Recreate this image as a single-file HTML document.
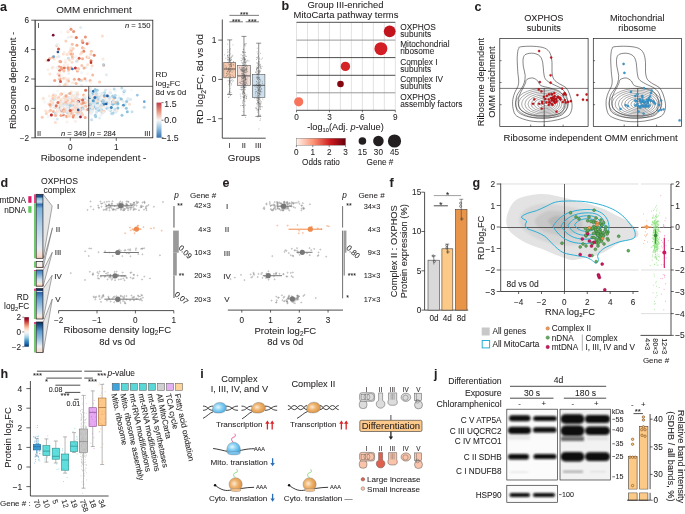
<!DOCTYPE html>
<html><head><meta charset="utf-8"><style>
html,body{margin:0;padding:0;background:#fff;width:685px;height:514px;overflow:hidden}
svg{display:block}
text{font-family:"Liberation Sans", sans-serif;fill:#231f20;stroke:#231f20;stroke-width:0.07px}
svg{will-change:transform}
</style></head><body>
<svg width="685" height="514" viewBox="0 0 685 514">
<defs>
<linearGradient id="gA" x1="0" y1="0" x2="0" y2="1"><stop offset="0" stop-color="#bb3a47"/><stop offset="0.25" stop-color="#e8957e"/><stop offset="0.5" stop-color="#f7f7f7"/><stop offset="0.75" stop-color="#8fbcdc"/><stop offset="1" stop-color="#3670b0"/></linearGradient>
<linearGradient id="gD" x1="0" y1="0" x2="0" y2="1"><stop offset="0.0" stop-color="#67001f"/><stop offset="0.1" stop-color="#b2182b"/><stop offset="0.2" stop-color="#d6604d"/><stop offset="0.3" stop-color="#f4a582"/><stop offset="0.4" stop-color="#fddbc7"/><stop offset="0.5" stop-color="#f7f7f7"/><stop offset="0.6" stop-color="#d1e5f0"/><stop offset="0.7" stop-color="#92c5de"/><stop offset="0.8" stop-color="#4393c3"/><stop offset="0.9" stop-color="#2166ac"/><stop offset="1.0" stop-color="#053061"/></linearGradient>
<linearGradient id="gB" x1="0" y1="0" x2="1" y2="0"><stop offset="0" stop-color="#fff5f0"/><stop offset="0.35" stop-color="#fc9272"/><stop offset="0.7" stop-color="#cb181d"/><stop offset="1" stop-color="#67000d"/></linearGradient>
<radialGradient id="gBlue" cx="0.4" cy="0.45" r="0.62"><stop offset="0" stop-color="#e6f6fe"/><stop offset="0.45" stop-color="#8ed2f4"/><stop offset="1" stop-color="#45ace4"/></radialGradient>
<radialGradient id="gOr" cx="0.4" cy="0.45" r="0.62"><stop offset="0" stop-color="#fdebd3"/><stop offset="0.45" stop-color="#eeb470"/><stop offset="1" stop-color="#d98f3e"/></radialGradient>
<filter id="blur1" x="-20%" y="-50%" width="140%" height="200%"><feGaussianBlur stdDeviation="1.2"/></filter>
<filter id="blur05" x="-20%" y="-60%" width="140%" height="220%"><feGaussianBlur stdDeviation="0.7"/></filter>
<filter id="blur08" x="-20%" y="-80%" width="140%" height="260%"><feGaussianBlur stdDeviation="0.9"/></filter>
<filter id="blur2" x="-20%" y="-20%" width="140%" height="140%"><feGaussianBlur stdDeviation="2.5"/></filter>
</defs>
<text x="0.00" y="10.70" font-size="12.5" font-weight="bold" >a</text>
<text x="94.00" y="12.96" font-size="9.9" text-anchor="middle" >OMM enrichment</text>
<circle cx="94.8" cy="106" r="1.5" fill="#d0e5f0" fill-opacity="0.83"/>
<circle cx="60.1" cy="79.3" r="1.5" fill="#ee9677" fill-opacity="0.97"/>
<circle cx="117.4" cy="101.8" r="1.5" fill="#aad1e5" fill-opacity="0.90"/>
<circle cx="119.5" cy="97.9" r="1.5" fill="#bbdaea" fill-opacity="0.87"/>
<circle cx="64.2" cy="104.5" r="1.5" fill="#f3f5f6" fill-opacity="0.73"/>
<circle cx="92.3" cy="99.9" r="1.5" fill="#b6d7e8" fill-opacity="0.88"/>
<circle cx="75.9" cy="110.7" r="1.5" fill="#ef9a79" fill-opacity="0.96"/>
<circle cx="83.3" cy="98.8" r="1.5" fill="#f9c5ab" fill-opacity="0.88"/>
<circle cx="51.7" cy="114.7" r="1.5" fill="#f7b89b" fill-opacity="0.90"/>
<circle cx="119.4" cy="100.1" r="1.5" fill="#faeae1" fill-opacity="0.77"/>
<circle cx="101.3" cy="109.7" r="1.5" fill="#c1ddeb" fill-opacity="0.86"/>
<circle cx="54" cy="119.2" r="1.5" fill="#f4f6f6" fill-opacity="0.73"/>
<circle cx="95.2" cy="108" r="1.5" fill="#f6f6f7" fill-opacity="0.72"/>
<circle cx="72.2" cy="103.1" r="1.5" fill="#fac9b0" fill-opacity="0.87"/>
<circle cx="91.6" cy="98.1" r="1.5" fill="#d1e5f0" fill-opacity="0.83"/>
<circle cx="97.4" cy="94.1" r="1.5" fill="#d4e6f1" fill-opacity="0.82"/>
<circle cx="70.3" cy="110.4" r="1.5" fill="#f9ede6" fill-opacity="0.76"/>
<circle cx="60.5" cy="61.3" r="1.5" fill="#fcdecc" fill-opacity="0.82"/>
<circle cx="75.8" cy="112.1" r="1.5" fill="#cfe4ef" fill-opacity="0.84"/>
<circle cx="64" cy="70" r="1.5" fill="#fcd6c1" fill-opacity="0.84"/>
<circle cx="97.6" cy="104.8" r="1.5" fill="#9ecbe1" fill-opacity="0.92"/>
<circle cx="77.4" cy="71" r="1.5" fill="#f5a886" fill-opacity="0.94"/>
<circle cx="85.9" cy="67.6" r="1.5" fill="#d8e8f1" fill-opacity="0.81"/>
<circle cx="60.9" cy="99.4" r="1.5" fill="#fce0cf" fill-opacity="0.81"/>
<circle cx="89.4" cy="100.4" r="1.5" fill="#f3f5f6" fill-opacity="0.73"/>
<circle cx="61.9" cy="105" r="1.5" fill="#fce0cf" fill-opacity="0.81"/>
<circle cx="93.4" cy="91.3" r="1.5" fill="#256baf" fill-opacity="1.00"/>
<circle cx="66.5" cy="95.6" r="1.5" fill="#f8bb9d" fill-opacity="0.90"/>
<circle cx="91.1" cy="107.4" r="1.5" fill="#bfdceb" fill-opacity="0.86"/>
<circle cx="98.2" cy="110.6" r="1.5" fill="#eaf1f5" fill-opacity="0.76"/>
<circle cx="58.5" cy="66.8" r="1.5" fill="#fbd1ba" fill-opacity="0.85"/>
<circle cx="106" cy="97.1" r="1.5" fill="#f7b799" fill-opacity="0.91"/>
<circle cx="88.7" cy="57.6" r="1.5" fill="#f7b597" fill-opacity="0.91"/>
<circle cx="79.6" cy="107.5" r="1.5" fill="#faebe2" fill-opacity="0.77"/>
<circle cx="66.4" cy="109.2" r="1.5" fill="#f7f6f5" fill-opacity="0.72"/>
<circle cx="69.2" cy="110.4" r="1.5" fill="#f9ece3" fill-opacity="0.77"/>
<circle cx="68.8" cy="109.9" r="1.5" fill="#fbceb6" fill-opacity="0.86"/>
<circle cx="75.3" cy="98" r="1.5" fill="#fbd1ba" fill-opacity="0.85"/>
<circle cx="67.5" cy="54.3" r="1.5" fill="#fbe3d5" fill-opacity="0.80"/>
<circle cx="77.3" cy="94.3" r="1.5" fill="#b1d5e7" fill-opacity="0.89"/>
<circle cx="57.1" cy="57" r="1.5" fill="#fbe2d3" fill-opacity="0.80"/>
<circle cx="84.8" cy="97.2" r="1.5" fill="#f8f1ed" fill-opacity="0.74"/>
<circle cx="52.8" cy="96.2" r="1.5" fill="#fcdecc" fill-opacity="0.82"/>
<circle cx="89.7" cy="96.3" r="1.5" fill="#e9f1f4" fill-opacity="0.76"/>
<circle cx="93.3" cy="101.9" r="1.5" fill="#a5cfe3" fill-opacity="0.91"/>
<circle cx="64.2" cy="99.6" r="1.5" fill="#e0765e" fill-opacity="1.00"/>
<circle cx="83.7" cy="51.2" r="1.5" fill="#e58267" fill-opacity="1.00"/>
<circle cx="89.9" cy="104.8" r="1.5" fill="#bcdaea" fill-opacity="0.87"/>
<circle cx="91.7" cy="93.8" r="1.5" fill="#a5cfe3" fill-opacity="0.91"/>
<circle cx="105.9" cy="103.7" r="1.5" fill="#fae8dd" fill-opacity="0.78"/>
<circle cx="46.8" cy="60.5" r="1.5" fill="#fcd5bf" fill-opacity="0.85"/>
<circle cx="69.6" cy="114.2" r="1.5" fill="#f5a987" fill-opacity="0.94"/>
<circle cx="52.9" cy="98.4" r="1.5" fill="#f8bda0" fill-opacity="0.90"/>
<circle cx="130.3" cy="99.2" r="1.5" fill="#c3deec" fill-opacity="0.86"/>
<circle cx="90.3" cy="101.1" r="1.5" fill="#f9efe9" fill-opacity="0.75"/>
<circle cx="66.6" cy="110.4" r="1.5" fill="#f9ebe3" fill-opacity="0.77"/>
<circle cx="70.5" cy="113.9" r="1.5" fill="#edf2f5" fill-opacity="0.75"/>
<circle cx="74.2" cy="104.8" r="1.5" fill="#e37d63" fill-opacity="1.00"/>
<circle cx="95.1" cy="102.1" r="1.5" fill="#c2ddec" fill-opacity="0.86"/>
<circle cx="79.8" cy="103.8" r="1.5" fill="#faebe2" fill-opacity="0.77"/>
<circle cx="85.6" cy="103.2" r="1.5" fill="#dfecf3" fill-opacity="0.79"/>
<circle cx="59.6" cy="107.9" r="1.5" fill="#fddcc8" fill-opacity="0.83"/>
<circle cx="71.7" cy="113.3" r="1.5" fill="#b2d5e7" fill-opacity="0.89"/>
<circle cx="70.8" cy="104" r="1.5" fill="#f5ac8b" fill-opacity="0.93"/>
<circle cx="77.4" cy="92.4" r="1.5" fill="#fcdecc" fill-opacity="0.82"/>
<circle cx="123.7" cy="94.2" r="1.5" fill="#ebf1f5" fill-opacity="0.75"/>
<circle cx="109.8" cy="105.9" r="1.5" fill="#f4f6f7" fill-opacity="0.73"/>
<circle cx="102.9" cy="101.9" r="1.5" fill="#deebf2" fill-opacity="0.79"/>
<circle cx="74.6" cy="110.7" r="1.5" fill="#e6eff4" fill-opacity="0.77"/>
<circle cx="116" cy="112.1" r="1.5" fill="#d7e8f1" fill-opacity="0.82"/>
<circle cx="96.4" cy="112.7" r="1.5" fill="#dfecf3" fill-opacity="0.79"/>
<circle cx="68.8" cy="93.5" r="1.5" fill="#deebf2" fill-opacity="0.79"/>
<circle cx="106.8" cy="107.2" r="1.5" fill="#c9e1ee" fill-opacity="0.85"/>
<circle cx="81.9" cy="98.1" r="1.5" fill="#f8f1ed" fill-opacity="0.74"/>
<circle cx="81.9" cy="80.2" r="1.5" fill="#facbb3" fill-opacity="0.87"/>
<circle cx="102.8" cy="103" r="1.5" fill="#abd2e5" fill-opacity="0.90"/>
<circle cx="53.5" cy="94.9" r="1.5" fill="#fac9b0" fill-opacity="0.87"/>
<circle cx="109.4" cy="99.4" r="1.5" fill="#d1e5f0" fill-opacity="0.83"/>
<circle cx="125.5" cy="90.7" r="1.5" fill="#f0f4f6" fill-opacity="0.74"/>
<circle cx="78.9" cy="102.1" r="1.5" fill="#f4a785" fill-opacity="0.94"/>
<circle cx="101.4" cy="95.5" r="1.5" fill="#cae2ee" fill-opacity="0.84"/>
<circle cx="48.6" cy="103.8" r="1.5" fill="#fbe3d5" fill-opacity="0.80"/>
<circle cx="77.1" cy="97" r="1.5" fill="#fbe3d5" fill-opacity="0.80"/>
<circle cx="86.2" cy="80.7" r="1.5" fill="#deebf2" fill-opacity="0.80"/>
<circle cx="67.8" cy="96.7" r="1.5" fill="#eaf1f5" fill-opacity="0.76"/>
<circle cx="72.8" cy="101.6" r="1.5" fill="#fdddca" fill-opacity="0.83"/>
<circle cx="105.6" cy="94.8" r="1.5" fill="#faeae0" fill-opacity="0.77"/>
<circle cx="51.3" cy="104.3" r="1.5" fill="#fae8dd" fill-opacity="0.78"/>
<circle cx="106.8" cy="104.5" r="1.5" fill="#dfecf3" fill-opacity="0.79"/>
<circle cx="131.5" cy="90.1" r="1.5" fill="#f6f6f7" fill-opacity="0.72"/>
<circle cx="59.5" cy="85.1" r="1.5" fill="#fae9df" fill-opacity="0.78"/>
<circle cx="99.5" cy="98.1" r="1.5" fill="#fbe2d4" fill-opacity="0.80"/>
<circle cx="109.3" cy="103.2" r="1.5" fill="#ecf2f5" fill-opacity="0.75"/>
<circle cx="91.8" cy="109.8" r="1.5" fill="#83bbd9" fill-opacity="0.97"/>
<circle cx="91.4" cy="96.5" r="1.5" fill="#dae9f2" fill-opacity="0.81"/>
<circle cx="94.8" cy="99.6" r="1.5" fill="#d0e5f0" fill-opacity="0.83"/>
<circle cx="101.7" cy="92.9" r="1.5" fill="#d9e9f1" fill-opacity="0.81"/>
<circle cx="68" cy="103.8" r="1.5" fill="#f9c4aa" fill-opacity="0.88"/>
<circle cx="108.3" cy="107.4" r="1.5" fill="#bbdaea" fill-opacity="0.87"/>
<circle cx="92.4" cy="93.9" r="1.5" fill="#87beda" fill-opacity="0.96"/>
<circle cx="81.5" cy="108.4" r="1.5" fill="#eef3f5" fill-opacity="0.75"/>
<circle cx="78.4" cy="68.5" r="1.5" fill="#fcd5bf" fill-opacity="0.85"/>
<circle cx="92.5" cy="99.6" r="1.5" fill="#f5f6f7" fill-opacity="0.73"/>
<circle cx="93.7" cy="98.7" r="1.5" fill="#4896c5" fill-opacity="1.00"/>
<circle cx="108.2" cy="98" r="1.5" fill="#eff3f6" fill-opacity="0.74"/>
<circle cx="103.9" cy="100" r="1.5" fill="#ddeaf2" fill-opacity="0.80"/>
<circle cx="73" cy="48.4" r="1.5" fill="#fac8ae" fill-opacity="0.87"/>
<circle cx="66.6" cy="116.8" r="1.5" fill="#f8bb9f" fill-opacity="0.90"/>
<circle cx="98.9" cy="105.5" r="1.5" fill="#fae8de" fill-opacity="0.78"/>
<circle cx="59.2" cy="111" r="1.5" fill="#fae8de" fill-opacity="0.78"/>
<circle cx="94.1" cy="106.2" r="1.5" fill="#5ba2cb" fill-opacity="1.00"/>
<circle cx="99.5" cy="98.5" r="1.5" fill="#deebf2" fill-opacity="0.79"/>
<circle cx="75.2" cy="103.7" r="1.5" fill="#e0ecf3" fill-opacity="0.79"/>
<circle cx="75.4" cy="67.9" r="1.5" fill="#c13539" fill-opacity="1.00"/>
<circle cx="71.4" cy="36.8" r="1.5" fill="#fcdecc" fill-opacity="0.82"/>
<circle cx="80.3" cy="110.6" r="1.5" fill="#e98b6e" fill-opacity="0.99"/>
<circle cx="100.9" cy="111.6" r="1.5" fill="#deebf2" fill-opacity="0.79"/>
<circle cx="94" cy="98.1" r="1.5" fill="#fce0d0" fill-opacity="0.81"/>
<circle cx="85.2" cy="117.5" r="1.5" fill="#f4a785" fill-opacity="0.94"/>
<circle cx="92.3" cy="109.1" r="1.5" fill="#98c8e0" fill-opacity="0.93"/>
<circle cx="89.1" cy="42.4" r="1.5" fill="#fae7dc" fill-opacity="0.78"/>
<circle cx="59.6" cy="70.2" r="1.5" fill="#df745c" fill-opacity="1.00"/>
<circle cx="94.5" cy="97.3" r="1.5" fill="#eef3f5" fill-opacity="0.75"/>
<circle cx="65.4" cy="62.3" r="1.5" fill="#fbe4d6" fill-opacity="0.80"/>
<circle cx="107.5" cy="89.4" r="1.5" fill="#f5f6f7" fill-opacity="0.73"/>
<circle cx="72.5" cy="95.6" r="1.5" fill="#dbeaf2" fill-opacity="0.80"/>
<circle cx="110.5" cy="110.4" r="1.5" fill="#aed3e6" fill-opacity="0.89"/>
<circle cx="87" cy="57.1" r="1.5" fill="#f8bca0" fill-opacity="0.90"/>
<circle cx="101.5" cy="98.2" r="1.5" fill="#e2edf3" fill-opacity="0.78"/>
<circle cx="72.2" cy="100.9" r="1.5" fill="#fcd7c2" fill-opacity="0.84"/>
<circle cx="61.7" cy="112.1" r="1.5" fill="#f8ba9d" fill-opacity="0.90"/>
<circle cx="71.4" cy="102.3" r="1.5" fill="#f8f0ec" fill-opacity="0.75"/>
<circle cx="72" cy="62.2" r="1.5" fill="#fcd7c2" fill-opacity="0.84"/>
<circle cx="90.1" cy="97.5" r="1.5" fill="#aad1e5" fill-opacity="0.90"/>
<circle cx="104.3" cy="108.2" r="1.5" fill="#e2edf3" fill-opacity="0.78"/>
<circle cx="77.2" cy="60.7" r="1.5" fill="#fbceb6" fill-opacity="0.86"/>
<circle cx="94.1" cy="98.5" r="1.5" fill="#97c8e0" fill-opacity="0.94"/>
<circle cx="73.8" cy="109.2" r="1.5" fill="#f7b89a" fill-opacity="0.91"/>
<circle cx="66.3" cy="110" r="1.5" fill="#fae8dd" fill-opacity="0.78"/>
<circle cx="114.9" cy="105.8" r="1.5" fill="#f4f5f6" fill-opacity="0.73"/>
<circle cx="56.8" cy="45.8" r="1.5" fill="#fac7ae" fill-opacity="0.87"/>
<circle cx="80" cy="117.8" r="1.5" fill="#f8f2ee" fill-opacity="0.74"/>
<circle cx="72.5" cy="58.5" r="1.5" fill="#fcd4bf" fill-opacity="0.85"/>
<circle cx="50.5" cy="106.6" r="1.5" fill="#fcd4be" fill-opacity="0.85"/>
<circle cx="55.5" cy="95.5" r="1.5" fill="#fbd0b9" fill-opacity="0.85"/>
<circle cx="71.3" cy="104.1" r="1.5" fill="#f9f0eb" fill-opacity="0.75"/>
<circle cx="71.2" cy="110.4" r="1.5" fill="#faeae1" fill-opacity="0.77"/>
<circle cx="109.2" cy="108.8" r="1.5" fill="#dbeaf2" fill-opacity="0.80"/>
<circle cx="103.4" cy="102.2" r="1.5" fill="#fae7dc" fill-opacity="0.78"/>
<circle cx="103.4" cy="102.6" r="1.5" fill="#f8f2ee" fill-opacity="0.74"/>
<circle cx="80.2" cy="113.3" r="1.5" fill="#c1ddeb" fill-opacity="0.86"/>
<circle cx="58.4" cy="108.3" r="1.5" fill="#f8f0eb" fill-opacity="0.75"/>
<circle cx="55.4" cy="122.6" r="1.5" fill="#fdd8c4" fill-opacity="0.84"/>
<circle cx="53.4" cy="111.4" r="1.5" fill="#f6b090" fill-opacity="0.92"/>
<circle cx="82.2" cy="107" r="1.5" fill="#e0ecf3" fill-opacity="0.79"/>
<circle cx="106.5" cy="108.5" r="1.5" fill="#f9ece3" fill-opacity="0.77"/>
<circle cx="82.9" cy="106.9" r="1.5" fill="#facbb3" fill-opacity="0.87"/>
<circle cx="70.5" cy="105.7" r="1.5" fill="#bbdaea" fill-opacity="0.87"/>
<circle cx="70.8" cy="109.1" r="1.5" fill="#f9eee7" fill-opacity="0.76"/>
<circle cx="102.7" cy="108.9" r="1.5" fill="#dae9f2" fill-opacity="0.81"/>
<circle cx="91" cy="60.8" r="1.5" fill="#df755d" fill-opacity="1.00"/>
<circle cx="76.5" cy="113.9" r="1.5" fill="#e4eef3" fill-opacity="0.78"/>
<circle cx="74.7" cy="97.8" r="1.5" fill="#fce0d0" fill-opacity="0.81"/>
<circle cx="127.3" cy="102.2" r="1.5" fill="#f8f1ed" fill-opacity="0.74"/>
<circle cx="100.9" cy="115.1" r="1.5" fill="#e7f0f4" fill-opacity="0.77"/>
<circle cx="129.8" cy="99.4" r="1.5" fill="#e2edf3" fill-opacity="0.78"/>
<circle cx="70.3" cy="27.1" r="1.5" fill="#f8f3f1" fill-opacity="0.73"/>
<circle cx="66.6" cy="97.7" r="1.5" fill="#fcd4be" fill-opacity="0.85"/>
<circle cx="65.2" cy="99.6" r="1.5" fill="#facbb2" fill-opacity="0.87"/>
<circle cx="97.1" cy="103.5" r="1.5" fill="#eff3f5" fill-opacity="0.74"/>
<circle cx="87.9" cy="100.6" r="1.5" fill="#e0ecf3" fill-opacity="0.79"/>
<circle cx="82.5" cy="58.8" r="1.5" fill="#f5ab89" fill-opacity="0.93"/>
<circle cx="76.9" cy="45.2" r="1.5" fill="#f3a380" fill-opacity="0.95"/>
<circle cx="109.1" cy="92.6" r="1.5" fill="#f7f6f5" fill-opacity="0.73"/>
<circle cx="78.1" cy="117.1" r="1.5" fill="#e3eef3" fill-opacity="0.78"/>
<circle cx="60.9" cy="32.2" r="1.5" fill="#f7f7f7" fill-opacity="0.72"/>
<circle cx="77.6" cy="113" r="1.5" fill="#ef9a79" fill-opacity="0.96"/>
<circle cx="54.7" cy="80.4" r="1.5" fill="#f09c7b" fill-opacity="0.96"/>
<circle cx="91.5" cy="112.3" r="1.5" fill="#f2f5f6" fill-opacity="0.73"/>
<circle cx="127.8" cy="99.2" r="1.5" fill="#deebf2" fill-opacity="0.80"/>
<circle cx="111.5" cy="97.1" r="1.5" fill="#e7eff4" fill-opacity="0.77"/>
<circle cx="71.2" cy="91.9" r="1.5" fill="#fddcc9" fill-opacity="0.83"/>
<circle cx="76.5" cy="99.9" r="1.5" fill="#fdddcb" fill-opacity="0.82"/>
<circle cx="68.3" cy="110.6" r="1.5" fill="#f2f5f6" fill-opacity="0.74"/>
<circle cx="79.9" cy="94.8" r="1.5" fill="#f6f7f7" fill-opacity="0.72"/>
<circle cx="104.6" cy="92.5" r="1.5" fill="#b0d4e7" fill-opacity="0.89"/>
<circle cx="70.3" cy="50" r="1.5" fill="#fbe3d4" fill-opacity="0.80"/>
<circle cx="113.6" cy="101.7" r="1.5" fill="#c2ddec" fill-opacity="0.86"/>
<circle cx="102.1" cy="107.5" r="1.5" fill="#e7f0f4" fill-opacity="0.77"/>
<circle cx="92.9" cy="105.2" r="1.5" fill="#e5eef4" fill-opacity="0.77"/>
<circle cx="60.9" cy="104.2" r="1.5" fill="#fae8dd" fill-opacity="0.78"/>
<circle cx="57.3" cy="119" r="1.5" fill="#cee4ef" fill-opacity="0.84"/>
<circle cx="109.9" cy="103.8" r="1.5" fill="#dbeaf2" fill-opacity="0.80"/>
<circle cx="61.2" cy="67.2" r="1.5" fill="#f5ab89" fill-opacity="0.93"/>
<circle cx="91.7" cy="104.2" r="1.5" fill="#ddebf2" fill-opacity="0.80"/>
<circle cx="61.4" cy="110.3" r="1.5" fill="#bc2b34" fill-opacity="1.00"/>
<circle cx="107.1" cy="95.3" r="1.5" fill="#c2ddec" fill-opacity="0.86"/>
<circle cx="90.8" cy="54.2" r="1.5" fill="#fcd2bc" fill-opacity="0.85"/>
<circle cx="85.2" cy="102.6" r="1.5" fill="#eff3f6" fill-opacity="0.74"/>
<circle cx="65.6" cy="109.4" r="1.5" fill="#fac8af" fill-opacity="0.87"/>
<circle cx="89.6" cy="100.8" r="1.5" fill="#d6e8f1" fill-opacity="0.82"/>
<circle cx="90.9" cy="103.4" r="1.5" fill="#e1edf3" fill-opacity="0.78"/>
<circle cx="97.2" cy="97.8" r="1.5" fill="#99c8e0" fill-opacity="0.93"/>
<circle cx="114.2" cy="103.5" r="1.5" fill="#9dcbe1" fill-opacity="0.92"/>
<circle cx="100.8" cy="108.9" r="1.5" fill="#cfe4ef" fill-opacity="0.84"/>
<circle cx="90.1" cy="108.7" r="1.5" fill="#cae2ee" fill-opacity="0.84"/>
<circle cx="129.5" cy="104.2" r="1.5" fill="#fddac5" fill-opacity="0.84"/>
<circle cx="64.3" cy="67.7" r="1.5" fill="#de735c" fill-opacity="1.00"/>
<circle cx="144.3" cy="107.2" r="1.5" fill="#add3e6" fill-opacity="0.90"/>
<circle cx="86.8" cy="110" r="1.5" fill="#f9efea" fill-opacity="0.75"/>
<circle cx="76.4" cy="99.4" r="1.5" fill="#fce0d0" fill-opacity="0.81"/>
<circle cx="125.2" cy="104.4" r="1.5" fill="#cee4ef" fill-opacity="0.84"/>
<circle cx="60.4" cy="113.2" r="1.5" fill="#f8f1ed" fill-opacity="0.74"/>
<circle cx="65.4" cy="60" r="1.5" fill="#f9efe9" fill-opacity="0.75"/>
<circle cx="85.7" cy="106.9" r="1.5" fill="#f9eee8" fill-opacity="0.75"/>
<circle cx="58.3" cy="107.4" r="1.5" fill="#fce2d3" fill-opacity="0.80"/>
<circle cx="64.3" cy="97.2" r="1.5" fill="#cfe4ef" fill-opacity="0.84"/>
<circle cx="103.7" cy="108.5" r="1.5" fill="#f1f4f6" fill-opacity="0.74"/>
<circle cx="68.4" cy="70.4" r="1.5" fill="#fbd1ba" fill-opacity="0.85"/>
<circle cx="72.6" cy="54.1" r="1.5" fill="#f7b799" fill-opacity="0.91"/>
<circle cx="80.2" cy="102.5" r="1.5" fill="#deebf2" fill-opacity="0.79"/>
<circle cx="57.4" cy="111.4" r="1.5" fill="#fcd6c0" fill-opacity="0.84"/>
<circle cx="97.7" cy="98.2" r="1.5" fill="#dbeaf2" fill-opacity="0.80"/>
<circle cx="112.7" cy="100.8" r="1.5" fill="#f7f6f5" fill-opacity="0.72"/>
<circle cx="72.2" cy="112.1" r="1.5" fill="#f9c6ac" fill-opacity="0.88"/>
<circle cx="62.8" cy="98.6" r="1.5" fill="#fae8dd" fill-opacity="0.78"/>
<circle cx="65.7" cy="112.1" r="1.5" fill="#f8f1ed" fill-opacity="0.74"/>
<circle cx="54.3" cy="59.1" r="1.5" fill="#fce1d2" fill-opacity="0.81"/>
<circle cx="96.6" cy="107.2" r="1.5" fill="#edf2f5" fill-opacity="0.75"/>
<circle cx="70.5" cy="105.5" r="1.5" fill="#f8bda1" fill-opacity="0.89"/>
<circle cx="59.7" cy="49.2" r="1.5" fill="#f0f4f6" fill-opacity="0.74"/>
<circle cx="97.9" cy="98.5" r="1.5" fill="#2b73b3" fill-opacity="1.00"/>
<circle cx="103.6" cy="106" r="1.5" fill="#b2d5e7" fill-opacity="0.89"/>
<circle cx="75.2" cy="105.7" r="1.5" fill="#f5f6f7" fill-opacity="0.73"/>
<circle cx="108.3" cy="102.3" r="1.5" fill="#cae2ee" fill-opacity="0.84"/>
<circle cx="68.6" cy="73.5" r="1.5" fill="#e6eff4" fill-opacity="0.77"/>
<circle cx="78.1" cy="69.1" r="1.5" fill="#f6af8f" fill-opacity="0.92"/>
<circle cx="90.5" cy="90.9" r="1.5" fill="#c6e0ed" fill-opacity="0.85"/>
<circle cx="69.9" cy="110.9" r="1.5" fill="#c6413e" fill-opacity="1.00"/>
<circle cx="88.3" cy="56.7" r="1.5" fill="#f8f5f3" fill-opacity="0.73"/>
<circle cx="91.6" cy="119.7" r="1.5" fill="#c0dceb" fill-opacity="0.86"/>
<circle cx="59.6" cy="108.5" r="1.5" fill="#f5ac8b" fill-opacity="0.93"/>
<circle cx="99.6" cy="82.1" r="1.5" fill="#f9c5ab" fill-opacity="0.88"/>
<circle cx="67.9" cy="31.7" r="1.5" fill="#f8ba9d" fill-opacity="0.90"/>
<circle cx="81.6" cy="112.9" r="1.5" fill="#fbd0b9" fill-opacity="0.86"/>
<circle cx="114" cy="110.2" r="1.5" fill="#ddeaf2" fill-opacity="0.80"/>
<circle cx="83" cy="108.7" r="1.5" fill="#f8f1ed" fill-opacity="0.74"/>
<circle cx="93" cy="100.3" r="1.5" fill="#cde3ef" fill-opacity="0.84"/>
<circle cx="90.9" cy="111" r="1.5" fill="#89bfdb" fill-opacity="0.96"/>
<circle cx="86.8" cy="108.9" r="1.5" fill="#fcdfcf" fill-opacity="0.81"/>
<circle cx="100.5" cy="106.2" r="1.5" fill="#c9e1ee" fill-opacity="0.85"/>
<circle cx="57.9" cy="99.3" r="1.5" fill="#f7f7f7" fill-opacity="0.72"/>
<circle cx="78.3" cy="106.2" r="1.5" fill="#f8bc9f" fill-opacity="0.90"/>
<circle cx="57.6" cy="104.8" r="1.5" fill="#fcd8c3" fill-opacity="0.84"/>
<circle cx="62.5" cy="79.4" r="1.5" fill="#f6f6f7" fill-opacity="0.72"/>
<circle cx="112.6" cy="114.8" r="1.5" fill="#f1f4f6" fill-opacity="0.74"/>
<circle cx="103" cy="59" r="1.5" fill="#fce2d3" fill-opacity="0.80"/>
<circle cx="63.3" cy="114.9" r="1.5" fill="#df755d" fill-opacity="1.00"/>
<circle cx="71" cy="109.8" r="1.5" fill="#ddebf2" fill-opacity="0.80"/>
<circle cx="115" cy="109" r="1.5" fill="#b9d9e9" fill-opacity="0.88"/>
<circle cx="59.1" cy="97" r="1.5" fill="#fce0d0" fill-opacity="0.81"/>
<circle cx="71.3" cy="50.5" r="1.5" fill="#f8bb9e" fill-opacity="0.90"/>
<circle cx="67.8" cy="109.5" r="1.5" fill="#fac9b0" fill-opacity="0.87"/>
<circle cx="65.6" cy="95.2" r="1.5" fill="#edf2f5" fill-opacity="0.75"/>
<circle cx="66.7" cy="104.1" r="1.5" fill="#e3eef3" fill-opacity="0.78"/>
<circle cx="91.3" cy="68.8" r="1.5" fill="#eef3f5" fill-opacity="0.75"/>
<circle cx="75.7" cy="105.9" r="1.5" fill="#ecf2f5" fill-opacity="0.75"/>
<circle cx="75.2" cy="37.7" r="1.5" fill="#fae8dd" fill-opacity="0.78"/>
<circle cx="77.6" cy="105.6" r="1.5" fill="#f8f1ed" fill-opacity="0.74"/>
<circle cx="67.9" cy="104.3" r="1.5" fill="#f8f4f2" fill-opacity="0.73"/>
<circle cx="75.3" cy="111.6" r="1.5" fill="#f9c5ac" fill-opacity="0.88"/>
<circle cx="105.9" cy="98.3" r="1.5" fill="#dfebf3" fill-opacity="0.79"/>
<circle cx="80.6" cy="27.4" r="1.5" fill="#d8e9f1" fill-opacity="0.81"/>
<circle cx="64.7" cy="103.2" r="1.5" fill="#f8f3f0" fill-opacity="0.74"/>
<circle cx="90.1" cy="80.6" r="1.5" fill="#f6b394" fill-opacity="0.92"/>
<circle cx="65.5" cy="102.6" r="1.5" fill="#cbe2ee" fill-opacity="0.84"/>
<circle cx="53.7" cy="108.1" r="1.5" fill="#fbe6da" fill-opacity="0.79"/>
<circle cx="57.3" cy="103.2" r="1.5" fill="#fcd7c2" fill-opacity="0.84"/>
<circle cx="81" cy="108" r="1.5" fill="#f6b08f" fill-opacity="0.92"/>
<circle cx="72.3" cy="44.3" r="1.5" fill="#f7b99c" fill-opacity="0.90"/>
<circle cx="73.1" cy="105.4" r="1.5" fill="#f8c0a4" fill-opacity="0.89"/>
<circle cx="67" cy="122.1" r="1.5" fill="#f9eee7" fill-opacity="0.76"/>
<circle cx="80" cy="106.6" r="1.5" fill="#f7f7f7" fill-opacity="0.72"/>
<circle cx="62.9" cy="102.3" r="1.5" fill="#e4eef3" fill-opacity="0.78"/>
<circle cx="101.5" cy="107.3" r="1.5" fill="#a9d1e5" fill-opacity="0.90"/>
<circle cx="107.2" cy="108.3" r="1.5" fill="#92c5de" fill-opacity="0.94"/>
<circle cx="92.2" cy="100.2" r="1.5" fill="#cbe2ee" fill-opacity="0.84"/>
<circle cx="127.3" cy="111.7" r="1.5" fill="#85bdda" fill-opacity="0.96"/>
<circle cx="73.3" cy="116.9" r="1.5" fill="#e98b6e" fill-opacity="0.99"/>
<circle cx="58.9" cy="56.5" r="1.5" fill="#d9e9f1" fill-opacity="0.81"/>
<circle cx="78.5" cy="107.9" r="1.5" fill="#fcdfcf" fill-opacity="0.81"/>
<circle cx="106.2" cy="101.1" r="1.5" fill="#dae9f2" fill-opacity="0.81"/>
<circle cx="60.6" cy="110.6" r="1.5" fill="#e1ecf3" fill-opacity="0.79"/>
<circle cx="49.3" cy="96.1" r="1.5" fill="#faeae0" fill-opacity="0.77"/>
<circle cx="50.3" cy="104.7" r="1.5" fill="#facbb3" fill-opacity="0.87"/>
<circle cx="118.4" cy="96" r="1.5" fill="#f2f4f6" fill-opacity="0.74"/>
<circle cx="79.3" cy="100" r="1.5" fill="#f9c2a7" fill-opacity="0.88"/>
<circle cx="92.8" cy="97.4" r="1.5" fill="#e5eff4" fill-opacity="0.77"/>
<circle cx="66.6" cy="106.4" r="1.5" fill="#f8f1ed" fill-opacity="0.74"/>
<circle cx="72.4" cy="111" r="1.5" fill="#fbe6da" fill-opacity="0.79"/>
<circle cx="64" cy="92.8" r="1.5" fill="#f8f4f1" fill-opacity="0.73"/>
<circle cx="90.8" cy="109.6" r="1.5" fill="#69abd0" fill-opacity="1.00"/>
<circle cx="48" cy="69.8" r="1.5" fill="#f9ede6" fill-opacity="0.76"/>
<circle cx="99.5" cy="99.9" r="1.5" fill="#e3edf3" fill-opacity="0.78"/>
<circle cx="103.1" cy="104.2" r="1.5" fill="#5ba2cb" fill-opacity="1.00"/>
<circle cx="101.6" cy="100.5" r="1.5" fill="#a8d0e4" fill-opacity="0.90"/>
<circle cx="92.1" cy="101.6" r="1.5" fill="#e1edf3" fill-opacity="0.79"/>
<circle cx="109.3" cy="107.2" r="1.5" fill="#e0ecf3" fill-opacity="0.79"/>
<circle cx="102.4" cy="36" r="1.5" fill="#fcd7c1" fill-opacity="0.84"/>
<circle cx="58" cy="74.1" r="1.5" fill="#fcd6c0" fill-opacity="0.84"/>
<circle cx="75.5" cy="121.2" r="1.5" fill="#fae7dc" fill-opacity="0.78"/>
<circle cx="64.3" cy="100.5" r="1.5" fill="#f4a683" fill-opacity="0.94"/>
<circle cx="95.3" cy="115.3" r="1.5" fill="#9ac9e0" fill-opacity="0.93"/>
<circle cx="101.9" cy="110" r="1.5" fill="#b7d8e9" fill-opacity="0.88"/>
<circle cx="60.8" cy="106.4" r="1.5" fill="#fae9e0" fill-opacity="0.77"/>
<circle cx="106.6" cy="101.9" r="1.5" fill="#3581ba" fill-opacity="1.00"/>
<circle cx="55.6" cy="107.3" r="1.5" fill="#ef9978" fill-opacity="0.97"/>
<circle cx="70.2" cy="110.2" r="1.5" fill="#fcd5bf" fill-opacity="0.84"/>
<circle cx="102.6" cy="101.8" r="1.5" fill="#529cc8" fill-opacity="1.00"/>
<circle cx="110.5" cy="92.7" r="1.5" fill="#cde3ef" fill-opacity="0.84"/>
<circle cx="123.4" cy="105.2" r="1.5" fill="#4896c5" fill-opacity="1.00"/>
<circle cx="82.7" cy="114.9" r="1.5" fill="#fbd1ba" fill-opacity="0.85"/>
<circle cx="95.8" cy="93.6" r="1.5" fill="#ddeaf2" fill-opacity="0.80"/>
<circle cx="63.1" cy="107.4" r="1.5" fill="#fbcfb8" fill-opacity="0.86"/>
<circle cx="72.8" cy="104.5" r="1.5" fill="#f2a07e" fill-opacity="0.95"/>
<circle cx="100.2" cy="103.5" r="1.5" fill="#f8f4f2" fill-opacity="0.73"/>
<circle cx="83.6" cy="95" r="1.5" fill="#f6b292" fill-opacity="0.92"/>
<circle cx="74.2" cy="100.2" r="1.5" fill="#e5eef4" fill-opacity="0.77"/>
<circle cx="92.5" cy="106.1" r="1.5" fill="#95c6df" fill-opacity="0.94"/>
<circle cx="92.1" cy="65.7" r="1.5" fill="#fcd3bc" fill-opacity="0.85"/>
<circle cx="92.3" cy="107.2" r="1.5" fill="#dbeaf2" fill-opacity="0.80"/>
<circle cx="106.6" cy="106.2" r="1.5" fill="#f7f6f5" fill-opacity="0.72"/>
<circle cx="67.7" cy="110.6" r="1.5" fill="#fbe4d7" fill-opacity="0.80"/>
<circle cx="57.2" cy="96.9" r="1.5" fill="#f8f2ef" fill-opacity="0.74"/>
<circle cx="83.4" cy="108.4" r="1.5" fill="#d96853" fill-opacity="1.00"/>
<circle cx="99" cy="96.4" r="1.5" fill="#f8f4f2" fill-opacity="0.73"/>
<circle cx="70.7" cy="97.9" r="1.5" fill="#f8f5f3" fill-opacity="0.73"/>
<circle cx="76.4" cy="37.4" r="1.5" fill="#df755d" fill-opacity="1.00"/>
<circle cx="90" cy="96.8" r="1.5" fill="#fbe6da" fill-opacity="0.79"/>
<circle cx="102.8" cy="112.4" r="1.5" fill="#91c4de" fill-opacity="0.95"/>
<circle cx="63.3" cy="54.1" r="1.5" fill="#fdd8c3" fill-opacity="0.84"/>
<circle cx="81.5" cy="108" r="1.5" fill="#f5a987" fill-opacity="0.94"/>
<circle cx="68.6" cy="97.6" r="1.5" fill="#fddbc8" fill-opacity="0.83"/>
<circle cx="100" cy="110.3" r="1.5" fill="#e1ecf3" fill-opacity="0.79"/>
<circle cx="55.6" cy="105.9" r="1.5" fill="#faebe2" fill-opacity="0.77"/>
<circle cx="56.2" cy="98.7" r="1.5" fill="#fbe3d4" fill-opacity="0.80"/>
<circle cx="104.2" cy="111.4" r="1.5" fill="#f7b99c" fill-opacity="0.90"/>
<circle cx="115.6" cy="90.9" r="1.5" fill="#f0f4f6" fill-opacity="0.74"/>
<circle cx="106.4" cy="74.7" r="1.5" fill="#d7e8f1" fill-opacity="0.81"/>
<circle cx="75" cy="102.3" r="1.5" fill="#f7f5f4" fill-opacity="0.73"/>
<circle cx="92.9" cy="106.1" r="1.5" fill="#f8f4f2" fill-opacity="0.73"/>
<circle cx="99.4" cy="98.2" r="1.5" fill="#dae9f2" fill-opacity="0.81"/>
<circle cx="72.7" cy="109.6" r="1.5" fill="#f7b99c" fill-opacity="0.90"/>
<circle cx="59.7" cy="75.5" r="1.5" fill="#e9f1f4" fill-opacity="0.76"/>
<circle cx="74" cy="101.8" r="1.5" fill="#fce0cf" fill-opacity="0.81"/>
<circle cx="115.3" cy="102.6" r="1.5" fill="#9dcbe1" fill-opacity="0.93"/>
<circle cx="64.1" cy="52.2" r="1.5" fill="#faeae1" fill-opacity="0.77"/>
<circle cx="74.4" cy="79.2" r="1.5" fill="#f5ad8c" fill-opacity="0.93"/>
<circle cx="90.3" cy="104" r="1.5" fill="#b3d6e7" fill-opacity="0.89"/>
<circle cx="49.7" cy="58.4" r="1.5" fill="#f7b596" fill-opacity="0.91"/>
<circle cx="65.7" cy="84.3" r="1.5" fill="#f9c4aa" fill-opacity="0.88"/>
<circle cx="76.5" cy="100.9" r="1.5" fill="#f9efea" fill-opacity="0.75"/>
<circle cx="72" cy="96.2" r="1.5" fill="#fcdecb" fill-opacity="0.82"/>
<circle cx="79.1" cy="58.2" r="1.5" fill="#d7624f" fill-opacity="1.00"/>
<circle cx="67.4" cy="84.5" r="1.5" fill="#f9efe8" fill-opacity="0.75"/>
<circle cx="68.9" cy="114.1" r="1.5" fill="#eaf1f5" fill-opacity="0.76"/>
<circle cx="74.6" cy="95.3" r="1.5" fill="#fbe6da" fill-opacity="0.79"/>
<circle cx="76" cy="100.6" r="1.5" fill="#f8f4f2" fill-opacity="0.73"/>
<circle cx="108.1" cy="95.1" r="1.5" fill="#e8f0f4" fill-opacity="0.76"/>
<circle cx="73.2" cy="98.2" r="1.5" fill="#fcd5c0" fill-opacity="0.84"/>
<circle cx="93.1" cy="103.5" r="1.5" fill="#cfe4f0" fill-opacity="0.84"/>
<circle cx="75" cy="107.5" r="1.5" fill="#de725a" fill-opacity="1.00"/>
<circle cx="63.7" cy="78.3" r="1.5" fill="#f9c6ac" fill-opacity="0.88"/>
<circle cx="102" cy="103.4" r="1.5" fill="#fae8dd" fill-opacity="0.78"/>
<circle cx="82.4" cy="108.3" r="1.5" fill="#a1cde2" fill-opacity="0.92"/>
<circle cx="71" cy="110.2" r="1.5" fill="#fbcdb6" fill-opacity="0.86"/>
<circle cx="53" cy="66.9" r="1.5" fill="#fbe6da" fill-opacity="0.79"/>
<circle cx="103.6" cy="106.3" r="1.5" fill="#f9eee8" fill-opacity="0.76"/>
<circle cx="75.5" cy="117.5" r="1.5" fill="#faebe2" fill-opacity="0.77"/>
<circle cx="111.2" cy="102.7" r="1.5" fill="#f2f4f6" fill-opacity="0.74"/>
<circle cx="75.3" cy="92.4" r="1.5" fill="#f2f4f6" fill-opacity="0.74"/>
<circle cx="89.9" cy="101.8" r="1.5" fill="#f8f3f0" fill-opacity="0.74"/>
<circle cx="62" cy="75.6" r="1.5" fill="#f7f5f3" fill-opacity="0.73"/>
<circle cx="68.4" cy="58.2" r="1.5" fill="#bedbeb" fill-opacity="0.87"/>
<circle cx="65.1" cy="77.9" r="1.5" fill="#fcdfce" fill-opacity="0.82"/>
<circle cx="52.9" cy="105.1" r="1.5" fill="#d7e8f1" fill-opacity="0.81"/>
<circle cx="92.7" cy="102.1" r="1.5" fill="#91c5de" fill-opacity="0.95"/>
<circle cx="70.4" cy="116.2" r="1.5" fill="#fce1d2" fill-opacity="0.81"/>
<circle cx="90.2" cy="89.2" r="1.5" fill="#e3eef3" fill-opacity="0.78"/>
<circle cx="98.4" cy="110" r="1.5" fill="#dbeaf2" fill-opacity="0.80"/>
<circle cx="80.3" cy="80.2" r="1.5" fill="#bddbea" fill-opacity="0.87"/>
<circle cx="63.4" cy="111.6" r="1.5" fill="#f5a987" fill-opacity="0.94"/>
<circle cx="114.2" cy="88.9" r="1.5" fill="#b1d5e7" fill-opacity="0.89"/>
<circle cx="98.8" cy="97.2" r="1.5" fill="#d7e8f1" fill-opacity="0.82"/>
<circle cx="100.4" cy="107.1" r="1.5" fill="#fbe5d9" fill-opacity="0.79"/>
<circle cx="69" cy="109.3" r="1.5" fill="#fbd1bb" fill-opacity="0.85"/>
<circle cx="90.6" cy="94.6" r="1.5" fill="#d7e8f1" fill-opacity="0.81"/>
<circle cx="85.6" cy="105.9" r="1.5" fill="#fcd2bc" fill-opacity="0.85"/>
<circle cx="96.1" cy="108.6" r="1.5" fill="#9ecbe2" fill-opacity="0.92"/>
<circle cx="87.6" cy="73.7" r="1.5" fill="#f8f1ed" fill-opacity="0.74"/>
<circle cx="104.4" cy="96.7" r="1.5" fill="#e0ecf3" fill-opacity="0.79"/>
<circle cx="63.3" cy="98.8" r="1.5" fill="#fbe6da" fill-opacity="0.79"/>
<circle cx="90.3" cy="99.4" r="1.5" fill="#afd4e6" fill-opacity="0.89"/>
<circle cx="65.3" cy="97" r="1.5" fill="#fdddca" fill-opacity="0.83"/>
<circle cx="85.7" cy="106.5" r="1.5" fill="#cbe2ee" fill-opacity="0.84"/>
<circle cx="67.5" cy="105" r="1.5" fill="#f5ad8d" fill-opacity="0.93"/>
<circle cx="58.3" cy="109.3" r="1.5" fill="#f9efea" fill-opacity="0.75"/>
<circle cx="67.7" cy="80" r="1.5" fill="#f8bb9e" fill-opacity="0.90"/>
<circle cx="79.4" cy="102.9" r="1.5" fill="#f8f3f0" fill-opacity="0.74"/>
<circle cx="81.8" cy="65.5" r="1.5" fill="#f8bfa4" fill-opacity="0.89"/>
<circle cx="96.4" cy="104.3" r="1.5" fill="#cfe4ef" fill-opacity="0.84"/>
<circle cx="81.8" cy="52.4" r="1.5" fill="#fac8af" fill-opacity="0.87"/>
<circle cx="92.4" cy="99.7" r="1.5" fill="#fcd5bf" fill-opacity="0.85"/>
<circle cx="65.1" cy="111.3" r="1.5" fill="#fbe5d9" fill-opacity="0.79"/>
<circle cx="95.5" cy="96.5" r="1.5" fill="#f8f0eb" fill-opacity="0.75"/>
<circle cx="50.7" cy="99.9" r="1.5" fill="#e9f0f4" fill-opacity="0.76"/>
<circle cx="105.4" cy="90" r="1.5" fill="#d6e7f1" fill-opacity="0.82"/>
<circle cx="91.7" cy="110.7" r="1.5" fill="#c5dfed" fill-opacity="0.85"/>
<circle cx="95" cy="99.1" r="1.5" fill="#57a0ca" fill-opacity="1.00"/>
<circle cx="77.6" cy="111.6" r="1.5" fill="#fce0d0" fill-opacity="0.81"/>
<circle cx="62.4" cy="109.2" r="1.5" fill="#f8f3f0" fill-opacity="0.74"/>
<circle cx="77.8" cy="69.8" r="1.5" fill="#fce0d0" fill-opacity="0.81"/>
<circle cx="60.9" cy="115.4" r="1.5" fill="#f4a481" fill-opacity="0.95"/>
<circle cx="90.9" cy="94.8" r="1.5" fill="#ecf2f5" fill-opacity="0.75"/>
<circle cx="71.5" cy="96.9" r="1.5" fill="#f9ede5" fill-opacity="0.76"/>
<circle cx="96.7" cy="99.1" r="1.5" fill="#fbe4d7" fill-opacity="0.80"/>
<circle cx="96" cy="94.1" r="1.5" fill="#d9e9f1" fill-opacity="0.81"/>
<circle cx="65" cy="109.8" r="1.5" fill="#fbcdb5" fill-opacity="0.86"/>
<circle cx="111" cy="99.7" r="1.5" fill="#f2f4f6" fill-opacity="0.74"/>
<circle cx="72.3" cy="56.8" r="1.5" fill="#f7b799" fill-opacity="0.91"/>
<circle cx="126.6" cy="101.5" r="1.5" fill="#96c7df" fill-opacity="0.94"/>
<circle cx="65.7" cy="107.6" r="1.5" fill="#eaf1f5" fill-opacity="0.76"/>
<circle cx="60.5" cy="81.5" r="1.5" fill="#d35b4a" fill-opacity="1.00"/>
<circle cx="76.3" cy="109" r="1.5" fill="#facbb3" fill-opacity="0.87"/>
<circle cx="90.9" cy="82.2" r="1.5" fill="#f9eee8" fill-opacity="0.75"/>
<circle cx="98.9" cy="99.7" r="1.5" fill="#a3cee3" fill-opacity="0.91"/>
<circle cx="91.4" cy="113.4" r="1.5" fill="#e7eff4" fill-opacity="0.77"/>
<circle cx="60.4" cy="107.9" r="1.5" fill="#fcd2bc" fill-opacity="0.85"/>
<circle cx="67.7" cy="104.1" r="1.5" fill="#e1edf3" fill-opacity="0.78"/>
<circle cx="52.8" cy="57.2" r="1.5" fill="#f5ab89" fill-opacity="0.93"/>
<circle cx="90.1" cy="100.3" r="1.5" fill="#fbe4d6" fill-opacity="0.80"/>
<circle cx="71" cy="68.1" r="1.5" fill="#d96652" fill-opacity="1.00"/>
<circle cx="68.3" cy="114.4" r="1.5" fill="#f9efea" fill-opacity="0.75"/>
<circle cx="100.7" cy="99.9" r="1.5" fill="#b2d5e7" fill-opacity="0.89"/>
<circle cx="79.5" cy="113" r="1.5" fill="#f7f5f3" fill-opacity="0.73"/>
<circle cx="61.4" cy="94" r="1.5" fill="#f2a17f" fill-opacity="0.95"/>
<circle cx="79.4" cy="99.8" r="1.5" fill="#f5a987" fill-opacity="0.94"/>
<circle cx="85" cy="98.6" r="1.5" fill="#cbe2ee" fill-opacity="0.84"/>
<circle cx="89.3" cy="104.8" r="1.5" fill="#e37f65" fill-opacity="1.00"/>
<circle cx="73.9" cy="109.4" r="1.5" fill="#fac7ae" fill-opacity="0.87"/>
<circle cx="54.8" cy="97.6" r="1.5" fill="#fcdecc" fill-opacity="0.82"/>
<circle cx="85.7" cy="108.7" r="1.5" fill="#f8f4f2" fill-opacity="0.73"/>
<circle cx="65.5" cy="109.8" r="1.5" fill="#f2a07e" fill-opacity="0.95"/>
<circle cx="59.7" cy="78.4" r="1.5" fill="#f6af8e" fill-opacity="0.92"/>
<circle cx="58.2" cy="112.1" r="1.5" fill="#ebf1f5" fill-opacity="0.76"/>
<circle cx="77.4" cy="98.4" r="1.5" fill="#f8f0ec" fill-opacity="0.75"/>
<circle cx="76.9" cy="104.3" r="1.5" fill="#fcd3bd" fill-opacity="0.85"/>
<circle cx="87.8" cy="95.9" r="1.5" fill="#f7f6f5" fill-opacity="0.73"/>
<circle cx="71.3" cy="102.7" r="1.5" fill="#f9c3a8" fill-opacity="0.88"/>
<circle cx="108.3" cy="109.6" r="1.5" fill="#eaf1f5" fill-opacity="0.76"/>
<circle cx="92.9" cy="105.5" r="1.5" fill="#e7eff4" fill-opacity="0.77"/>
<circle cx="66" cy="96.1" r="1.5" fill="#f5a886" fill-opacity="0.94"/>
<circle cx="95.6" cy="95.5" r="1.5" fill="#fbd0b9" fill-opacity="0.86"/>
<circle cx="58.5" cy="49.1" r="1.5" fill="#d25849" fill-opacity="1.00"/>
<circle cx="73.1" cy="107.2" r="1.5" fill="#f8f3f0" fill-opacity="0.74"/>
<circle cx="99" cy="93.4" r="1.5" fill="#eff3f6" fill-opacity="0.74"/>
<circle cx="115.2" cy="102.2" r="1.5" fill="#f8bda0" fill-opacity="0.90"/>
<circle cx="92.7" cy="97.1" r="1.5" fill="#f9eee8" fill-opacity="0.76"/>
<circle cx="112.7" cy="104.3" r="1.5" fill="#88bfdb" fill-opacity="0.96"/>
<circle cx="126.3" cy="108.2" r="1.5" fill="#93c5de" fill-opacity="0.94"/>
<circle cx="71.3" cy="53.3" r="1.5" fill="#fbe4d7" fill-opacity="0.80"/>
<circle cx="55.3" cy="113.4" r="1.5" fill="#b4d6e8" fill-opacity="0.88"/>
<circle cx="99.5" cy="118" r="1.5" fill="#dae9f2" fill-opacity="0.81"/>
<circle cx="66.7" cy="100.6" r="1.5" fill="#f8bea2" fill-opacity="0.89"/>
<circle cx="101.7" cy="106.9" r="1.5" fill="#faebe3" fill-opacity="0.77"/>
<circle cx="63.9" cy="71" r="1.5" fill="#f8bb9e" fill-opacity="0.90"/>
<circle cx="107.6" cy="100.3" r="1.5" fill="#d0e5f0" fill-opacity="0.83"/>
<circle cx="101.6" cy="95.8" r="1.5" fill="#fbe4d7" fill-opacity="0.79"/>
<circle cx="95.1" cy="98.8" r="1.5" fill="#e1ecf3" fill-opacity="0.79"/>
<circle cx="115" cy="97.7" r="1.5" fill="#8bc0db" fill-opacity="0.96"/>
<circle cx="72.8" cy="102.6" r="1.5" fill="#f8f4f2" fill-opacity="0.73"/>
<circle cx="92.8" cy="102" r="1.5" fill="#dae9f2" fill-opacity="0.81"/>
<circle cx="58.5" cy="98.4" r="1.5" fill="#f8f4f1" fill-opacity="0.73"/>
<circle cx="67.2" cy="109.8" r="1.5" fill="#fbe4d7" fill-opacity="0.80"/>
<circle cx="102.9" cy="112.9" r="1.5" fill="#e7eff4" fill-opacity="0.77"/>
<circle cx="60.5" cy="94.3" r="1.5" fill="#fdd8c4" fill-opacity="0.84"/>
<circle cx="81.1" cy="113.8" r="1.5" fill="#facbb2" fill-opacity="0.87"/>
<circle cx="90.1" cy="112.2" r="1.5" fill="#fae8dd" fill-opacity="0.78"/>
<circle cx="43.3" cy="99.5" r="1.5" fill="#f8f1ed" fill-opacity="0.74"/>
<circle cx="57.2" cy="44.3" r="1.5" fill="#e9f0f4" fill-opacity="0.76"/>
<circle cx="60.8" cy="101.5" r="1.5" fill="#f7b495" fill-opacity="0.91"/>
<circle cx="73.6" cy="115.3" r="1.5" fill="#f2a07e" fill-opacity="0.95"/>
<circle cx="95" cy="99.5" r="1.5" fill="#c2ddec" fill-opacity="0.86"/>
<circle cx="78.7" cy="106.6" r="1.5" fill="#deebf2" fill-opacity="0.79"/>
<circle cx="113.2" cy="113.1" r="1.5" fill="#a4cee3" fill-opacity="0.91"/>
<circle cx="102.8" cy="95.7" r="1.5" fill="#f1f4f6" fill-opacity="0.74"/>
<circle cx="63.2" cy="107.4" r="1.5" fill="#fddcc9" fill-opacity="0.83"/>
<circle cx="91" cy="101.6" r="1.5" fill="#c2ddec" fill-opacity="0.86"/>
<circle cx="118.1" cy="99.4" r="1.5" fill="#e9f0f4" fill-opacity="0.76"/>
<circle cx="98.5" cy="110.2" r="1.5" fill="#9ac9e0" fill-opacity="0.93"/>
<circle cx="67.1" cy="104.9" r="1.5" fill="#bad9e9" fill-opacity="0.87"/>
<circle cx="123.1" cy="101.6" r="1.5" fill="#dfecf3" fill-opacity="0.79"/>
<circle cx="75.1" cy="108.9" r="1.5" fill="#fbe6d9" fill-opacity="0.79"/>
<circle cx="101.7" cy="110.9" r="1.5" fill="#a7cfe4" fill-opacity="0.91"/>
<circle cx="65.5" cy="108.8" r="1.5" fill="#fbe3d5" fill-opacity="0.80"/>
<circle cx="79.7" cy="113.8" r="1.5" fill="#dfecf3" fill-opacity="0.79"/>
<circle cx="112.4" cy="102" r="1.5" fill="#8bc1dc" fill-opacity="0.95"/>
<circle cx="67.5" cy="64.8" r="1.5" fill="#faeae1" fill-opacity="0.77"/>
<circle cx="81.9" cy="105" r="1.5" fill="#f2f4f6" fill-opacity="0.74"/>
<circle cx="84.9" cy="78.8" r="1.5" fill="#f4a482" fill-opacity="0.95"/>
<circle cx="75.3" cy="103.2" r="1.5" fill="#fce1d1" fill-opacity="0.81"/>
<circle cx="68.4" cy="80.9" r="1.5" fill="#f6af8f" fill-opacity="0.92"/>
<circle cx="113.2" cy="101.7" r="1.5" fill="#afd3e6" fill-opacity="0.89"/>
<circle cx="59.5" cy="75.8" r="1.5" fill="#e68569" fill-opacity="1.00"/>
<circle cx="46.4" cy="113.5" r="1.5" fill="#fbcdb5" fill-opacity="0.86"/>
<circle cx="52.1" cy="68" r="1.5" fill="#fce1d1" fill-opacity="0.81"/>
<circle cx="66.7" cy="99.8" r="1.5" fill="#fbe6da" fill-opacity="0.79"/>
<circle cx="81.6" cy="103.7" r="1.5" fill="#f7b89a" fill-opacity="0.91"/>
<circle cx="52.8" cy="102.8" r="1.5" fill="#fbccb4" fill-opacity="0.86"/>
<circle cx="72.7" cy="99.5" r="1.5" fill="#fcdecc" fill-opacity="0.82"/>
<circle cx="85.8" cy="109.9" r="1.5" fill="#fae7dc" fill-opacity="0.78"/>
<circle cx="65.8" cy="111.1" r="1.5" fill="#f19e7c" fill-opacity="0.96"/>
<circle cx="79.8" cy="106.2" r="1.5" fill="#f8f2ee" fill-opacity="0.74"/>
<circle cx="58" cy="99.5" r="1.5" fill="#f8f1ed" fill-opacity="0.74"/>
<circle cx="68.1" cy="53.8" r="1.5" fill="#f8f2ee" fill-opacity="0.74"/>
<circle cx="45.1" cy="102.2" r="1.5" fill="#f7f5f4" fill-opacity="0.73"/>
<circle cx="68.8" cy="69.3" r="1.5" fill="#f5aa89" fill-opacity="0.93"/>
<circle cx="107.2" cy="99.8" r="1.5" fill="#f7f6f5" fill-opacity="0.72"/>
<circle cx="92.8" cy="110.9" r="1.5" fill="#e4eef3" fill-opacity="0.78"/>
<circle cx="56.9" cy="67.6" r="1.5" fill="#e7eff4" fill-opacity="0.77"/>
<circle cx="68.5" cy="108" r="1.5" fill="#ec9475" fill-opacity="0.97"/>
<circle cx="84.4" cy="106.5" r="1.5" fill="#fbe2d3" fill-opacity="0.80"/>
<circle cx="71" cy="29.3" r="1.5" fill="#ec9274" fill-opacity="0.98"/>
<circle cx="51.3" cy="115" r="1.5" fill="#be3037" fill-opacity="1.00"/>
<circle cx="93.8" cy="99.2" r="1.5" fill="#a4cee3" fill-opacity="0.91"/>
<circle cx="97.7" cy="108.7" r="1.5" fill="#d5e7f1" fill-opacity="0.82"/>
<circle cx="98.1" cy="102.1" r="1.5" fill="#deebf2" fill-opacity="0.79"/>
<circle cx="92.9" cy="107.1" r="1.5" fill="#d3e6f0" fill-opacity="0.83"/>
<circle cx="63.8" cy="109.9" r="1.5" fill="#df755d" fill-opacity="1.00"/>
<circle cx="105.6" cy="102.1" r="1.5" fill="#c6e0ed" fill-opacity="0.85"/>
<circle cx="56.7" cy="114" r="1.5" fill="#fbe6d9" fill-opacity="0.79"/>
<circle cx="48.8" cy="111.4" r="1.5" fill="#fdddca" fill-opacity="0.83"/>
<circle cx="79" cy="79.2" r="1.5" fill="#ea8d70" fill-opacity="0.98"/>
<circle cx="103.7" cy="64.9" r="1.5" fill="#e27c63" fill-opacity="1.00"/>
<circle cx="90.5" cy="100.3" r="1.5" fill="#e8f0f4" fill-opacity="0.77"/>
<circle cx="102.4" cy="104.8" r="1.5" fill="#cce2ee" fill-opacity="0.84"/>
<circle cx="124" cy="91.6" r="1.5" fill="#97c8e0" fill-opacity="0.94"/>
<circle cx="68.4" cy="106" r="1.5" fill="#e4eef4" fill-opacity="0.78"/>
<circle cx="103.6" cy="100.4" r="1.5" fill="#f1f4f6" fill-opacity="0.74"/>
<circle cx="106.3" cy="98.6" r="1.5" fill="#f4f6f6" fill-opacity="0.73"/>
<circle cx="111.6" cy="113.4" r="1.5" fill="#b1d5e7" fill-opacity="0.89"/>
<circle cx="91.3" cy="110.4" r="1.5" fill="#f1f4f6" fill-opacity="0.74"/>
<circle cx="60.4" cy="107.1" r="1.5" fill="#fbe5d8" fill-opacity="0.79"/>
<circle cx="103.5" cy="107.8" r="1.5" fill="#f7f6f6" fill-opacity="0.72"/>
<circle cx="110" cy="92.5" r="1.5" fill="#eaf1f5" fill-opacity="0.76"/>
<circle cx="70.9" cy="54.1" r="1.5" fill="#f5a987" fill-opacity="0.94"/>
<circle cx="121.3" cy="99.1" r="1.5" fill="#8bc1dc" fill-opacity="0.96"/>
<circle cx="64.2" cy="65.4" r="1.5" fill="#fbe6da" fill-opacity="0.79"/>
<circle cx="77.2" cy="102.1" r="1.5" fill="#fbe5d9" fill-opacity="0.79"/>
<circle cx="66" cy="109.2" r="1.5" fill="#fcd3bc" fill-opacity="0.85"/>
<circle cx="66.2" cy="116.3" r="1.5" fill="#f4a784" fill-opacity="0.94"/>
<circle cx="74.5" cy="121.3" r="1.5" fill="#f7f6f6" fill-opacity="0.72"/>
<circle cx="51.2" cy="101.3" r="1.5" fill="#fcd5bf" fill-opacity="0.85"/>
<circle cx="118.2" cy="104.8" r="1.5" fill="#e2edf3" fill-opacity="0.78"/>
<circle cx="44" cy="101.8" r="1.5" fill="#f7f7f7" fill-opacity="0.72"/>
<circle cx="94.2" cy="55.3" r="1.5" fill="#e48166" fill-opacity="1.00"/>
<circle cx="121.8" cy="87.9" r="1.5" fill="#b2d5e7" fill-opacity="0.89"/>
<circle cx="76.6" cy="61.3" r="1.5" fill="#cde3ef" fill-opacity="0.84"/>
<circle cx="109.7" cy="105.4" r="1.5" fill="#f5f6f7" fill-opacity="0.73"/>
<circle cx="96.6" cy="111.5" r="1.5" fill="#d2e6f0" fill-opacity="0.83"/>
<circle cx="68" cy="111.7" r="1.5" fill="#f8f0eb" fill-opacity="0.75"/>
<circle cx="59.9" cy="61.6" r="1.5" fill="#f5a987" fill-opacity="0.94"/>
<circle cx="92.6" cy="97.5" r="1.5" fill="#fae9df" fill-opacity="0.78"/>
<circle cx="58.7" cy="104.3" r="1.5" fill="#ecf2f5" fill-opacity="0.75"/>
<circle cx="91.4" cy="51.2" r="1.5" fill="#f9c1a5" fill-opacity="0.89"/>
<circle cx="67.8" cy="108.1" r="1.5" fill="#e7f0f4" fill-opacity="0.77"/>
<circle cx="63.8" cy="110.8" r="1.5" fill="#fcd3bc" fill-opacity="0.85"/>
<circle cx="60.9" cy="105.1" r="1.5" fill="#fbe4d7" fill-opacity="0.80"/>
<circle cx="113.6" cy="99" r="1.5" fill="#fcd4be" fill-opacity="0.85"/>
<circle cx="97.1" cy="97.1" r="1.5" fill="#a5cee3" fill-opacity="0.91"/>
<circle cx="64.6" cy="85.2" r="1.5" fill="#fcd8c3" fill-opacity="0.84"/>
<circle cx="55.4" cy="94" r="1.5" fill="#f2f5f6" fill-opacity="0.74"/>
<circle cx="72.8" cy="113" r="1.5" fill="#fcd7c2" fill-opacity="0.84"/>
<circle cx="97.6" cy="101.9" r="1.5" fill="#faebe3" fill-opacity="0.77"/>
<circle cx="62" cy="106.2" r="1.5" fill="#e9f0f4" fill-opacity="0.76"/>
<circle cx="58.2" cy="110.7" r="1.5" fill="#fae8de" fill-opacity="0.78"/>
<circle cx="54.7" cy="105" r="1.5" fill="#f7f6f5" fill-opacity="0.72"/>
<circle cx="92.7" cy="75" r="1.5" fill="#f6b495" fill-opacity="0.91"/>
<circle cx="117.2" cy="110.5" r="1.5" fill="#fbe6da" fill-opacity="0.79"/>
<circle cx="87.1" cy="43.8" r="1.5" fill="#de725b" fill-opacity="1.00"/>
<circle cx="80.5" cy="54" r="1.5" fill="#fddcc8" fill-opacity="0.83"/>
<circle cx="114.3" cy="97.2" r="1.5" fill="#7db7d7" fill-opacity="0.98"/>
<circle cx="66.6" cy="81.7" r="1.5" fill="#faeae1" fill-opacity="0.77"/>
<circle cx="82.8" cy="42.5" r="1.5" fill="#e27b62" fill-opacity="1.00"/>
<circle cx="71" cy="103.3" r="1.5" fill="#f9c2a7" fill-opacity="0.88"/>
<circle cx="104.8" cy="100.5" r="1.5" fill="#fcddcb" fill-opacity="0.82"/>
<circle cx="69.9" cy="93.6" r="1.5" fill="#f5ad8d" fill-opacity="0.93"/>
<circle cx="116.9" cy="104.3" r="1.5" fill="#bedbea" fill-opacity="0.87"/>
<circle cx="67.5" cy="112.6" r="1.5" fill="#afd4e6" fill-opacity="0.89"/>
<circle cx="82.5" cy="47.7" r="1.5" fill="#f5aa89" fill-opacity="0.93"/>
<circle cx="107.1" cy="100.3" r="1.5" fill="#f4f5f6" fill-opacity="0.73"/>
<circle cx="65.8" cy="102.9" r="1.5" fill="#f7b99c" fill-opacity="0.90"/>
<circle cx="58.5" cy="97.6" r="1.5" fill="#fbd2bb" fill-opacity="0.85"/>
<circle cx="109.3" cy="98.7" r="1.5" fill="#f9ede7" fill-opacity="0.76"/>
<circle cx="108.9" cy="102.2" r="1.5" fill="#ecf2f5" fill-opacity="0.75"/>
<circle cx="79.6" cy="108.9" r="1.5" fill="#fae9df" fill-opacity="0.78"/>
<circle cx="57.6" cy="91.1" r="1.5" fill="#f2f5f6" fill-opacity="0.73"/>
<circle cx="63.9" cy="103.6" r="1.5" fill="#fac9af" fill-opacity="0.87"/>
<circle cx="75.2" cy="56.8" r="1.5" fill="#eef3f5" fill-opacity="0.75"/>
<circle cx="65.9" cy="40.9" r="1.5" fill="#facab1" fill-opacity="0.87"/>
<circle cx="48.4" cy="116.4" r="1.5" fill="#ecf2f5" fill-opacity="0.75"/>
<circle cx="113.2" cy="102.3" r="1.5" fill="#fae9df" fill-opacity="0.78"/>
<circle cx="54.1" cy="99.7" r="1.5" fill="#cbe2ee" fill-opacity="0.84"/>
<circle cx="96.1" cy="106.1" r="1.5" fill="#edf2f5" fill-opacity="0.75"/>
<circle cx="87.6" cy="64.7" r="1.5" fill="#fddac5" fill-opacity="0.84"/>
<circle cx="95.4" cy="90.7" r="1.5" fill="#a4cee3" fill-opacity="0.91"/>
<circle cx="97.4" cy="103" r="1.5" fill="#85bdda" fill-opacity="0.96"/>
<circle cx="84.1" cy="48.5" r="1.5" fill="#fcd7c2" fill-opacity="0.84"/>
<circle cx="57.5" cy="108.1" r="1.5" fill="#fddcc8" fill-opacity="0.83"/>
<circle cx="108.8" cy="96.7" r="1.5" fill="#b1d5e7" fill-opacity="0.89"/>
<circle cx="43.3" cy="98.2" r="1.5" fill="#fcdecd" fill-opacity="0.82"/>
<circle cx="68.4" cy="116" r="1.5" fill="#fbd1bb" fill-opacity="0.85"/>
<circle cx="73.6" cy="82.8" r="1.5" fill="#faeae1" fill-opacity="0.77"/>
<circle cx="98.1" cy="107.1" r="1.5" fill="#c4deec" fill-opacity="0.86"/>
<circle cx="60.7" cy="102" r="1.5" fill="#f9ece4" fill-opacity="0.76"/>
<circle cx="124.3" cy="90.6" r="1.5" fill="#d1e5f0" fill-opacity="0.83"/>
<circle cx="66.8" cy="111.2" r="1.5" fill="#ecf2f5" fill-opacity="0.75"/>
<circle cx="70.2" cy="67.9" r="1.5" fill="#fce0d0" fill-opacity="0.81"/>
<circle cx="55.6" cy="115.5" r="1.5" fill="#f6b191" fill-opacity="0.92"/>
<circle cx="52.3" cy="102.4" r="1.5" fill="#fbe6d9" fill-opacity="0.79"/>
<circle cx="68.2" cy="108.7" r="1.5" fill="#e1edf3" fill-opacity="0.78"/>
<circle cx="55.9" cy="104.3" r="1.5" fill="#f7f5f4" fill-opacity="0.73"/>
<circle cx="122" cy="115.2" r="1.5" fill="#93c6de" fill-opacity="0.94"/>
<circle cx="103.6" cy="104" r="1.5" fill="#3079b6" fill-opacity="1.00"/>
<circle cx="85.6" cy="106.5" r="1.5" fill="#f5ac8b" fill-opacity="0.93"/>
<circle cx="85.3" cy="107.8" r="1.5" fill="#f4f6f6" fill-opacity="0.73"/>
<circle cx="58.4" cy="106.5" r="1.5" fill="#f1f4f6" fill-opacity="0.74"/>
<circle cx="73.6" cy="31.4" r="1.5" fill="#e98d6f" fill-opacity="0.98"/>
<circle cx="71.6" cy="99.3" r="1.5" fill="#fac7ae" fill-opacity="0.87"/>
<circle cx="83.7" cy="102.7" r="1.5" fill="#a1cde2" fill-opacity="0.92"/>
<circle cx="79.1" cy="99.4" r="1.5" fill="#fddbc7" fill-opacity="0.83"/>
<circle cx="64.3" cy="117" r="1.5" fill="#f2f5f6" fill-opacity="0.73"/>
<circle cx="60.3" cy="107.7" r="1.5" fill="#eb8f71" fill-opacity="0.98"/>
<circle cx="62.6" cy="99.6" r="1.5" fill="#fae8dd" fill-opacity="0.78"/>
<circle cx="95.7" cy="116.7" r="1.5" fill="#a0cce2" fill-opacity="0.92"/>
<circle cx="101.9" cy="105.1" r="1.5" fill="#bad9e9" fill-opacity="0.87"/>
<circle cx="104.4" cy="96.4" r="1.5" fill="#f7b89a" fill-opacity="0.91"/>
<circle cx="95.2" cy="89.6" r="1.5" fill="#92c5de" fill-opacity="0.95"/>
<circle cx="117.9" cy="107.9" r="1.5" fill="#83bbd9" fill-opacity="0.97"/>
<circle cx="68" cy="67.7" r="1.5" fill="#ec9374" fill-opacity="0.97"/>
<circle cx="58.6" cy="45.1" r="1.5" fill="#f0f4f6" fill-opacity="0.74"/>
<circle cx="70.7" cy="113" r="1.5" fill="#f5ae8d" fill-opacity="0.93"/>
<circle cx="117.9" cy="103.4" r="1.5" fill="#81bad8" fill-opacity="0.97"/>
<circle cx="103.5" cy="102.1" r="1.5" fill="#9fcce2" fill-opacity="0.92"/>
<circle cx="85.3" cy="102.5" r="1.5" fill="#f6ae8e" fill-opacity="0.93"/>
<circle cx="65" cy="104.3" r="1.5" fill="#f9c2a7" fill-opacity="0.88"/>
<circle cx="72.1" cy="82.8" r="1.5" fill="#faebe3" fill-opacity="0.77"/>
<circle cx="56.2" cy="105.7" r="1.5" fill="#df745c" fill-opacity="1.00"/>
<circle cx="65.2" cy="105.7" r="1.5" fill="#f7f7f6" fill-opacity="0.72"/>
<circle cx="78.3" cy="101.5" r="1.5" fill="#b2192b" fill-opacity="1.00"/>
<circle cx="67.3" cy="108.8" r="1.5" fill="#e7eff4" fill-opacity="0.77"/>
<circle cx="110.6" cy="106.5" r="1.5" fill="#e9f1f5" fill-opacity="0.76"/>
<circle cx="132" cy="111.8" r="1.5" fill="#bddbea" fill-opacity="0.87"/>
<circle cx="45.7" cy="111" r="1.5" fill="#fddcca" fill-opacity="0.83"/>
<circle cx="69.6" cy="100.5" r="1.5" fill="#f9ede6" fill-opacity="0.76"/>
<circle cx="83.2" cy="99.8" r="1.5" fill="#cee3ef" fill-opacity="0.84"/>
<circle cx="67.3" cy="100.3" r="1.5" fill="#f7b799" fill-opacity="0.91"/>
<circle cx="59.8" cy="72.9" r="1.5" fill="#fae9df" fill-opacity="0.78"/>
<circle cx="127.9" cy="98.2" r="1.5" fill="#e2edf3" fill-opacity="0.78"/>
<circle cx="85.4" cy="36.9" r="1.5" fill="#ec9274" fill-opacity="0.98"/>
<circle cx="67.7" cy="31.5" r="1.5" fill="#f7f7f7" fill-opacity="0.72"/>
<circle cx="71.6" cy="107.2" r="1.5" fill="#faeae1" fill-opacity="0.77"/>
<circle cx="80" cy="110.8" r="1.5" fill="#fae8dd" fill-opacity="0.78"/>
<circle cx="112.7" cy="95.9" r="1.5" fill="#9fcbe2" fill-opacity="0.92"/>
<circle cx="62.4" cy="113.6" r="1.5" fill="#e9f0f4" fill-opacity="0.76"/>
<circle cx="75.5" cy="105.5" r="1.5" fill="#dceaf2" fill-opacity="0.80"/>
<circle cx="86.4" cy="102.1" r="1.5" fill="#fbe5d8" fill-opacity="0.79"/>
<circle cx="96.8" cy="101.2" r="1.5" fill="#fbceb6" fill-opacity="0.86"/>
<circle cx="93.2" cy="102.8" r="1.5" fill="#cee3ef" fill-opacity="0.84"/>
<circle cx="60.9" cy="105.2" r="1.5" fill="#f8bea2" fill-opacity="0.89"/>
<circle cx="94.9" cy="97.4" r="1.5" fill="#2a71b2" fill-opacity="1.00"/>
<circle cx="90.5" cy="87.9" r="1.5" fill="#faeae0" fill-opacity="0.77"/>
<circle cx="74.7" cy="103.6" r="1.5" fill="#fbe6da" fill-opacity="0.79"/>
<circle cx="87.8" cy="104" r="1.5" fill="#f9ece4" fill-opacity="0.76"/>
<circle cx="81.3" cy="100.9" r="1.5" fill="#fbe3d5" fill-opacity="0.80"/>
<circle cx="100.3" cy="99.7" r="1.5" fill="#fae8de" fill-opacity="0.78"/>
<circle cx="115.2" cy="95.3" r="1.5" fill="#b4d6e8" fill-opacity="0.88"/>
<circle cx="97.2" cy="90.3" r="1.5" fill="#9ac9e0" fill-opacity="0.93"/>
<circle cx="103.4" cy="64.7" r="1.5" fill="#b5d7e8" fill-opacity="0.88"/>
<circle cx="87.8" cy="109.5" r="1.5" fill="#eb9072" fill-opacity="0.98"/>
<circle cx="110.1" cy="89.8" r="1.5" fill="#f9f0ea" fill-opacity="0.75"/>
<circle cx="69.5" cy="52" r="1.5" fill="#fddcc8" fill-opacity="0.83"/>
<circle cx="69" cy="111.9" r="1.5" fill="#e5eff4" fill-opacity="0.77"/>
<circle cx="58.2" cy="54.3" r="1.5" fill="#f5f6f7" fill-opacity="0.73"/>
<circle cx="68.8" cy="98.3" r="1.5" fill="#dfecf3" fill-opacity="0.79"/>
<circle cx="76.5" cy="96.4" r="1.5" fill="#fae9e0" fill-opacity="0.77"/>
<circle cx="89.6" cy="109.9" r="1.5" fill="#d6e7f1" fill-opacity="0.82"/>
<circle cx="70.2" cy="98.2" r="1.5" fill="#e1edf3" fill-opacity="0.78"/>
<circle cx="49.9" cy="104.8" r="1.5" fill="#f4a785" fill-opacity="0.94"/>
<circle cx="82.8" cy="109.6" r="1.5" fill="#e2edf3" fill-opacity="0.78"/>
<circle cx="90.4" cy="102.5" r="1.5" fill="#fbe5d7" fill-opacity="0.79"/>
<circle cx="104.1" cy="112.3" r="1.5" fill="#f7f6f6" fill-opacity="0.72"/>
<circle cx="50.5" cy="110.3" r="1.5" fill="#f8bb9e" fill-opacity="0.90"/>
<circle cx="72.7" cy="101.2" r="1.5" fill="#fac9b0" fill-opacity="0.87"/>
<circle cx="60.9" cy="108.3" r="1.5" fill="#f7f5f4" fill-opacity="0.73"/>
<circle cx="85.6" cy="90.2" r="1.5" fill="#dd715a" fill-opacity="1.00"/>
<circle cx="89.6" cy="97.5" r="1.5" fill="#2971b1" fill-opacity="1.00"/>
<circle cx="90.3" cy="96.7" r="1.5" fill="#f8f4f1" fill-opacity="0.73"/>
<circle cx="77.3" cy="110.1" r="1.5" fill="#f9ece4" fill-opacity="0.76"/>
<circle cx="101.1" cy="105.3" r="1.5" fill="#fddcc9" fill-opacity="0.83"/>
<circle cx="70.9" cy="48.8" r="1.5" fill="#fbe6db" fill-opacity="0.79"/>
<circle cx="66.3" cy="99.6" r="1.5" fill="#fbe2d4" fill-opacity="0.80"/>
<circle cx="62.6" cy="101.4" r="1.5" fill="#e4eef4" fill-opacity="0.78"/>
<circle cx="69.3" cy="113.9" r="1.5" fill="#fce1d1" fill-opacity="0.81"/>
<circle cx="93.5" cy="100.8" r="1.5" fill="#f7f7f6" fill-opacity="0.72"/>
<circle cx="96.2" cy="100.7" r="1.5" fill="#fcdfce" fill-opacity="0.82"/>
<circle cx="60.7" cy="61.7" r="1.5" fill="#f5a987" fill-opacity="0.94"/>
<circle cx="92" cy="107.8" r="1.5" fill="#fce1d1" fill-opacity="0.81"/>
<circle cx="81.6" cy="85.1" r="1.5" fill="#e8f0f4" fill-opacity="0.77"/>
<circle cx="76.6" cy="57" r="1.5" fill="#f8f3ef" fill-opacity="0.74"/>
<circle cx="69.4" cy="111.3" r="1.5" fill="#fcd5bf" fill-opacity="0.85"/>
<circle cx="59.4" cy="66.9" r="1.5" fill="#f19f7d" fill-opacity="0.95"/>
<circle cx="63.8" cy="100.6" r="1.5" fill="#f7f6f5" fill-opacity="0.73"/>
<circle cx="61.6" cy="69" r="1.5" fill="#f09c7b" fill-opacity="0.96"/>
<circle cx="70" cy="103.5" r="1.5" fill="#fddcc9" fill-opacity="0.83"/>
<circle cx="83.1" cy="40.1" r="1.5" fill="#eff3f5" fill-opacity="0.74"/>
<circle cx="101.7" cy="111.2" r="1.5" fill="#fce0cf" fill-opacity="0.81"/>
<circle cx="78.6" cy="112.1" r="1.5" fill="#f8ba9d" fill-opacity="0.90"/>
<circle cx="54.1" cy="107.8" r="1.5" fill="#ebf1f5" fill-opacity="0.76"/>
<circle cx="83.2" cy="103" r="1.5" fill="#ee9878" fill-opacity="0.97"/>
<circle cx="104.4" cy="95.4" r="1.5" fill="#74b2d4" fill-opacity="0.99"/>
<circle cx="75.4" cy="106.7" r="1.5" fill="#fce1d1" fill-opacity="0.81"/>
<circle cx="99" cy="96.9" r="1.5" fill="#c4dfec" fill-opacity="0.86"/>
<circle cx="111.3" cy="107.5" r="1.5" fill="#3885bc" fill-opacity="1.00"/>
<circle cx="58.8" cy="77.5" r="1.5" fill="#f8f1ed" fill-opacity="0.74"/>
<circle cx="81.6" cy="72.7" r="1.5" fill="#edf2f5" fill-opacity="0.75"/>
<circle cx="84" cy="67.9" r="1.5" fill="#f5ab8a" fill-opacity="0.93"/>
<circle cx="58" cy="102.6" r="1.5" fill="#fae9df" fill-opacity="0.78"/>
<circle cx="68.5" cy="78.9" r="1.5" fill="#fbe2d4" fill-opacity="0.80"/>
<circle cx="71" cy="47.5" r="1.5" fill="#f9ece4" fill-opacity="0.77"/>
<circle cx="74.6" cy="111.3" r="1.5" fill="#f8f3f0" fill-opacity="0.74"/>
<circle cx="72.9" cy="101" r="1.5" fill="#f8bb9e" fill-opacity="0.90"/>
<circle cx="76.1" cy="83.4" r="1.5" fill="#f7b597" fill-opacity="0.91"/>
<circle cx="61.2" cy="76" r="1.5" fill="#f8f3f0" fill-opacity="0.74"/>
<circle cx="73.8" cy="99.4" r="1.5" fill="#fcd7c2" fill-opacity="0.84"/>
<circle cx="76.4" cy="98.7" r="1.5" fill="#fbd0b9" fill-opacity="0.85"/>
<circle cx="76.9" cy="97.2" r="1.5" fill="#deebf2" fill-opacity="0.79"/>
<circle cx="57.6" cy="109" r="1.5" fill="#eaf1f5" fill-opacity="0.76"/>
<circle cx="61.3" cy="105.8" r="1.5" fill="#dbeaf2" fill-opacity="0.80"/>
<circle cx="93.3" cy="100.7" r="1.5" fill="#529dc8" fill-opacity="1.00"/>
<circle cx="65.4" cy="104.6" r="1.5" fill="#d8e8f1" fill-opacity="0.81"/>
<circle cx="82.6" cy="100" r="1.5" fill="#da6954" fill-opacity="1.00"/>
<circle cx="76.8" cy="109.9" r="1.5" fill="#fdddca" fill-opacity="0.82"/>
<circle cx="103" cy="100.2" r="1.5" fill="#a7cfe4" fill-opacity="0.91"/>
<circle cx="58.4" cy="68.2" r="1.5" fill="#f9eee7" fill-opacity="0.76"/>
<circle cx="85" cy="96" r="1.5" fill="#f9ece4" fill-opacity="0.76"/>
<circle cx="96.4" cy="93.6" r="1.5" fill="#bddbea" fill-opacity="0.87"/>
<circle cx="71.8" cy="105.6" r="1.5" fill="#c8e0ed" fill-opacity="0.85"/>
<circle cx="73.2" cy="97.7" r="1.5" fill="#f8f1ec" fill-opacity="0.75"/>
<circle cx="62" cy="105.5" r="1.5" fill="#d7e8f1" fill-opacity="0.82"/>
<circle cx="101.1" cy="98.6" r="1.5" fill="#f9f0eb" fill-opacity="0.75"/>
<circle cx="68.4" cy="37.3" r="1.5" fill="#e5eff4" fill-opacity="0.77"/>
<circle cx="101.1" cy="104.9" r="1.5" fill="#c6dfed" fill-opacity="0.85"/>
<circle cx="70.2" cy="105.6" r="1.5" fill="#a4cee3" fill-opacity="0.91"/>
<circle cx="90.3" cy="95.9" r="1.5" fill="#d2e6f0" fill-opacity="0.83"/>
<circle cx="82.2" cy="40.8" r="1.5" fill="#f6b192" fill-opacity="0.92"/>
<circle cx="49.9" cy="74" r="1.5" fill="#fcdfce" fill-opacity="0.82"/>
<circle cx="66.9" cy="54.6" r="1.5" fill="#fcdecc" fill-opacity="0.82"/>
<circle cx="77.8" cy="102.1" r="1.5" fill="#e0ecf3" fill-opacity="0.79"/>
<circle cx="77" cy="114.3" r="1.5" fill="#d9e9f1" fill-opacity="0.81"/>
<circle cx="90.5" cy="104.2" r="1.5" fill="#b1d5e7" fill-opacity="0.89"/>
<circle cx="61" cy="105" r="1.5" fill="#fbe4d7" fill-opacity="0.79"/>
<circle cx="77.7" cy="94.2" r="1.5" fill="#fcdfce" fill-opacity="0.82"/>
<circle cx="97.6" cy="105.4" r="1.5" fill="#f1f4f6" fill-opacity="0.74"/>
<circle cx="58" cy="102.4" r="1.5" fill="#df755d" fill-opacity="1.00"/>
<circle cx="42.2" cy="117.2" r="1.5" fill="#f9c5ab" fill-opacity="0.88"/>
<circle cx="73.1" cy="103.3" r="1.5" fill="#e9f1f5" fill-opacity="0.76"/>
<circle cx="109.5" cy="98" r="1.5" fill="#cbe2ee" fill-opacity="0.84"/>
<circle cx="109.6" cy="110" r="1.5" fill="#eff3f6" fill-opacity="0.74"/>
<circle cx="70.3" cy="110.5" r="1.5" fill="#d15648" fill-opacity="1.00"/>
<circle cx="69.5" cy="60.1" r="1.5" fill="#fcd8c3" fill-opacity="0.84"/>
<circle cx="61.9" cy="107.7" r="1.5" fill="#f1f4f6" fill-opacity="0.74"/>
<circle cx="122.3" cy="107.2" r="1.5" fill="#f9eee8" fill-opacity="0.75"/>
<circle cx="53.2" cy="35.2" r="1.35" fill="#7a1030"/>
<circle cx="57.9" cy="52" r="1.35" fill="#2a5a9a"/>
<circle cx="48.5" cy="60.2" r="1.35" fill="#7a1030"/>
<circle cx="72.4" cy="69" r="1.35" fill="#3a78b8"/>
<circle cx="53.7" cy="56.7" r="1.35" fill="#6aa6d6"/>
<circle cx="91" cy="62.7" r="1.35" fill="#c0392b"/>
<circle cx="107.4" cy="95.9" r="1.35" fill="#2a5a9a"/>
<circle cx="106.2" cy="104" r="1.35" fill="#2a5a9a"/>
<circle cx="78.2" cy="109.9" r="1.35" fill="#2a5a9a"/>
<circle cx="80.5" cy="116.9" r="1.35" fill="#a01a3a"/>
<circle cx="144.3" cy="101.7" r="1.35" fill="#6aa6d6"/>
<circle cx="137.3" cy="95.2" r="1.35" fill="#9cc6e4"/>
<rect x="35.20" y="20.20" width="117.60" height="117.60" fill="none" stroke="#231f20" stroke-width="0.8" />
<line x1="35.20" y1="20.20" x2="35.20" y2="137.80" stroke="#666" stroke-width="1.2" />
<line x1="35.20" y1="86.35" x2="152.80" y2="86.35" stroke="#231f20" stroke-width="0.7" />
<line x1="88.70" y1="86.35" x2="88.70" y2="137.80" stroke="#231f20" stroke-width="0.7" />
<line x1="31.20" y1="20.20" x2="35.20" y2="20.20" stroke="#231f20" stroke-width="0.7" />
<text x="29.00" y="23.15" font-size="8.2" text-anchor="end" >6</text>
<line x1="31.20" y1="49.60" x2="35.20" y2="49.60" stroke="#231f20" stroke-width="0.7" />
<text x="29.00" y="52.55" font-size="8.2" text-anchor="end" >4</text>
<line x1="31.20" y1="79.00" x2="35.20" y2="79.00" stroke="#231f20" stroke-width="0.7" />
<text x="29.00" y="81.95" font-size="8.2" text-anchor="end" >2</text>
<line x1="31.20" y1="108.40" x2="35.20" y2="108.40" stroke="#231f20" stroke-width="0.7" />
<text x="29.00" y="111.35" font-size="8.2" text-anchor="end" >0</text>
<line x1="31.20" y1="137.80" x2="35.20" y2="137.80" stroke="#231f20" stroke-width="0.7" />
<text x="29.00" y="140.75" font-size="8.2" text-anchor="end" >−2</text>
<line x1="70.30" y1="137.80" x2="70.30" y2="140.80" stroke="#231f20" stroke-width="0.7" />
<text x="70.30" y="150.35" font-size="8.2" text-anchor="middle" >0</text>
<line x1="116.30" y1="137.80" x2="116.30" y2="140.80" stroke="#231f20" stroke-width="0.7" />
<text x="116.30" y="150.35" font-size="8.2" text-anchor="middle" >1</text>
<text x="93.50" y="161.29" font-size="9.7" text-anchor="middle" >Ribosome independent -</text>
<text x="12.30" y="83.87" font-size="9.65" text-anchor="middle" transform="rotate(-90 12.30 80.40)" >Ribosome dependent -</text>
<text x="37.50" y="28.24" font-size="7.6" >I</text>
<text x="37.00" y="135.54" font-size="7.6" >II</text>
<text x="150.50" y="135.54" font-size="7.6" text-anchor="end" >III</text>
<text x="150.50" y="28.24" font-size="7.6" text-anchor="end" ><tspan font-style="italic">n</tspan> = 150</text>
<text x="86.50" y="135.54" font-size="7.6" text-anchor="end" ><tspan font-style="italic">n</tspan> = 349</text>
<text x="90.50" y="135.54" font-size="7.6" ><tspan font-style="italic">n</tspan> = 284</text>
<rect x="156.50" y="102.60" width="5.00" height="35.10" fill="url(#gA)" />
<line x1="161.50" y1="102.60" x2="163.50" y2="102.60" stroke="#231f20" stroke-width="0.6" />
<line x1="161.50" y1="120.20" x2="163.50" y2="120.20" stroke="#231f20" stroke-width="0.6" />
<line x1="161.50" y1="137.70" x2="163.50" y2="137.70" stroke="#231f20" stroke-width="0.6" />
<text x="164.30" y="107.17" font-size="8.8" >1.5</text>
<text x="164.30" y="123.47" font-size="8.8" >0.0</text>
<text x="161.30" y="140.87" font-size="8.8" >−1.5</text>
<text x="155.60" y="76.92" font-size="8.1" >RD</text>
<text x="155.60" y="85.92" font-size="8.1" >log<tspan font-size="5.8" dy="2">2</tspan><tspan dy="-2">FC</tspan></text>
<text x="155.60" y="94.92" font-size="8.1" >8d vs 0d</text>
<line x1="222.30" y1="19.50" x2="222.30" y2="138.20" stroke="#231f20" stroke-width="0.8" />
<line x1="222.30" y1="138.20" x2="265.70" y2="138.20" stroke="#231f20" stroke-width="0.8" />
<line x1="218.30" y1="40.10" x2="222.30" y2="40.10" stroke="#231f20" stroke-width="0.7" />
<text x="216.30" y="43.12" font-size="8.4" text-anchor="end" >1</text>
<line x1="218.30" y1="79.40" x2="222.30" y2="79.40" stroke="#231f20" stroke-width="0.7" />
<text x="216.30" y="82.42" font-size="8.4" text-anchor="end" >0</text>
<line x1="218.30" y1="118.70" x2="222.30" y2="118.70" stroke="#231f20" stroke-width="0.7" />
<text x="216.30" y="121.72" font-size="8.4" text-anchor="end" >−1</text>
<text x="229.60" y="147.74" font-size="7.6" text-anchor="middle" >I</text>
<text x="243.80" y="147.74" font-size="7.6" text-anchor="middle" >II</text>
<text x="258.20" y="147.74" font-size="7.6" text-anchor="middle" >III</text>
<text x="244.00" y="160.86" font-size="9.9" text-anchor="middle" >Groups</text>
<text x="199.40" y="82.56" font-size="9.9" text-anchor="middle" transform="rotate(-90 199.40 79.00)" >RD log<tspan font-size="6.8" dy="2.6">2</tspan><tspan dy="-2.6">FC, 8d vs 0d</tspan></text>
<rect x="223.80" y="62.60" width="11.80" height="15.20" fill="#f8c9ad" stroke="#555" stroke-width="0.6" />
<rect x="237.60" y="65.60" width="12.70" height="19.70" fill="#f4ddd4" stroke="#555" stroke-width="0.6" />
<rect x="252.50" y="74.60" width="12.40" height="22.80" fill="#cfe1ee" stroke="#555" stroke-width="0.6" />
<path d="M227.9 55.7h0M226 76.5h0M226.1 67.4h0M230 81.4h0M228.9 84.3h0M229.2 73.5h0M229.9 60.7h0M229.1 54.8h0M229.8 76.8h0M233.2 64.4h0M228.8 69.7h0M228.9 70.8h0M229.1 64.7h0M229.7 91.8h0M230.8 71h0M229.3 91.7h0M233.7 62h0M229.1 52.6h0M233.4 76.5h0M225.8 58.3h0M228.9 76.4h0M230.4 64.6h0M230.2 71.5h0M231.8 64.1h0M229.8 85.9h0M230.9 63.9h0M228 74.4h0M231.4 63.8h0M229.2 67.9h0M229.6 71.4h0M226.6 69h0M230 88.7h0M231.3 59.1h0M229.7 72.5h0M233.3 80.8h0M232.2 75.2h0M228.1 93.3h0M230.9 63.1h0M229.3 49.8h0M231.4 83.6h0M226.7 75.5h0M230.6 95.5h0M230.5 77.6h0M227.4 49.7h0M232.8 55.3h0M229.3 59.6h0M230.6 66.1h0M230.1 74.6h0M224.7 54.8h0M230.1 70.9h0M229.5 82.9h0M230.4 62.1h0M228 51.5h0M230.2 57.7h0M230.9 92.5h0M230.1 81.9h0M229 72.1h0M225.8 65.8h0M227.6 55.5h0M230.8 78.4h0M232.2 81.9h0M231.4 65.6h0M229.7 91h0M229.4 81.2h0M229.9 50.8h0M229.9 59.7h0M230.2 63.8h0M233 44.9h0M229.1 84.3h0M229.7 58.8h0M230.4 76.6h0M226.5 73.5h0M231.8 56.3h0M227.3 71.7h0M227.4 59.2h0M231.6 57.5h0M231.5 66.5h0M227.3 71.1h0M233.4 61.6h0M228 60.3h0M229.8 83.1h0M232.1 68.9h0M230.4 48.8h0M227.4 56.9h0M231.6 59.7h0M226.7 67.4h0M232.2 56.3h0M227.9 80.8h0M229.1 96.9h0M229.5 55.3h0M232.3 79.8h0M229 80.8h0M227.3 62.5h0M228.7 68.1h0M227.6 71.8h0M228.3 63h0M227.8 55.1h0M227.8 57.3h0M229.9 75.5h0M230.5 53.8h0M232.1 72.3h0M229.4 66.8h0M229.9 61.1h0M230 74.7h0M230.6 66.1h0M230.1 70.1h0M230 58.2h0M228.3 57.5h0M233.1 70.9h0M229.7 80.5h0M231.3 66.9h0M231.7 84.9h0M230 66.9h0M229.2 65.2h0M229.3 59.2h0M227.7 44.2h0M228.2 73.9h0M227.6 75.2h0M230.3 64.7h0M228.5 57.1h0M228.6 97.5h0M228.8 60.9h0M229.7 69.4h0M231 80.3h0M229.1 64.4h0M227.3 52.7h0M230.9 60.5h0M231 70.4h0M229.4 79.8h0M228.8 93.2h0M229 61.8h0M229.5 82.1h0M230.4 60.5h0M229.5 82h0M231.5 66.1h0M231.2 80.3h0M230.2 60.2h0M226.8 73.2h0M229.9 82.8h0M233.4 65.1h0M228.5 70.7h0M230.6 68.3h0M229.6 78.4h0M228.6 59.1h0M228 59.6h0M228.9 68.8h0M228.3 69.6h0M229.4 59h0M231.6 65h0M230 58.6h0" stroke="#555" stroke-width="0.8" stroke-linecap="round" stroke-opacity="0.6"/>
<line x1="223.80" y1="69.00" x2="235.60" y2="69.00" stroke="#333" stroke-width="0.8" />
<line x1="229.70" y1="39.90" x2="229.70" y2="62.60" stroke="#444" stroke-width="0.6" />
<line x1="229.70" y1="77.80" x2="229.70" y2="94.50" stroke="#444" stroke-width="0.6" />
<line x1="227.20" y1="39.90" x2="232.20" y2="39.90" stroke="#444" stroke-width="0.6" />
<line x1="227.20" y1="94.50" x2="232.20" y2="94.50" stroke="#444" stroke-width="0.6" />
<path d="M241.8 75.3h0M244.2 86.7h0M244.9 44.6h0M242.6 89.9h0M244.2 101.1h0M244.9 58.7h0M241.8 70.5h0M244.4 44h0M245 65h0M243.1 81.7h0M246.8 68h0M245.2 101.3h0M242.3 70.6h0M246.7 70.1h0M243.5 82.8h0M244.2 57.7h0M244 62.8h0M245.7 86.9h0M243.4 78h0M246.9 79.3h0M241.7 81.5h0M244.4 99h0M246.9 68.9h0M244.4 84.4h0M246.4 96.5h0M244.8 69.1h0M244.7 85h0M242.7 71.8h0M245.1 66.2h0M244.7 93.2h0M243.5 77.8h0M245.9 79.8h0M243.8 82.7h0M245.1 46h0M243.1 87.5h0M240.2 94.1h0M243.6 78.2h0M243.7 79.4h0M242.7 68h0M245.7 63.2h0M243 66h0M242.8 68h0M244 72.3h0M244.7 58.3h0M242.1 83.8h0M245 93.2h0M243.6 96.7h0M243.6 70.8h0M245.5 70.3h0M244.2 89.7h0M242.5 105.7h0M244.1 77.5h0M243.9 72.5h0M246.3 71.1h0M243.5 105.1h0M247.2 66.5h0M242.4 102h0M245.4 52.6h0M243.2 91.6h0M242.8 84.4h0M243 93.3h0M245.9 87.6h0M242.2 96.7h0M241.1 54.8h0M241.8 87.5h0M241.6 73.8h0M243.4 65.3h0M245 79.9h0M247.2 77.9h0M241.3 83.4h0M245.8 78.8h0M245.7 75.9h0M242.3 62.9h0M244.7 83h0M244.8 80.9h0M241.5 87.8h0M244.7 95.7h0M243.8 85h0M243.7 84.4h0M243.5 86.3h0M245.3 76.3h0M246.2 69.5h0M243.1 67.4h0M244.7 61.3h0M243.3 73.4h0M242.8 65.3h0M244.5 54.9h0M245.1 84.3h0M245.4 77.5h0M245.5 82.9h0M243.3 73.6h0M243.4 91.1h0M243.8 99.1h0M244.1 67.4h0M246.1 97.7h0M240 68.2h0M244.5 92.7h0M244.3 76.1h0M245.9 61.2h0M245.9 81h0M243.5 74.7h0M247 81.1h0M240.2 89.4h0M245.1 77.8h0M245.5 79.5h0M245.1 80.5h0M242.8 80h0M244.4 82.7h0M244.9 77.2h0M242.3 74.3h0M243.3 75.1h0M243.7 74.7h0M240.5 82.3h0M241.4 67.3h0M244 59.2h0M242.2 78.6h0M242.5 71.7h0M242.1 69.7h0M245.1 59.3h0M241.1 69.4h0M244.1 84.5h0M243.7 83h0M244.4 81.7h0M243.6 49.2h0M245 83h0M245.4 81.3h0M242.9 83.7h0M246.3 70.8h0M245 84.4h0M243.6 78.8h0M245.3 89.7h0M242.9 84.7h0M240.8 98.3h0M242.4 65.2h0M242.4 55.6h0M244.9 68.8h0M246.4 56.4h0M243.6 69.3h0M244.5 64.9h0M244.4 62.6h0M244.6 79.8h0M243.4 85.9h0M246.5 65.2h0M243.6 85.5h0M244.8 74.7h0M242 78.3h0M246 98.5h0M244.2 69.6h0M243 91.2h0M246.1 85.8h0M245.1 77.4h0M245.6 55.1h0M245.1 86h0M240.4 96.1h0M244.2 87.3h0M242.5 68.9h0M242.3 105.5h0M241.4 79.7h0M245.8 84.9h0M246.1 68.9h0M246.3 72.2h0M243.5 92.1h0M244.4 78.2h0M242.3 75.4h0M245.1 68.1h0M244.2 66h0M244.6 87.4h0M242.3 93.8h0M244 94.9h0M244 89.5h0M245.6 117.4h0M242.8 51.9h0M245.8 65.9h0M243.5 97.5h0M244.3 76.2h0M243.3 81.7h0M244.8 45.2h0M242.9 100.7h0M245.4 95.7h0M244.4 60.5h0M245.9 62.4h0M243.1 77h0M242.9 71.1h0M245.3 84.1h0M242.6 78h0M243.5 87h0M246.9 61.8h0M246.1 72.9h0M243 65.6h0M244.4 60h0M241.9 62.7h0M242.7 63.7h0M244.6 74.2h0M242.6 78.8h0M244.1 91h0M242.7 52.8h0M243.6 107.4h0M246.4 98.8h0M242 86.6h0M245.9 43.8h0M245.3 62.5h0M243.1 55.6h0M240.6 69.5h0M244.2 72.6h0M242.4 115.4h0M245.5 71.9h0M245 76.2h0M246.8 95h0M242.8 57h0M245.8 66.5h0M241.6 90h0M241.6 68.3h0M244.3 97.6h0M243.7 88h0M244.7 96.1h0M242.1 70.6h0M244 57.5h0M241.2 81.1h0M245.8 64.8h0M242.5 59.6h0M240.5 83.6h0M243.5 70.2h0M240.7 87.1h0M244.1 52.5h0M245.5 79.3h0M243.1 88.4h0M244.7 70.3h0M242.5 94.1h0M243.9 58.1h0M240.9 70.8h0M245.3 78.6h0M245.3 72.5h0M245 58.9h0M242.9 71.2h0M243.2 49.5h0M244.3 76.9h0M244.7 83.9h0M243.4 80.5h0M244.1 71.3h0M245.1 52.1h0M243.1 51.8h0M246.1 43.7h0M244.7 70.4h0M244.4 74.4h0M244.4 79.1h0M241.6 89.5h0M243.9 81.6h0M242.3 69.8h0M243.4 86.3h0M242.7 81.1h0M243.2 67.8h0M247.7 60.3h0M246.4 67.7h0M243.7 86.7h0M245.3 63.9h0M242.4 87.1h0M245.3 94.8h0M243.5 68.9h0M243 92.5h0M242.8 51.6h0M242.3 70.3h0M243.4 100.1h0M242.9 75.3h0M243.6 81h0M243.9 71h0M239.4 82.4h0M242.4 81.8h0M244.6 72.2h0M242.1 73.3h0M246.7 96.9h0M243.8 76.7h0M243.9 77.9h0M242.5 92.1h0M245 87.7h0M245.7 79.3h0M243.3 73.4h0M243.2 77h0M243.2 111.6h0M245.5 59.9h0M244.3 80.7h0M241.1 60.6h0M242.6 58.4h0M244.3 59.5h0M244.2 76.6h0M246.1 60.9h0M245.3 56.5h0M246.6 68.7h0M244.7 75.8h0M244.3 70.7h0M249 60.9h0M244.3 67.7h0M243.7 90.8h0M243.4 92.2h0M244.6 97h0M243.3 82.1h0M241.4 77.4h0M244.7 97h0M246.9 69.5h0M246 79.1h0M244.7 71.1h0M247.3 84h0M245 59.4h0M242.8 77.7h0M244 80.9h0M244.1 61.8h0M239.6 67.6h0M243.7 71.3h0M245.7 69.8h0M242.9 89.4h0M241.9 85.8h0M245.1 78.6h0M242.8 73.6h0M241.5 71.1h0M245.2 69.2h0M243.9 88.3h0M244.2 74.1h0M241.8 60.8h0M244.1 75.4h0M243.5 71.1h0M242.8 75.9h0M245.3 84.8h0M241.7 77.5h0M245.3 82.5h0M241.5 69.5h0M247.6 71.6h0M245.3 62.2h0M245.8 75h0M245.5 105.2h0M243.8 83.3h0M241.2 58.1h0M243.3 97.2h0M244.4 93.5h0M242.8 68.9h0M243 89.6h0M243.4 71.9h0M245.2 77.4h0M246.5 82.9h0M243.8 105.9h0M244.5 87.6h0M243.7 52.4h0M242.8 103.3h0M243.1 65.6h0M243.7 68h0M240.8 105.6h0M244.3 87.6h0M246.4 83h0M243.7 83.6h0M246.8 75.1h0" stroke="#555" stroke-width="0.8" stroke-linecap="round" stroke-opacity="0.6"/>
<line x1="237.60" y1="75.90" x2="250.30" y2="75.90" stroke="#333" stroke-width="0.8" />
<line x1="243.95" y1="36.40" x2="243.95" y2="65.60" stroke="#444" stroke-width="0.6" />
<line x1="243.95" y1="85.30" x2="243.95" y2="115.40" stroke="#444" stroke-width="0.6" />
<line x1="241.45" y1="36.40" x2="246.45" y2="36.40" stroke="#444" stroke-width="0.6" />
<line x1="241.45" y1="115.40" x2="246.45" y2="115.40" stroke="#444" stroke-width="0.6" />
<path d="M255.5 93.8h0M260.8 86.5h0M260.6 90.9h0M257 103.5h0M259.4 70.3h0M259.7 108.9h0M259 90.5h0M259.3 61.6h0M257.1 106.3h0M259.7 107.3h0M258 90.1h0M257.5 85.7h0M258.8 85h0M256.8 86.3h0M257.7 100.7h0M259.6 91.9h0M262.6 81.9h0M259.4 87.3h0M259.2 81.2h0M259.7 64.3h0M257.9 79.2h0M260.1 97.9h0M257.1 78.2h0M257.1 51.9h0M259.7 93.5h0M258.8 64.4h0M257.5 102.7h0M257.3 76.1h0M255.7 92.2h0M259.4 83.1h0M260.2 84.4h0M257.9 95.5h0M257 68.7h0M258.5 93.4h0M257.3 87.2h0M260.1 104.4h0M256.9 97.8h0M257 99.2h0M258.6 64.8h0M258.4 102.6h0M261 92h0M256 95.9h0M260 103.5h0M260.3 90.8h0M257.5 101.3h0M259.7 99.2h0M259.1 85.9h0M258.2 72.5h0M259.9 101.1h0M260.9 68.7h0M260.2 102.7h0M262.8 99.1h0M257 110.3h0M258.4 80.5h0M260.4 106.5h0M259.2 82.3h0M260.1 104.9h0M256.3 77.2h0M257.4 57.1h0M257.8 112.7h0M262.3 83.6h0M257 98.5h0M260.5 89.2h0M257.4 74.4h0M258.7 85.3h0M256 72.3h0M258 90.5h0M259.4 79.7h0M258.6 110.2h0M259.6 77.5h0M259 85.2h0M256.6 91.7h0M259.3 93.1h0M258.5 77.4h0M257.6 77.7h0M258.4 79.1h0M258.5 89.7h0M258.8 76.8h0M256.8 70.1h0M255.5 72.2h0M259.8 87.7h0M257.1 78.6h0M259.8 115.2h0M254.9 98.4h0M260.3 108.9h0M258.8 103.1h0M262.5 58.1h0M257.5 85.6h0M257.8 115.9h0M260 70.3h0M257.3 63.7h0M256.2 108.4h0M256.6 84.4h0M259.7 65.5h0M261.5 101.9h0M259.1 85.5h0M260.6 53.4h0M257.9 90.9h0M260 86.4h0M258.9 129h0M257.8 117h0M258 71.8h0M258.7 75.7h0M257.5 87.7h0M258.6 66.7h0M257.4 65.3h0M258.6 91h0M256.5 69.1h0M256.4 69.1h0M259.9 94.1h0M259.2 90.2h0M259 77.3h0M258.8 86.3h0M257 77.3h0M259.3 90h0M258.3 67.1h0M259.5 84.8h0M256.5 57.6h0M256.8 62.9h0M260 67.7h0M262 66.4h0M259.8 89.8h0M260 84.6h0M259.9 91.5h0M259.7 94.8h0M260.4 91.6h0M257.9 85.7h0M258 111.2h0M261.9 91.8h0M258.3 75h0M257.3 74.3h0M258.4 95.9h0M256.1 87.4h0M257.6 93.2h0M257.6 53.9h0M261.2 59.2h0M259.1 57.9h0M257.4 68.4h0M260.6 64.4h0M257.7 67.4h0M258.1 89.1h0M257.6 96.6h0M259.4 59h0M259.5 104.8h0M260.5 71.7h0M258.1 98.2h0M258.7 92.5h0M259.7 87.2h0M258.8 99.6h0M254.9 86.4h0M259.4 72.2h0M259.3 72.3h0M258.8 82.2h0M260.7 86.9h0M258.8 93.5h0M259.3 66.1h0M260.6 67.8h0M257.7 74h0M257.2 82.9h0M259.2 93.4h0M257.9 74.4h0M260.5 115.2h0M259.1 94.3h0M258.1 109.8h0M258.5 81.1h0M257.3 68.2h0M258.9 115.4h0M258.3 71h0M258 77.5h0M256.4 84.5h0M258.4 56.2h0M256.9 81.6h0M257.8 83.7h0M258.4 88.7h0M260.9 103.5h0M258.8 96.2h0M259.8 99.3h0M259.9 93h0M259.9 79.4h0M259.3 94.1h0M258.1 82.8h0M258 95h0M261.3 68.2h0M257.6 104.8h0M255.6 108h0M259.8 95.3h0M258.4 89.6h0M259.5 98.2h0M257.6 67.4h0M259.9 101.8h0M256.5 67.2h0M257.5 92.7h0M257.9 73.9h0M255.7 89.3h0M258.2 98.3h0M257 100.4h0M259.5 71.7h0M258.7 101.7h0M260.8 80.4h0M259.2 103.2h0M260.7 81.8h0M258.2 96.9h0M260.4 109.4h0M259.5 89.3h0M258 98.2h0M260.6 66.4h0M256.4 59.5h0M259.5 63h0M257.8 102.5h0M261.2 106.7h0M256.8 107.9h0M262.3 106.8h0M256.3 71.2h0M259.5 106.5h0M258.7 85.1h0M257.5 58.1h0M259.5 88.9h0M260.2 100.7h0M258.6 78.2h0M256.7 108.8h0M257.4 94.2h0M261.6 89.2h0M258.1 92.2h0M256.6 74.7h0M255.3 85.4h0M258.9 84.5h0M257.5 71.1h0M260.7 105h0M260.5 118.9h0M258.4 90.9h0M259.8 105.7h0M261.5 88.7h0M259 83.3h0M259.5 103.6h0M260.3 87h0M259.3 85.4h0M260.1 120.5h0M258.7 60h0M258.6 95.6h0M259.9 91.5h0M258.5 109.3h0M257.7 85.4h0M260.2 116.2h0M258.3 63.3h0M257.2 48.3h0M257.5 79.5h0M259.9 79.2h0M257.9 88.3h0M259.8 87.5h0M256 91.5h0M255.7 116.5h0M258.6 87.9h0M258 62.7h0M257.8 100.5h0M260.4 107.2h0M258.4 61.7h0M260.8 94.5h0M258.7 86.6h0M258.3 87.1h0M259.4 96.8h0M257.6 109.3h0M258.6 78.4h0M259.4 73.9h0M256.6 81.3h0M258.5 70.9h0M260.3 65.9h0M258.5 68.1h0M259.4 78.9h0M258 102.7h0M258.6 83.2h0M256.8 69.7h0M259.4 88.5h0M256.7 73.1h0M257.9 76.9h0M258.4 73.2h0M256.8 104h0M259.9 70.9h0M257.7 99h0" stroke="#555" stroke-width="0.8" stroke-linecap="round" stroke-opacity="0.6"/>
<line x1="252.50" y1="85.30" x2="264.90" y2="85.30" stroke="#333" stroke-width="0.8" />
<line x1="258.70" y1="43.20" x2="258.70" y2="74.60" stroke="#444" stroke-width="0.6" />
<line x1="258.70" y1="97.40" x2="258.70" y2="116.40" stroke="#444" stroke-width="0.6" />
<line x1="256.20" y1="43.20" x2="261.20" y2="43.20" stroke="#444" stroke-width="0.6" />
<line x1="256.20" y1="116.40" x2="261.20" y2="116.40" stroke="#444" stroke-width="0.6" />
<line x1="229.40" y1="15.40" x2="259.00" y2="15.40" stroke="#888" stroke-width="1.1" />
<line x1="229.40" y1="21.80" x2="243.00" y2="21.80" stroke="#888" stroke-width="1.1" />
<line x1="245.60" y1="21.80" x2="259.00" y2="21.80" stroke="#888" stroke-width="1.1" />
<text x="244.20" y="17.19" font-size="7.2" text-anchor="middle" >***</text>
<text x="236.20" y="23.59" font-size="7.2" text-anchor="middle" >***</text>
<text x="252.30" y="23.59" font-size="7.2" text-anchor="middle" >***</text>
<text x="281.50" y="10.30" font-size="12.5" font-weight="bold" >b</text>
<text x="345.50" y="8.20" font-size="9.45" text-anchor="middle" >Group III-enriched</text>
<text x="346.00" y="18.20" font-size="9.45" text-anchor="middle" >MitoCarta pathway terms</text>
<line x1="296.50" y1="22.30" x2="296.50" y2="110.30" stroke="#cfcfcf" stroke-width="0.6" />
<line x1="307.48" y1="22.30" x2="307.48" y2="110.30" stroke="#cfcfcf" stroke-width="0.6" />
<line x1="318.46" y1="22.30" x2="318.46" y2="110.30" stroke="#cfcfcf" stroke-width="0.6" />
<line x1="329.44" y1="22.30" x2="329.44" y2="110.30" stroke="#cfcfcf" stroke-width="0.6" />
<line x1="340.42" y1="22.30" x2="340.42" y2="110.30" stroke="#cfcfcf" stroke-width="0.6" />
<line x1="351.40" y1="22.30" x2="351.40" y2="110.30" stroke="#cfcfcf" stroke-width="0.6" />
<line x1="362.38" y1="22.30" x2="362.38" y2="110.30" stroke="#cfcfcf" stroke-width="0.6" />
<line x1="373.36" y1="22.30" x2="373.36" y2="110.30" stroke="#cfcfcf" stroke-width="0.6" />
<line x1="384.34" y1="22.30" x2="384.34" y2="110.30" stroke="#cfcfcf" stroke-width="0.6" />
<line x1="395.32" y1="22.30" x2="395.32" y2="110.30" stroke="#cfcfcf" stroke-width="0.6" />
<line x1="296.50" y1="22.30" x2="395.32" y2="22.30" stroke="#231f20" stroke-width="0.8" />
<line x1="296.50" y1="40.10" x2="395.32" y2="40.10" stroke="#999" stroke-width="1.0" />
<line x1="296.50" y1="57.60" x2="395.32" y2="57.60" stroke="#231f20" stroke-width="0.8" />
<line x1="296.50" y1="75.30" x2="395.32" y2="75.30" stroke="#231f20" stroke-width="0.8" />
<line x1="296.50" y1="92.80" x2="395.32" y2="92.80" stroke="#999" stroke-width="1.0" />
<line x1="296.50" y1="110.30" x2="395.32" y2="110.30" stroke="#231f20" stroke-width="0.8" />
<line x1="296.50" y1="110.30" x2="296.50" y2="112.30" stroke="#231f20" stroke-width="0.6" />
<text x="296.50" y="119.75" font-size="8.2" text-anchor="middle" >0</text>
<line x1="329.44" y1="110.30" x2="329.44" y2="112.30" stroke="#231f20" stroke-width="0.6" />
<text x="329.44" y="119.75" font-size="8.2" text-anchor="middle" >3</text>
<line x1="362.38" y1="110.30" x2="362.38" y2="112.30" stroke="#231f20" stroke-width="0.6" />
<text x="362.38" y="119.75" font-size="8.2" text-anchor="middle" >6</text>
<line x1="395.32" y1="110.30" x2="395.32" y2="112.30" stroke="#231f20" stroke-width="0.6" />
<text x="395.32" y="119.75" font-size="8.2" text-anchor="middle" >9</text>
<text x="345.50" y="129.81" font-size="9.2" text-anchor="middle" >-log<tspan font-size="5.8" dy="2.3">10</tspan><tspan dy="-2.3">(Adj. </tspan><tspan font-style="italic">p</tspan>-value)</text>
<circle cx="389.7" cy="31.3" r="5.9" fill="#c1141c"/>
<circle cx="380.9" cy="48.7" r="6.5" fill="#d21e24"/>
<circle cx="345.4" cy="66.4" r="4.7" fill="#d42428"/>
<circle cx="340.5" cy="84" r="3.3" fill="#850510"/>
<circle cx="298.7" cy="101.8" r="4.6" fill="#f7735a"/>
<text x="400.20" y="29.60" font-size="8.3" >OXPHOS</text>
<text x="400.20" y="36.60" font-size="8.3" >subunits</text>
<text x="400.20" y="47.10" font-size="8.3" >Mitochondrial</text>
<text x="400.20" y="54.10" font-size="8.3" >ribosome</text>
<text x="400.20" y="64.60" font-size="8.3" >Complex I</text>
<text x="400.20" y="71.60" font-size="8.3" >subunits</text>
<text x="400.20" y="82.10" font-size="8.3" >Complex IV</text>
<text x="400.20" y="89.10" font-size="8.3" >subunits</text>
<text x="400.20" y="99.60" font-size="8.3" >OXPHOS</text>
<text x="400.20" y="106.60" font-size="8.3" >assembly factors</text>
<rect x="296.20" y="138.20" width="49.40" height="7.00" fill="url(#gB)" stroke="#666" stroke-width="0.4" />
<line x1="296.40" y1="145.20" x2="296.40" y2="147.20" stroke="#231f20" stroke-width="0.5" />
<text x="296.40" y="154.55" font-size="8.2" text-anchor="middle" >0</text>
<line x1="312.80" y1="145.20" x2="312.80" y2="147.20" stroke="#231f20" stroke-width="0.5" />
<text x="312.80" y="154.55" font-size="8.2" text-anchor="middle" >1</text>
<line x1="329.20" y1="145.20" x2="329.20" y2="147.20" stroke="#231f20" stroke-width="0.5" />
<text x="329.20" y="154.55" font-size="8.2" text-anchor="middle" >2</text>
<line x1="345.60" y1="145.20" x2="345.60" y2="147.20" stroke="#231f20" stroke-width="0.5" />
<text x="345.60" y="154.55" font-size="8.2" text-anchor="middle" >3</text>
<text x="321.00" y="164.55" font-size="8.2" text-anchor="middle" >Odds ratio</text>
<circle cx="362.4" cy="141" r="3.8" fill="#231f20"/>
<text x="362.40" y="154.55" font-size="8.2" text-anchor="middle" >15</text>
<circle cx="378.4" cy="141" r="5.3" fill="#231f20"/>
<text x="378.40" y="154.55" font-size="8.2" text-anchor="middle" >30</text>
<circle cx="394.5" cy="141" r="6.6" fill="#231f20"/>
<text x="394.50" y="154.55" font-size="8.2" text-anchor="middle" >45</text>
<text x="380.00" y="164.55" font-size="8.2" text-anchor="middle" >Gene #</text>
<text x="474.50" y="11.00" font-size="12.5" font-weight="bold" >c</text>
<text x="543.80" y="20.91" font-size="9.2" text-anchor="middle" >OXPHOS</text>
<text x="543.80" y="30.51" font-size="9.2" text-anchor="middle" >subunits</text>
<text x="637.20" y="20.91" font-size="9.2" text-anchor="middle" >Mitochondrial</text>
<text x="637.20" y="30.51" font-size="9.2" text-anchor="middle" >ribosome</text>
<text x="480.60" y="85.35" font-size="9.3" text-anchor="middle" transform="rotate(-90 480.60 82.00)" >Ribosome dependent</text>
<text x="491.40" y="85.35" font-size="9.3" text-anchor="middle" transform="rotate(-90 491.40 82.00)" >OMM enrichment</text>
<text x="590.60" y="141.04" font-size="9.55" text-anchor="middle" >Ribosome independent OMM enrichment</text>
<clipPath id="cp0"><rect x="499.8" y="38.5" width="88.30000000000001" height="87.9"/></clipPath>
<g clip-path="url(#cp0)">
<path d="M518.70,48.70 C519.15,47.93 518.03,47.20 520.50,46.80 C522.97,46.40 529.48,46.08 533.50,46.30 C537.52,46.52 541.83,46.93 544.60,48.10 C547.37,49.27 548.87,50.90 550.10,53.30 C551.33,55.70 551.68,59.42 552.00,62.50 C552.32,65.58 551.70,69.02 552.00,71.80 C552.30,74.58 552.58,77.20 553.80,79.20 C555.02,81.20 557.30,82.42 559.30,83.80 C561.30,85.18 564.10,85.80 565.80,87.50 C567.50,89.20 568.48,91.38 569.50,94.00 C570.52,96.62 571.58,100.43 571.90,103.20 C572.22,105.97 572.10,108.45 571.40,110.60 C570.70,112.75 570.02,114.57 567.70,116.10 C565.38,117.63 561.35,118.87 557.50,119.80 C553.65,120.73 549.22,121.53 544.60,121.70 C539.98,121.87 534.43,121.73 529.80,120.80 C525.17,119.87 519.58,118.12 516.80,116.10 C514.02,114.08 513.77,111.47 513.10,108.70 C512.43,105.93 512.48,102.27 512.80,99.50 C513.12,96.73 514.17,94.25 515.00,92.10 C515.83,89.95 517.18,88.45 517.80,86.60 C518.42,84.75 518.70,83.47 518.70,81.00 C518.70,78.53 518.05,75.50 517.80,71.80 C517.55,68.10 517.20,62.20 517.20,58.80 C517.20,55.40 517.55,53.08 517.80,51.40 C518.05,49.72 518.25,49.47 518.70,48.70Z" fill="none" stroke="#231f20" stroke-width="0.55" />
<path d="M526.10,54.20 C527.80,53.43 531.20,52.98 533.50,53.30 C535.80,53.62 538.37,54.57 539.90,56.10 C541.43,57.63 542.08,59.88 542.70,62.50 C543.32,65.12 543.13,69.02 543.60,71.80 C544.07,74.58 544.10,77.20 545.50,79.20 C546.90,81.20 549.38,82.27 552.00,83.80 C554.62,85.33 558.90,86.70 561.20,88.40 C563.50,90.10 564.72,91.53 565.80,94.00 C566.88,96.47 567.70,100.43 567.70,103.20 C567.70,105.97 567.20,108.45 565.80,110.60 C564.40,112.75 562.83,114.87 559.30,116.10 C555.77,117.33 549.52,117.83 544.60,118.00 C539.68,118.17 534.12,118.02 529.80,117.10 C525.48,116.18 521.02,114.52 518.70,112.50 C516.38,110.48 516.22,107.78 515.90,105.00 C515.58,102.22 515.87,98.57 516.80,95.80 C517.73,93.03 520.27,90.55 521.50,88.40 C522.73,86.25 523.58,85.05 524.20,82.90 C524.82,80.75 525.35,78.28 525.20,75.50 C525.05,72.72 523.62,69.13 523.30,66.20 C522.98,63.27 522.83,59.90 523.30,57.90 C523.77,55.90 524.40,54.97 526.10,54.20Z" fill="none" stroke="#231f20" stroke-width="0.55" />
<path d="M526.80,79.50 C528.05,78.58 530.97,77.75 532.80,78.00 C534.63,78.25 536.47,79.75 537.80,81.00 C539.13,82.25 538.80,84.33 540.80,85.50 C542.80,86.67 546.63,87.00 549.80,88.00 C552.97,89.00 557.38,89.75 559.80,91.50 C562.22,93.25 563.47,96.17 564.30,98.50 C565.13,100.83 565.30,103.17 564.80,105.50 C564.30,107.83 563.47,110.83 561.30,112.50 C559.13,114.17 555.05,114.92 551.80,115.50 C548.55,116.08 545.47,116.17 541.80,116.00 C538.13,115.83 533.30,115.50 529.80,114.50 C526.30,113.50 522.72,111.83 520.80,110.00 C518.88,108.17 518.55,105.92 518.30,103.50 C518.05,101.08 518.55,98.00 519.30,95.50 C520.05,93.00 521.80,90.50 522.80,88.50 C523.80,86.50 524.63,85.00 525.30,83.50 C525.97,82.00 525.55,80.42 526.80,79.50Z" fill="none" stroke="#231f20" stroke-width="0.55" />
<path d="M568.37,104.01 A25.49,14.31 0 0 1 542.88,118.32 A27.45,14.31 0 0 1 515.43,104.01 A27.45,15.49 0 0 1 542.88,88.52 A25.49,15.49 0 0 1 568.37,104.01Z" fill="none" stroke="#231f20" stroke-width="0.38" />
<path d="M566.21,104.06 A22.94,12.88 0 0 1 543.27,116.94 A24.71,12.88 0 0 1 518.56,104.06 A24.71,13.94 0 0 1 543.27,90.12 A22.94,13.94 0 0 1 566.21,104.06Z" fill="none" stroke="#231f20" stroke-width="0.38" />
<path d="M564.05,104.11 A20.39,11.45 0 0 1 543.66,115.56 A21.96,11.45 0 0 1 521.70,104.11 A21.96,12.39 0 0 1 543.66,91.72 A20.39,12.39 0 0 1 564.05,104.11Z" fill="none" stroke="#231f20" stroke-width="0.38" />
<path d="M561.90,104.16 A17.84,10.02 0 0 1 544.05,114.18 A19.22,10.02 0 0 1 524.84,104.16 A19.22,10.84 0 0 1 544.05,93.31 A17.84,10.84 0 0 1 561.90,104.16Z" fill="none" stroke="#231f20" stroke-width="0.38" />
<path d="M559.74,104.21 A15.29,8.59 0 0 1 544.45,112.79 A16.47,8.59 0 0 1 527.98,104.21 A16.47,9.29 0 0 1 544.45,94.91 A15.29,9.29 0 0 1 559.74,104.21Z" fill="none" stroke="#231f20" stroke-width="0.38" />
<path d="M557.58,104.25 A12.75,7.16 0 0 1 544.84,111.41 A13.73,7.16 0 0 1 531.11,104.25 A13.73,7.75 0 0 1 544.84,96.51 A12.75,7.75 0 0 1 557.58,104.25Z" fill="none" stroke="#231f20" stroke-width="0.38" />
<path d="M555.43,104.30 A10.20,5.73 0 0 1 545.23,110.03 A10.98,5.73 0 0 1 534.25,104.30 A10.98,6.20 0 0 1 545.23,98.11 A10.20,6.20 0 0 1 555.43,104.30Z" fill="none" stroke="#231f20" stroke-width="0.38" />
<path d="M553.27,104.35 A7.65,4.29 0 0 1 545.62,108.65 A8.24,4.29 0 0 1 537.39,104.35 A8.24,4.65 0 0 1 545.62,99.71 A7.65,4.65 0 0 1 553.27,104.35Z" fill="none" stroke="#231f20" stroke-width="0.38" />
<path d="M551.11,104.40 A5.10,2.86 0 0 1 546.02,107.26 A5.49,2.86 0 0 1 540.53,104.40 A5.49,3.10 0 0 1 546.02,101.30 A5.10,3.10 0 0 1 551.11,104.40Z" fill="none" stroke="#231f20" stroke-width="0.38" />
<path d="M548.96,104.45 A2.55,1.43 0 0 1 546.41,105.88 A2.75,1.43 0 0 1 543.66,104.45 A2.75,1.55 0 0 1 546.41,102.90 A2.55,1.55 0 0 1 548.96,104.45Z" fill="none" stroke="#231f20" stroke-width="0.38" />
</g>
<rect x="499.80" y="38.50" width="88.30" height="87.90" fill="none" stroke="#231f20" stroke-width="0.7" />
<line x1="499.80" y1="88.40" x2="588.10" y2="88.40" stroke="#231f20" stroke-width="0.6" />
<line x1="544.20" y1="88.40" x2="544.20" y2="126.40" stroke="#231f20" stroke-width="0.6" />
<line x1="499.80" y1="60.70" x2="501.60" y2="60.70" stroke="#231f20" stroke-width="0.6" />
<line x1="499.80" y1="82.50" x2="501.60" y2="82.50" stroke="#231f20" stroke-width="0.6" />
<line x1="499.80" y1="104.70" x2="501.60" y2="104.70" stroke="#231f20" stroke-width="0.6" />
<line x1="530.70" y1="124.60" x2="530.70" y2="126.40" stroke="#231f20" stroke-width="0.6" />
<line x1="544.20" y1="124.60" x2="544.20" y2="126.40" stroke="#231f20" stroke-width="0.6" />
<line x1="563.10" y1="124.60" x2="563.10" y2="126.40" stroke="#231f20" stroke-width="0.6" />
<clipPath id="cp1"><rect x="593.3" y="38.5" width="88.10000000000002" height="87.9"/></clipPath>
<g clip-path="url(#cp1)">
<path d="M612.20,48.70 C612.65,47.93 611.53,47.20 614.00,46.80 C616.47,46.40 622.98,46.08 627.00,46.30 C631.02,46.52 635.33,46.93 638.10,48.10 C640.87,49.27 642.37,50.90 643.60,53.30 C644.83,55.70 645.18,59.42 645.50,62.50 C645.82,65.58 645.20,69.02 645.50,71.80 C645.80,74.58 646.08,77.20 647.30,79.20 C648.52,81.20 650.80,82.42 652.80,83.80 C654.80,85.18 657.60,85.80 659.30,87.50 C661.00,89.20 661.98,91.38 663.00,94.00 C664.02,96.62 665.08,100.43 665.40,103.20 C665.72,105.97 665.60,108.45 664.90,110.60 C664.20,112.75 663.52,114.57 661.20,116.10 C658.88,117.63 654.85,118.87 651.00,119.80 C647.15,120.73 642.72,121.53 638.10,121.70 C633.48,121.87 627.93,121.73 623.30,120.80 C618.67,119.87 613.08,118.12 610.30,116.10 C607.52,114.08 607.27,111.47 606.60,108.70 C605.93,105.93 605.98,102.27 606.30,99.50 C606.62,96.73 607.67,94.25 608.50,92.10 C609.33,89.95 610.68,88.45 611.30,86.60 C611.92,84.75 612.20,83.47 612.20,81.00 C612.20,78.53 611.55,75.50 611.30,71.80 C611.05,68.10 610.70,62.20 610.70,58.80 C610.70,55.40 611.05,53.08 611.30,51.40 C611.55,49.72 611.75,49.47 612.20,48.70Z" fill="none" stroke="#231f20" stroke-width="0.55" />
<path d="M619.60,54.20 C621.30,53.43 624.70,52.98 627.00,53.30 C629.30,53.62 631.87,54.57 633.40,56.10 C634.93,57.63 635.58,59.88 636.20,62.50 C636.82,65.12 636.63,69.02 637.10,71.80 C637.57,74.58 637.60,77.20 639.00,79.20 C640.40,81.20 642.88,82.27 645.50,83.80 C648.12,85.33 652.40,86.70 654.70,88.40 C657.00,90.10 658.22,91.53 659.30,94.00 C660.38,96.47 661.20,100.43 661.20,103.20 C661.20,105.97 660.70,108.45 659.30,110.60 C657.90,112.75 656.33,114.87 652.80,116.10 C649.27,117.33 643.02,117.83 638.10,118.00 C633.18,118.17 627.62,118.02 623.30,117.10 C618.98,116.18 614.52,114.52 612.20,112.50 C609.88,110.48 609.72,107.78 609.40,105.00 C609.08,102.22 609.37,98.57 610.30,95.80 C611.23,93.03 613.77,90.55 615.00,88.40 C616.23,86.25 617.08,85.05 617.70,82.90 C618.32,80.75 618.85,78.28 618.70,75.50 C618.55,72.72 617.12,69.13 616.80,66.20 C616.48,63.27 616.33,59.90 616.80,57.90 C617.27,55.90 617.90,54.97 619.60,54.20Z" fill="none" stroke="#231f20" stroke-width="0.55" />
<path d="M620.30,79.50 C621.55,78.58 624.47,77.75 626.30,78.00 C628.13,78.25 629.97,79.75 631.30,81.00 C632.63,82.25 632.30,84.33 634.30,85.50 C636.30,86.67 640.13,87.00 643.30,88.00 C646.47,89.00 650.88,89.75 653.30,91.50 C655.72,93.25 656.97,96.17 657.80,98.50 C658.63,100.83 658.80,103.17 658.30,105.50 C657.80,107.83 656.97,110.83 654.80,112.50 C652.63,114.17 648.55,114.92 645.30,115.50 C642.05,116.08 638.97,116.17 635.30,116.00 C631.63,115.83 626.80,115.50 623.30,114.50 C619.80,113.50 616.22,111.83 614.30,110.00 C612.38,108.17 612.05,105.92 611.80,103.50 C611.55,101.08 612.05,98.00 612.80,95.50 C613.55,93.00 615.30,90.50 616.30,88.50 C617.30,86.50 618.13,85.00 618.80,83.50 C619.47,82.00 619.05,80.42 620.30,79.50Z" fill="none" stroke="#231f20" stroke-width="0.55" />
<path d="M661.87,104.01 A25.49,14.31 0 0 1 636.38,118.32 A27.45,14.31 0 0 1 608.93,104.01 A27.45,15.49 0 0 1 636.38,88.52 A25.49,15.49 0 0 1 661.87,104.01Z" fill="none" stroke="#231f20" stroke-width="0.38" />
<path d="M659.71,104.06 A22.94,12.88 0 0 1 636.77,116.94 A24.71,12.88 0 0 1 612.06,104.06 A24.71,13.94 0 0 1 636.77,90.12 A22.94,13.94 0 0 1 659.71,104.06Z" fill="none" stroke="#231f20" stroke-width="0.38" />
<path d="M657.55,104.11 A20.39,11.45 0 0 1 637.16,115.56 A21.96,11.45 0 0 1 615.20,104.11 A21.96,12.39 0 0 1 637.16,91.72 A20.39,12.39 0 0 1 657.55,104.11Z" fill="none" stroke="#231f20" stroke-width="0.38" />
<path d="M655.40,104.16 A17.84,10.02 0 0 1 637.55,114.18 A19.22,10.02 0 0 1 618.34,104.16 A19.22,10.84 0 0 1 637.55,93.31 A17.84,10.84 0 0 1 655.40,104.16Z" fill="none" stroke="#231f20" stroke-width="0.38" />
<path d="M653.24,104.21 A15.29,8.59 0 0 1 637.95,112.79 A16.47,8.59 0 0 1 621.48,104.21 A16.47,9.29 0 0 1 637.95,94.91 A15.29,9.29 0 0 1 653.24,104.21Z" fill="none" stroke="#231f20" stroke-width="0.38" />
<path d="M651.08,104.25 A12.75,7.16 0 0 1 638.34,111.41 A13.73,7.16 0 0 1 624.61,104.25 A13.73,7.75 0 0 1 638.34,96.51 A12.75,7.75 0 0 1 651.08,104.25Z" fill="none" stroke="#231f20" stroke-width="0.38" />
<path d="M648.93,104.30 A10.20,5.73 0 0 1 638.73,110.03 A10.98,5.73 0 0 1 627.75,104.30 A10.98,6.20 0 0 1 638.73,98.11 A10.20,6.20 0 0 1 648.93,104.30Z" fill="none" stroke="#231f20" stroke-width="0.38" />
<path d="M646.77,104.35 A7.65,4.29 0 0 1 639.12,108.65 A8.24,4.29 0 0 1 630.89,104.35 A8.24,4.65 0 0 1 639.12,99.71 A7.65,4.65 0 0 1 646.77,104.35Z" fill="none" stroke="#231f20" stroke-width="0.38" />
<path d="M644.61,104.40 A5.10,2.86 0 0 1 639.52,107.26 A5.49,2.86 0 0 1 634.03,104.40 A5.49,3.10 0 0 1 639.52,101.30 A5.10,3.10 0 0 1 644.61,104.40Z" fill="none" stroke="#231f20" stroke-width="0.38" />
<path d="M642.46,104.45 A2.55,1.43 0 0 1 639.91,105.88 A2.75,1.43 0 0 1 637.16,104.45 A2.75,1.55 0 0 1 639.91,102.90 A2.55,1.55 0 0 1 642.46,104.45Z" fill="none" stroke="#231f20" stroke-width="0.38" />
</g>
<rect x="593.30" y="38.50" width="88.10" height="87.90" fill="none" stroke="#231f20" stroke-width="0.7" />
<line x1="593.30" y1="88.40" x2="681.40" y2="88.40" stroke="#231f20" stroke-width="0.6" />
<line x1="637.70" y1="88.40" x2="637.70" y2="126.40" stroke="#231f20" stroke-width="0.6" />
<line x1="593.30" y1="60.70" x2="595.10" y2="60.70" stroke="#231f20" stroke-width="0.6" />
<line x1="593.30" y1="82.50" x2="595.10" y2="82.50" stroke="#231f20" stroke-width="0.6" />
<line x1="593.30" y1="104.70" x2="595.10" y2="104.70" stroke="#231f20" stroke-width="0.6" />
<line x1="624.20" y1="124.60" x2="624.20" y2="126.40" stroke="#231f20" stroke-width="0.6" />
<line x1="637.70" y1="124.60" x2="637.70" y2="126.40" stroke="#231f20" stroke-width="0.6" />
<line x1="656.60" y1="124.60" x2="656.60" y2="126.40" stroke="#231f20" stroke-width="0.6" />
<g clip-path="url(#cp0)">
<circle cx="539.1" cy="51.1" r="1.15" fill="#c8161d" stroke="#8a0d12" stroke-width="0.25"/>
<circle cx="551.2" cy="57.6" r="1.15" fill="#c8161d" stroke="#8a0d12" stroke-width="0.25"/>
<circle cx="550.6" cy="75.3" r="1.15" fill="#c8161d" stroke="#8a0d12" stroke-width="0.25"/>
<circle cx="550.6" cy="82.7" r="1.15" fill="#c8161d" stroke="#8a0d12" stroke-width="0.25"/>
<circle cx="539.9" cy="82.1" r="1.15" fill="#c8161d" stroke="#8a0d12" stroke-width="0.25"/>
<circle cx="538.8" cy="89.5" r="1.15" fill="#c8161d" stroke="#8a0d12" stroke-width="0.25"/>
<circle cx="541.4" cy="91.4" r="1.15" fill="#c8161d" stroke="#8a0d12" stroke-width="0.25"/>
<circle cx="562.1" cy="88.6" r="1.15" fill="#c8161d" stroke="#8a0d12" stroke-width="0.25"/>
<circle cx="554.3" cy="93.2" r="1.15" fill="#c8161d" stroke="#8a0d12" stroke-width="0.25"/>
<circle cx="577.4" cy="95.1" r="1.15" fill="#c8161d" stroke="#8a0d12" stroke-width="0.25"/>
<circle cx="586.6" cy="94.5" r="1.15" fill="#c8161d" stroke="#8a0d12" stroke-width="0.25"/>
<circle cx="583" cy="99.7" r="1.15" fill="#c8161d" stroke="#8a0d12" stroke-width="0.25"/>
<circle cx="587" cy="100.1" r="1.15" fill="#c8161d" stroke="#8a0d12" stroke-width="0.25"/>
<circle cx="533" cy="103.8" r="1.15" fill="#c8161d" stroke="#8a0d12" stroke-width="0.25"/>
<circle cx="539.1" cy="103.8" r="1.15" fill="#c8161d" stroke="#8a0d12" stroke-width="0.25"/>
<circle cx="542.3" cy="103.4" r="1.15" fill="#c8161d" stroke="#8a0d12" stroke-width="0.25"/>
<circle cx="541.7" cy="108.6" r="1.15" fill="#c8161d" stroke="#8a0d12" stroke-width="0.25"/>
<circle cx="556.5" cy="111.7" r="1.15" fill="#c8161d" stroke="#8a0d12" stroke-width="0.25"/>
<circle cx="548.8" cy="104.9" r="1.15" fill="#c8161d" stroke="#8a0d12" stroke-width="0.25"/>
<circle cx="552.5" cy="104.9" r="1.15" fill="#c8161d" stroke="#8a0d12" stroke-width="0.25"/>
<circle cx="565.8" cy="102.5" r="1.15" fill="#c8161d" stroke="#8a0d12" stroke-width="0.25"/>
<circle cx="568.2" cy="101.9" r="1.15" fill="#c8161d" stroke="#8a0d12" stroke-width="0.25"/>
<circle cx="570.9" cy="101.2" r="1.15" fill="#c8161d" stroke="#8a0d12" stroke-width="0.25"/>
<circle cx="554.8" cy="102.9" r="1.15" fill="#c8161d" stroke="#8a0d12" stroke-width="0.25"/>
<circle cx="549.1" cy="102.3" r="1.15" fill="#c8161d" stroke="#8a0d12" stroke-width="0.25"/>
<circle cx="552.9" cy="99" r="1.15" fill="#c8161d" stroke="#8a0d12" stroke-width="0.25"/>
<circle cx="564.8" cy="100.1" r="1.15" fill="#c8161d" stroke="#8a0d12" stroke-width="0.25"/>
<circle cx="554.1" cy="101.6" r="1.15" fill="#c8161d" stroke="#8a0d12" stroke-width="0.25"/>
<circle cx="560.6" cy="99.6" r="1.15" fill="#c8161d" stroke="#8a0d12" stroke-width="0.25"/>
<circle cx="557.6" cy="97.2" r="1.15" fill="#c8161d" stroke="#8a0d12" stroke-width="0.25"/>
<circle cx="552.3" cy="98.6" r="1.15" fill="#c8161d" stroke="#8a0d12" stroke-width="0.25"/>
<circle cx="546.9" cy="95.8" r="1.15" fill="#c8161d" stroke="#8a0d12" stroke-width="0.25"/>
<circle cx="545.3" cy="99.1" r="1.15" fill="#c8161d" stroke="#8a0d12" stroke-width="0.25"/>
<circle cx="553.3" cy="98.9" r="1.15" fill="#c8161d" stroke="#8a0d12" stroke-width="0.25"/>
<circle cx="554.7" cy="96.2" r="1.15" fill="#c8161d" stroke="#8a0d12" stroke-width="0.25"/>
<circle cx="553.9" cy="100.3" r="1.15" fill="#c8161d" stroke="#8a0d12" stroke-width="0.25"/>
<circle cx="558.5" cy="97.5" r="1.15" fill="#c8161d" stroke="#8a0d12" stroke-width="0.25"/>
<circle cx="552.1" cy="94.5" r="1.15" fill="#c8161d" stroke="#8a0d12" stroke-width="0.25"/>
<circle cx="551.5" cy="94" r="1.15" fill="#c8161d" stroke="#8a0d12" stroke-width="0.25"/>
<circle cx="546.4" cy="102.5" r="1.15" fill="#c8161d" stroke="#8a0d12" stroke-width="0.25"/>
<circle cx="542.1" cy="101.8" r="1.15" fill="#c8161d" stroke="#8a0d12" stroke-width="0.25"/>
<circle cx="556.1" cy="98.9" r="1.15" fill="#c8161d" stroke="#8a0d12" stroke-width="0.25"/>
<circle cx="556.8" cy="101.1" r="1.15" fill="#c8161d" stroke="#8a0d12" stroke-width="0.25"/>
<circle cx="560.1" cy="99.1" r="1.15" fill="#c8161d" stroke="#8a0d12" stroke-width="0.25"/>
<circle cx="551" cy="98.1" r="1.15" fill="#c8161d" stroke="#8a0d12" stroke-width="0.25"/>
<circle cx="548.8" cy="99.6" r="1.15" fill="#c8161d" stroke="#8a0d12" stroke-width="0.25"/>
<circle cx="549.9" cy="102.5" r="1.15" fill="#c8161d" stroke="#8a0d12" stroke-width="0.25"/>
<circle cx="543.9" cy="96.9" r="1.15" fill="#c8161d" stroke="#8a0d12" stroke-width="0.25"/>
<circle cx="549" cy="94.3" r="1.15" fill="#c8161d" stroke="#8a0d12" stroke-width="0.25"/>
<circle cx="564.8" cy="93.5" r="1.15" fill="#c8161d" stroke="#8a0d12" stroke-width="0.25"/>
<circle cx="552.7" cy="98.3" r="1.15" fill="#c8161d" stroke="#8a0d12" stroke-width="0.25"/>
<circle cx="563.5" cy="94.6" r="1.15" fill="#c8161d" stroke="#8a0d12" stroke-width="0.25"/>
<circle cx="560.2" cy="97.8" r="1.15" fill="#c8161d" stroke="#8a0d12" stroke-width="0.25"/>
<circle cx="553.4" cy="98" r="1.15" fill="#c8161d" stroke="#8a0d12" stroke-width="0.25"/>
<circle cx="557.9" cy="96.8" r="1.15" fill="#c8161d" stroke="#8a0d12" stroke-width="0.25"/>
<circle cx="553.9" cy="100.6" r="1.15" fill="#c8161d" stroke="#8a0d12" stroke-width="0.25"/>
<circle cx="564.5" cy="93.5" r="1.15" fill="#c8161d" stroke="#8a0d12" stroke-width="0.25"/>
<circle cx="562.8" cy="102.1" r="1.15" fill="#c8161d" stroke="#8a0d12" stroke-width="0.25"/>
<circle cx="551.6" cy="100.5" r="1.15" fill="#c8161d" stroke="#8a0d12" stroke-width="0.25"/>
<circle cx="551.7" cy="104" r="1.15" fill="#c8161d" stroke="#8a0d12" stroke-width="0.25"/>
<circle cx="555.5" cy="99.1" r="1.15" fill="#c8161d" stroke="#8a0d12" stroke-width="0.25"/>
<circle cx="553" cy="99.2" r="1.15" fill="#c8161d" stroke="#8a0d12" stroke-width="0.25"/>
<circle cx="553.3" cy="97.4" r="1.15" fill="#c8161d" stroke="#8a0d12" stroke-width="0.25"/>
<circle cx="565.7" cy="94.7" r="1.15" fill="#c8161d" stroke="#8a0d12" stroke-width="0.25"/>
<circle cx="534.3" cy="99.4" r="1.15" fill="#c8161d" stroke="#8a0d12" stroke-width="0.25"/>
<circle cx="553.5" cy="100.7" r="1.15" fill="#c8161d" stroke="#8a0d12" stroke-width="0.25"/>
<circle cx="553.2" cy="99.3" r="1.15" fill="#c8161d" stroke="#8a0d12" stroke-width="0.25"/>
<circle cx="556.1" cy="102.2" r="1.15" fill="#c8161d" stroke="#8a0d12" stroke-width="0.25"/>
</g>
<g clip-path="url(#cp1)">
<circle cx="623.6" cy="64" r="1.15" fill="#3b9bd0" stroke="#1f6f9e" stroke-width="0.25"/>
<circle cx="624.4" cy="72.9" r="1.15" fill="#3b9bd0" stroke="#1f6f9e" stroke-width="0.25"/>
<circle cx="631" cy="91.9" r="1.15" fill="#3b9bd0" stroke="#1f6f9e" stroke-width="0.25"/>
<circle cx="644" cy="88.2" r="1.15" fill="#3b9bd0" stroke="#1f6f9e" stroke-width="0.25"/>
<circle cx="651.6" cy="90.5" r="1.15" fill="#3b9bd0" stroke="#1f6f9e" stroke-width="0.25"/>
<circle cx="651" cy="93.2" r="1.15" fill="#3b9bd0" stroke="#1f6f9e" stroke-width="0.25"/>
<circle cx="620.5" cy="108.9" r="1.15" fill="#3b9bd0" stroke="#1f6f9e" stroke-width="0.25"/>
<circle cx="625.7" cy="105.2" r="1.15" fill="#3b9bd0" stroke="#1f6f9e" stroke-width="0.25"/>
<circle cx="627.9" cy="106.2" r="1.15" fill="#3b9bd0" stroke="#1f6f9e" stroke-width="0.25"/>
<circle cx="679.6" cy="120.4" r="1.15" fill="#3b9bd0" stroke="#1f6f9e" stroke-width="0.25"/>
<circle cx="661.2" cy="100.6" r="1.15" fill="#3b9bd0" stroke="#1f6f9e" stroke-width="0.25"/>
<circle cx="663.6" cy="109.3" r="1.15" fill="#3b9bd0" stroke="#1f6f9e" stroke-width="0.25"/>
<circle cx="661.2" cy="109.9" r="1.15" fill="#3b9bd0" stroke="#1f6f9e" stroke-width="0.25"/>
<circle cx="658.4" cy="110.8" r="1.15" fill="#3b9bd0" stroke="#1f6f9e" stroke-width="0.25"/>
<circle cx="635.3" cy="96" r="1.15" fill="#3b9bd0" stroke="#1f6f9e" stroke-width="0.25"/>
<circle cx="642.1" cy="96" r="1.15" fill="#3b9bd0" stroke="#1f6f9e" stroke-width="0.25"/>
<circle cx="643.6" cy="113.6" r="1.15" fill="#3b9bd0" stroke="#1f6f9e" stroke-width="0.25"/>
<circle cx="642.3" cy="101.6" r="1.15" fill="#3b9bd0" stroke="#1f6f9e" stroke-width="0.25"/>
<circle cx="659.1" cy="105" r="1.15" fill="#3b9bd0" stroke="#1f6f9e" stroke-width="0.25"/>
<circle cx="638.5" cy="111.6" r="1.15" fill="#3b9bd0" stroke="#1f6f9e" stroke-width="0.25"/>
<circle cx="650.9" cy="100.8" r="1.15" fill="#3b9bd0" stroke="#1f6f9e" stroke-width="0.25"/>
<circle cx="637.2" cy="104.1" r="1.15" fill="#3b9bd0" stroke="#1f6f9e" stroke-width="0.25"/>
<circle cx="639.6" cy="99.1" r="1.15" fill="#3b9bd0" stroke="#1f6f9e" stroke-width="0.25"/>
<circle cx="636.3" cy="101.2" r="1.15" fill="#3b9bd0" stroke="#1f6f9e" stroke-width="0.25"/>
<circle cx="653.2" cy="101.4" r="1.15" fill="#3b9bd0" stroke="#1f6f9e" stroke-width="0.25"/>
<circle cx="635.3" cy="105.5" r="1.15" fill="#3b9bd0" stroke="#1f6f9e" stroke-width="0.25"/>
<circle cx="645.9" cy="106.1" r="1.15" fill="#3b9bd0" stroke="#1f6f9e" stroke-width="0.25"/>
<circle cx="653.9" cy="102.4" r="1.15" fill="#3b9bd0" stroke="#1f6f9e" stroke-width="0.25"/>
<circle cx="644.4" cy="102.9" r="1.15" fill="#3b9bd0" stroke="#1f6f9e" stroke-width="0.25"/>
<circle cx="637.5" cy="105.5" r="1.15" fill="#3b9bd0" stroke="#1f6f9e" stroke-width="0.25"/>
<circle cx="655.1" cy="103.7" r="1.15" fill="#3b9bd0" stroke="#1f6f9e" stroke-width="0.25"/>
<circle cx="643.8" cy="102.1" r="1.15" fill="#3b9bd0" stroke="#1f6f9e" stroke-width="0.25"/>
<circle cx="640" cy="100.1" r="1.15" fill="#3b9bd0" stroke="#1f6f9e" stroke-width="0.25"/>
<circle cx="642.6" cy="99.9" r="1.15" fill="#3b9bd0" stroke="#1f6f9e" stroke-width="0.25"/>
<circle cx="642.4" cy="97.2" r="1.15" fill="#3b9bd0" stroke="#1f6f9e" stroke-width="0.25"/>
<circle cx="647.9" cy="103.2" r="1.15" fill="#3b9bd0" stroke="#1f6f9e" stroke-width="0.25"/>
<circle cx="637.4" cy="94.5" r="1.15" fill="#3b9bd0" stroke="#1f6f9e" stroke-width="0.25"/>
<circle cx="645.4" cy="107.1" r="1.15" fill="#3b9bd0" stroke="#1f6f9e" stroke-width="0.25"/>
<circle cx="640.3" cy="101.2" r="1.15" fill="#3b9bd0" stroke="#1f6f9e" stroke-width="0.25"/>
<circle cx="641.5" cy="105.4" r="1.15" fill="#3b9bd0" stroke="#1f6f9e" stroke-width="0.25"/>
<circle cx="639" cy="106.7" r="1.15" fill="#3b9bd0" stroke="#1f6f9e" stroke-width="0.25"/>
<circle cx="643.3" cy="106.4" r="1.15" fill="#3b9bd0" stroke="#1f6f9e" stroke-width="0.25"/>
<circle cx="645.7" cy="102.2" r="1.15" fill="#3b9bd0" stroke="#1f6f9e" stroke-width="0.25"/>
<circle cx="635.1" cy="100.5" r="1.15" fill="#3b9bd0" stroke="#1f6f9e" stroke-width="0.25"/>
<circle cx="643.6" cy="105.5" r="1.15" fill="#3b9bd0" stroke="#1f6f9e" stroke-width="0.25"/>
<circle cx="647.2" cy="100.4" r="1.15" fill="#3b9bd0" stroke="#1f6f9e" stroke-width="0.25"/>
<circle cx="648.3" cy="106.7" r="1.15" fill="#3b9bd0" stroke="#1f6f9e" stroke-width="0.25"/>
<circle cx="644.4" cy="101.4" r="1.15" fill="#3b9bd0" stroke="#1f6f9e" stroke-width="0.25"/>
<circle cx="642.7" cy="106" r="1.15" fill="#3b9bd0" stroke="#1f6f9e" stroke-width="0.25"/>
<circle cx="649.2" cy="99.6" r="1.15" fill="#3b9bd0" stroke="#1f6f9e" stroke-width="0.25"/>
<circle cx="648.1" cy="101.2" r="1.15" fill="#3b9bd0" stroke="#1f6f9e" stroke-width="0.25"/>
<circle cx="640.2" cy="107.6" r="1.15" fill="#3b9bd0" stroke="#1f6f9e" stroke-width="0.25"/>
<circle cx="651.2" cy="100.3" r="1.15" fill="#3b9bd0" stroke="#1f6f9e" stroke-width="0.25"/>
<circle cx="646" cy="104.9" r="1.15" fill="#3b9bd0" stroke="#1f6f9e" stroke-width="0.25"/>
<circle cx="641" cy="102.6" r="1.15" fill="#3b9bd0" stroke="#1f6f9e" stroke-width="0.25"/>
<circle cx="650.1" cy="96.4" r="1.15" fill="#3b9bd0" stroke="#1f6f9e" stroke-width="0.25"/>
<circle cx="647.8" cy="105.8" r="1.15" fill="#3b9bd0" stroke="#1f6f9e" stroke-width="0.25"/>
<circle cx="649" cy="98.1" r="1.15" fill="#3b9bd0" stroke="#1f6f9e" stroke-width="0.25"/>
<circle cx="647.7" cy="99.8" r="1.15" fill="#3b9bd0" stroke="#1f6f9e" stroke-width="0.25"/>
<circle cx="649.5" cy="105.3" r="1.15" fill="#3b9bd0" stroke="#1f6f9e" stroke-width="0.25"/>
<circle cx="647" cy="100.2" r="1.15" fill="#3b9bd0" stroke="#1f6f9e" stroke-width="0.25"/>
<circle cx="641.3" cy="106.2" r="1.15" fill="#3b9bd0" stroke="#1f6f9e" stroke-width="0.25"/>
</g>
<text x="0.50" y="186.50" font-size="12.5" font-weight="bold" >d</text>
<text x="59.50" y="184.30" font-size="8.6" text-anchor="middle" >OXPHOS</text>
<text x="59.50" y="192.50" font-size="8.6" text-anchor="middle" >complex</text>
<text x="26.00" y="202.75" font-size="8.2" text-anchor="end" >mtDNA</text>
<text x="26.00" y="212.95" font-size="8.2" text-anchor="end" >nDNA</text>
<rect x="28.30" y="196.20" width="3.20" height="6.60" fill="#e0196b" />
<rect x="28.30" y="206.20" width="3.20" height="6.60" fill="#5cc95c" />
<linearGradient id="hb1943" x1="0" y1="0" x2="0" y2="1"><stop offset="0.000" stop-color="#1c4f8a"/><stop offset="0.040" stop-color="#1c4f8a"/><stop offset="0.060" stop-color="#7fb5da"/><stop offset="0.120" stop-color="#c4dcee"/><stop offset="0.160" stop-color="#2c6fb0"/><stop offset="0.220" stop-color="#7fb3dc"/><stop offset="0.500" stop-color="#b3d2ea"/><stop offset="0.850" stop-color="#e8eef4"/><stop offset="0.950" stop-color="#f6ddd0"/><stop offset="1.000" stop-color="#f4c7b0"/></linearGradient>
<rect x="36.20" y="194.30" width="6.80" height="64.00" fill="url(#hb1943)" stroke="#231f20" stroke-width="0.7" />
<rect x="34.20" y="194.30" width="1.60" height="9.00" fill="#e0196b" />
<rect x="34.20" y="203.30" width="1.60" height="55.00" fill="#4fc04f" />
<linearGradient id="hb2614" x1="0" y1="0" x2="0" y2="1"><stop offset="0.000" stop-color="#f2f2f2"/><stop offset="0.700" stop-color="#f7f0ec"/><stop offset="1.000" stop-color="#f4c8b0"/></linearGradient>
<rect x="36.20" y="261.40" width="6.80" height="6.20" fill="url(#hb2614)" stroke="#231f20" stroke-width="0.7" />
<rect x="34.20" y="261.40" width="1.60" height="6.20" fill="#4fc04f" />
<linearGradient id="hb2700" x1="0" y1="0" x2="0" y2="1"><stop offset="0.000" stop-color="#3a7bbd"/><stop offset="0.200" stop-color="#5f9ccf"/><stop offset="0.600" stop-color="#cfe1f0"/><stop offset="0.850" stop-color="#f8e9e0"/><stop offset="1.000" stop-color="#f0b896"/></linearGradient>
<rect x="36.20" y="270.00" width="6.80" height="16.20" fill="url(#hb2700)" stroke="#231f20" stroke-width="0.7" />
<rect x="34.20" y="270.00" width="1.60" height="1.20" fill="#e0196b" />
<rect x="34.20" y="271.20" width="1.60" height="15.00" fill="#4fc04f" />
<linearGradient id="hb2886" x1="0" y1="0" x2="0" y2="1"><stop offset="0.000" stop-color="#0d2f63"/><stop offset="0.060" stop-color="#0d2f63"/><stop offset="0.090" stop-color="#e8eef6"/><stop offset="0.120" stop-color="#2a65a8"/><stop offset="0.300" stop-color="#5c9bcf"/><stop offset="0.700" stop-color="#b9d5ea"/><stop offset="0.900" stop-color="#f4ede9"/><stop offset="1.000" stop-color="#f5cdb7"/></linearGradient>
<rect x="36.20" y="288.60" width="6.80" height="30.40" fill="url(#hb2886)" stroke="#231f20" stroke-width="0.7" />
<rect x="34.20" y="288.60" width="1.60" height="2.50" fill="#e0196b" />
<rect x="34.20" y="291.10" width="1.60" height="27.90" fill="#4fc04f" />
<linearGradient id="hb3220" x1="0" y1="0" x2="0" y2="1"><stop offset="0.000" stop-color="#08284f"/><stop offset="0.080" stop-color="#134a86"/><stop offset="0.300" stop-color="#5b9bd0"/><stop offset="0.600" stop-color="#a8cbe7"/><stop offset="0.800" stop-color="#eef1f4"/><stop offset="1.000" stop-color="#f6d8c7"/></linearGradient>
<rect x="36.20" y="322.00" width="6.80" height="30.50" fill="url(#hb3220)" stroke="#231f20" stroke-width="0.7" />
<rect x="34.20" y="322.00" width="1.60" height="2.50" fill="#e0196b" />
<rect x="34.20" y="324.50" width="1.60" height="28.00" fill="#4fc04f" />
<path d="M43.20,194.30 L52.20,206.00 L43.20,258.30Z" fill="#e6e6e6" stroke="#444" stroke-width="0.45" stroke-linejoin="round"/>
<path d="M43.20,261.40 L52.50,227.80 L43.20,267.60Z" fill="#e6e6e6" stroke="#444" stroke-width="0.45" stroke-linejoin="round"/>
<path d="M43.20,270.00 L52.30,252.30 L43.20,286.20Z" fill="#e6e6e6" stroke="#444" stroke-width="0.45" stroke-linejoin="round"/>
<path d="M43.20,288.60 L52.20,275.20 L43.20,319.00Z" fill="#e6e6e6" stroke="#444" stroke-width="0.45" stroke-linejoin="round"/>
<path d="M43.20,322.00 L52.30,299.00 L43.20,352.50Z" fill="#e6e6e6" stroke="#444" stroke-width="0.45" stroke-linejoin="round"/>
<text x="58.00" y="208.68" font-size="8.0" text-anchor="middle" >I</text>
<text x="58.00" y="231.98" font-size="8.0" text-anchor="middle" >II</text>
<text x="58.00" y="255.38" font-size="8.0" text-anchor="middle" >III</text>
<text x="58.00" y="278.68" font-size="8.0" text-anchor="middle" >IV</text>
<text x="58.00" y="302.08" font-size="8.0" text-anchor="middle" >V</text>
<rect x="24.30" y="317.20" width="4.60" height="29.50" fill="url(#gD)" />
<line x1="22.30" y1="317.20" x2="24.30" y2="317.20" stroke="#231f20" stroke-width="0.5" />
<text x="21.00" y="320.15" font-size="8.2" text-anchor="end" >2</text>
<line x1="22.30" y1="331.90" x2="24.30" y2="331.90" stroke="#231f20" stroke-width="0.5" />
<text x="21.00" y="334.85" font-size="8.2" text-anchor="end" >0</text>
<line x1="22.30" y1="346.70" x2="24.30" y2="346.70" stroke="#231f20" stroke-width="0.5" />
<text x="21.00" y="349.65" font-size="8.2" text-anchor="end" >−2</text>
<text x="28.60" y="299.95" font-size="8.2" text-anchor="end" >RD</text>
<text x="29.20" y="308.55" font-size="8.2" text-anchor="end" >log<tspan font-size="5.8" dy="2.2">2</tspan><tspan dy="-2.2">FC</tspan></text>
<line x1="58.60" y1="310.60" x2="173.80" y2="310.60" stroke="#231f20" stroke-width="0.8" />
<line x1="58.60" y1="310.60" x2="58.60" y2="313.40" stroke="#231f20" stroke-width="0.7" />
<text x="58.60" y="322.95" font-size="8.2" text-anchor="middle" >−2</text>
<line x1="97.00" y1="310.60" x2="97.00" y2="313.40" stroke="#231f20" stroke-width="0.7" />
<text x="97.00" y="322.95" font-size="8.2" text-anchor="middle" >−1</text>
<line x1="135.40" y1="310.60" x2="135.40" y2="313.40" stroke="#231f20" stroke-width="0.7" />
<text x="135.40" y="322.95" font-size="8.2" text-anchor="middle" >0</text>
<line x1="173.80" y1="310.60" x2="173.80" y2="313.40" stroke="#231f20" stroke-width="0.7" />
<text x="173.80" y="322.95" font-size="8.2" text-anchor="middle" >1</text>
<text x="117.30" y="332.94" font-size="9.55" text-anchor="middle" >Ribosome density log<tspan font-size="6.4" dy="2.4">2</tspan><tspan dy="-2.4">FC</tspan></text>
<text x="117.30" y="344.92" font-size="9.5" text-anchor="middle" >8d vs 0d</text>
<circle cx="133.6" cy="207" r="0.55" fill="none" stroke="#8a8a8a" stroke-width="0.45"/>
<circle cx="141.1" cy="205.6" r="0.55" fill="none" stroke="#8a8a8a" stroke-width="0.45"/>
<circle cx="128" cy="208.6" r="0.55" fill="none" stroke="#8a8a8a" stroke-width="0.45"/>
<circle cx="147" cy="205.9" r="0.55" fill="none" stroke="#8a8a8a" stroke-width="0.45"/>
<circle cx="112.4" cy="201.3" r="0.55" fill="none" stroke="#8a8a8a" stroke-width="0.45"/>
<circle cx="122.4" cy="204.6" r="0.55" fill="none" stroke="#8a8a8a" stroke-width="0.45"/>
<circle cx="118.1" cy="208.4" r="0.55" fill="none" stroke="#8a8a8a" stroke-width="0.45"/>
<circle cx="120" cy="203.4" r="0.55" fill="none" stroke="#8a8a8a" stroke-width="0.45"/>
<circle cx="123.1" cy="210.3" r="0.55" fill="none" stroke="#8a8a8a" stroke-width="0.45"/>
<circle cx="126.8" cy="207.9" r="0.55" fill="none" stroke="#8a8a8a" stroke-width="0.45"/>
<circle cx="136.4" cy="201.6" r="0.55" fill="none" stroke="#8a8a8a" stroke-width="0.45"/>
<circle cx="109" cy="204.3" r="0.55" fill="none" stroke="#8a8a8a" stroke-width="0.45"/>
<circle cx="115.8" cy="209.9" r="0.55" fill="none" stroke="#8a8a8a" stroke-width="0.45"/>
<circle cx="122.8" cy="204.6" r="0.55" fill="none" stroke="#8a8a8a" stroke-width="0.45"/>
<circle cx="137.2" cy="202.4" r="0.55" fill="none" stroke="#8a8a8a" stroke-width="0.45"/>
<circle cx="144" cy="209.7" r="0.55" fill="none" stroke="#8a8a8a" stroke-width="0.45"/>
<circle cx="105.7" cy="204.4" r="0.55" fill="none" stroke="#8a8a8a" stroke-width="0.45"/>
<circle cx="127.8" cy="205.7" r="0.55" fill="none" stroke="#8a8a8a" stroke-width="0.45"/>
<circle cx="124.2" cy="209.1" r="0.55" fill="none" stroke="#8a8a8a" stroke-width="0.45"/>
<circle cx="126.3" cy="203.4" r="0.55" fill="none" stroke="#8a8a8a" stroke-width="0.45"/>
<circle cx="124.5" cy="210" r="0.55" fill="none" stroke="#8a8a8a" stroke-width="0.45"/>
<circle cx="113.3" cy="209.3" r="0.55" fill="none" stroke="#8a8a8a" stroke-width="0.45"/>
<circle cx="123.4" cy="206.5" r="0.55" fill="none" stroke="#8a8a8a" stroke-width="0.45"/>
<circle cx="99" cy="207.9" r="0.55" fill="none" stroke="#8a8a8a" stroke-width="0.45"/>
<circle cx="134.1" cy="208.7" r="0.55" fill="none" stroke="#8a8a8a" stroke-width="0.45"/>
<circle cx="133.8" cy="203.1" r="0.55" fill="none" stroke="#8a8a8a" stroke-width="0.45"/>
<circle cx="148.6" cy="205" r="0.55" fill="none" stroke="#8a8a8a" stroke-width="0.45"/>
<circle cx="109.1" cy="204.6" r="0.55" fill="none" stroke="#8a8a8a" stroke-width="0.45"/>
<circle cx="109.5" cy="210.3" r="0.55" fill="none" stroke="#8a8a8a" stroke-width="0.45"/>
<circle cx="126.9" cy="204.8" r="0.55" fill="none" stroke="#8a8a8a" stroke-width="0.45"/>
<circle cx="128.8" cy="207.8" r="0.55" fill="none" stroke="#8a8a8a" stroke-width="0.45"/>
<circle cx="123.7" cy="210.2" r="0.55" fill="none" stroke="#8a8a8a" stroke-width="0.45"/>
<circle cx="106.4" cy="206.3" r="0.55" fill="none" stroke="#8a8a8a" stroke-width="0.45"/>
<circle cx="123.1" cy="208" r="0.55" fill="none" stroke="#8a8a8a" stroke-width="0.45"/>
<circle cx="126.1" cy="206.3" r="0.55" fill="none" stroke="#8a8a8a" stroke-width="0.45"/>
<circle cx="141.6" cy="206.9" r="0.55" fill="none" stroke="#8a8a8a" stroke-width="0.45"/>
<circle cx="126.3" cy="204.4" r="0.55" fill="none" stroke="#8a8a8a" stroke-width="0.45"/>
<circle cx="130.5" cy="209.6" r="0.55" fill="none" stroke="#8a8a8a" stroke-width="0.45"/>
<circle cx="111.9" cy="204.1" r="0.55" fill="none" stroke="#8a8a8a" stroke-width="0.45"/>
<circle cx="138.2" cy="202.2" r="0.55" fill="none" stroke="#8a8a8a" stroke-width="0.45"/>
<circle cx="146.2" cy="208.3" r="0.55" fill="none" stroke="#8a8a8a" stroke-width="0.45"/>
<circle cx="133" cy="204.7" r="0.55" fill="none" stroke="#8a8a8a" stroke-width="0.45"/>
<circle cx="114.2" cy="209.4" r="0.55" fill="none" stroke="#8a8a8a" stroke-width="0.45"/>
<circle cx="103.5" cy="209.9" r="0.55" fill="none" stroke="#8a8a8a" stroke-width="0.45"/>
<circle cx="87.6" cy="210" r="0.55" fill="none" stroke="#8a8a8a" stroke-width="0.45"/>
<circle cx="145.9" cy="206.6" r="0.55" fill="none" stroke="#8a8a8a" stroke-width="0.45"/>
<circle cx="134.8" cy="204.7" r="0.55" fill="none" stroke="#8a8a8a" stroke-width="0.45"/>
<circle cx="111.8" cy="203.5" r="0.55" fill="none" stroke="#8a8a8a" stroke-width="0.45"/>
<circle cx="128.6" cy="201.9" r="0.55" fill="none" stroke="#8a8a8a" stroke-width="0.45"/>
<circle cx="116.9" cy="208.5" r="0.55" fill="none" stroke="#8a8a8a" stroke-width="0.45"/>
<circle cx="125.1" cy="208.8" r="0.55" fill="none" stroke="#8a8a8a" stroke-width="0.45"/>
<circle cx="106.8" cy="201.8" r="0.55" fill="none" stroke="#8a8a8a" stroke-width="0.45"/>
<circle cx="122.1" cy="205.1" r="0.55" fill="none" stroke="#8a8a8a" stroke-width="0.45"/>
<circle cx="134.3" cy="202.8" r="0.55" fill="none" stroke="#8a8a8a" stroke-width="0.45"/>
<circle cx="134.2" cy="209.4" r="0.55" fill="none" stroke="#8a8a8a" stroke-width="0.45"/>
<circle cx="128.1" cy="210.2" r="0.55" fill="none" stroke="#8a8a8a" stroke-width="0.45"/>
<circle cx="122.3" cy="203.6" r="0.55" fill="none" stroke="#8a8a8a" stroke-width="0.45"/>
<circle cx="106.7" cy="209.9" r="0.55" fill="none" stroke="#8a8a8a" stroke-width="0.45"/>
<circle cx="100.4" cy="201.6" r="0.55" fill="none" stroke="#8a8a8a" stroke-width="0.45"/>
<circle cx="119.1" cy="203.2" r="0.55" fill="none" stroke="#8a8a8a" stroke-width="0.45"/>
<circle cx="135.8" cy="209.2" r="0.55" fill="none" stroke="#8a8a8a" stroke-width="0.45"/>
<circle cx="101.5" cy="206.7" r="0.55" fill="none" stroke="#8a8a8a" stroke-width="0.45"/>
<circle cx="106.2" cy="208.9" r="0.55" fill="none" stroke="#8a8a8a" stroke-width="0.45"/>
<circle cx="131" cy="204.1" r="0.55" fill="none" stroke="#8a8a8a" stroke-width="0.45"/>
<circle cx="111.7" cy="208.2" r="0.55" fill="none" stroke="#8a8a8a" stroke-width="0.45"/>
<circle cx="120.3" cy="201.4" r="0.55" fill="none" stroke="#8a8a8a" stroke-width="0.45"/>
<circle cx="109" cy="201.5" r="0.55" fill="none" stroke="#8a8a8a" stroke-width="0.45"/>
<circle cx="90.8" cy="206.6" r="0.55" fill="none" stroke="#8a8a8a" stroke-width="0.45"/>
<circle cx="105.8" cy="206.6" r="0.55" fill="none" stroke="#8a8a8a" stroke-width="0.45"/>
<circle cx="101.2" cy="203.6" r="0.55" fill="none" stroke="#8a8a8a" stroke-width="0.45"/>
<circle cx="93.4" cy="209.5" r="0.55" fill="none" stroke="#8a8a8a" stroke-width="0.45"/>
<circle cx="142.5" cy="202.5" r="0.55" fill="none" stroke="#8a8a8a" stroke-width="0.45"/>
<circle cx="127.8" cy="201.5" r="0.55" fill="none" stroke="#8a8a8a" stroke-width="0.45"/>
<circle cx="126.2" cy="205.3" r="0.55" fill="none" stroke="#8a8a8a" stroke-width="0.45"/>
<circle cx="140.5" cy="207.2" r="0.55" fill="none" stroke="#8a8a8a" stroke-width="0.45"/>
<circle cx="144.5" cy="202.4" r="0.55" fill="none" stroke="#8a8a8a" stroke-width="0.45"/>
<circle cx="110.7" cy="205.7" r="0.55" fill="none" stroke="#8a8a8a" stroke-width="0.45"/>
<circle cx="119.7" cy="203.3" r="0.55" fill="none" stroke="#8a8a8a" stroke-width="0.45"/>
<circle cx="127.2" cy="204.7" r="0.55" fill="none" stroke="#8a8a8a" stroke-width="0.45"/>
<circle cx="130.4" cy="207.7" r="0.55" fill="none" stroke="#8a8a8a" stroke-width="0.45"/>
<circle cx="118.6" cy="207.7" r="0.55" fill="none" stroke="#8a8a8a" stroke-width="0.45"/>
<circle cx="121.4" cy="209.2" r="0.55" fill="none" stroke="#8a8a8a" stroke-width="0.45"/>
<circle cx="126.5" cy="201.4" r="0.55" fill="none" stroke="#8a8a8a" stroke-width="0.45"/>
<circle cx="98.2" cy="205.5" r="0.55" fill="none" stroke="#8a8a8a" stroke-width="0.45"/>
<circle cx="144.6" cy="202.9" r="0.55" fill="none" stroke="#8a8a8a" stroke-width="0.45"/>
<circle cx="131.9" cy="207.7" r="0.55" fill="none" stroke="#8a8a8a" stroke-width="0.45"/>
<circle cx="122.3" cy="204.1" r="0.55" fill="none" stroke="#8a8a8a" stroke-width="0.45"/>
<circle cx="144.3" cy="201.7" r="0.55" fill="none" stroke="#8a8a8a" stroke-width="0.45"/>
<circle cx="113.5" cy="209.4" r="0.55" fill="none" stroke="#8a8a8a" stroke-width="0.45"/>
<circle cx="130.4" cy="204" r="0.55" fill="none" stroke="#8a8a8a" stroke-width="0.45"/>
<circle cx="105" cy="209.8" r="0.55" fill="none" stroke="#8a8a8a" stroke-width="0.45"/>
<circle cx="122.4" cy="202.2" r="0.55" fill="none" stroke="#8a8a8a" stroke-width="0.45"/>
<circle cx="109.3" cy="207.9" r="0.55" fill="none" stroke="#8a8a8a" stroke-width="0.45"/>
<circle cx="112.8" cy="210" r="0.55" fill="none" stroke="#8a8a8a" stroke-width="0.45"/>
<circle cx="114.7" cy="206" r="0.55" fill="none" stroke="#8a8a8a" stroke-width="0.45"/>
<circle cx="142.9" cy="206.3" r="0.55" fill="none" stroke="#8a8a8a" stroke-width="0.45"/>
<circle cx="146.4" cy="210.1" r="0.55" fill="none" stroke="#8a8a8a" stroke-width="0.45"/>
<circle cx="132.7" cy="204.5" r="0.55" fill="none" stroke="#8a8a8a" stroke-width="0.45"/>
<circle cx="104.3" cy="202.3" r="0.55" fill="none" stroke="#8a8a8a" stroke-width="0.45"/>
<circle cx="163" cy="202" r="0.55" fill="none" stroke="#8a8a8a" stroke-width="0.45"/>
<circle cx="145.7" cy="208.1" r="0.55" fill="none" stroke="#8a8a8a" stroke-width="0.45"/>
<circle cx="134.1" cy="205.3" r="0.55" fill="none" stroke="#8a8a8a" stroke-width="0.45"/>
<circle cx="120.7" cy="207.1" r="0.55" fill="none" stroke="#8a8a8a" stroke-width="0.45"/>
<circle cx="120.8" cy="205.3" r="0.55" fill="none" stroke="#8a8a8a" stroke-width="0.45"/>
<circle cx="108.9" cy="204.9" r="0.55" fill="none" stroke="#8a8a8a" stroke-width="0.45"/>
<circle cx="121.2" cy="203.3" r="0.55" fill="none" stroke="#8a8a8a" stroke-width="0.45"/>
<circle cx="136.9" cy="203.5" r="0.55" fill="none" stroke="#8a8a8a" stroke-width="0.45"/>
<circle cx="127.2" cy="207.6" r="0.55" fill="none" stroke="#8a8a8a" stroke-width="0.45"/>
<circle cx="131.9" cy="205.4" r="0.55" fill="none" stroke="#8a8a8a" stroke-width="0.45"/>
<circle cx="102.2" cy="203.4" r="0.55" fill="none" stroke="#8a8a8a" stroke-width="0.45"/>
<circle cx="110.5" cy="207" r="0.55" fill="none" stroke="#8a8a8a" stroke-width="0.45"/>
<circle cx="133.4" cy="210" r="0.55" fill="none" stroke="#8a8a8a" stroke-width="0.45"/>
<circle cx="136.5" cy="205.7" r="0.55" fill="none" stroke="#8a8a8a" stroke-width="0.45"/>
<circle cx="130.9" cy="207.8" r="0.55" fill="none" stroke="#8a8a8a" stroke-width="0.45"/>
<circle cx="141.5" cy="206.9" r="0.55" fill="none" stroke="#8a8a8a" stroke-width="0.45"/>
<circle cx="107.2" cy="208.1" r="0.55" fill="none" stroke="#8a8a8a" stroke-width="0.45"/>
<circle cx="109.1" cy="207.6" r="0.55" fill="none" stroke="#8a8a8a" stroke-width="0.45"/>
<circle cx="98.6" cy="207.4" r="0.55" fill="none" stroke="#8a8a8a" stroke-width="0.45"/>
<circle cx="123.6" cy="204.8" r="0.55" fill="none" stroke="#8a8a8a" stroke-width="0.45"/>
<circle cx="153.9" cy="206.8" r="0.55" fill="none" stroke="#8a8a8a" stroke-width="0.45"/>
<circle cx="139" cy="210.2" r="0.55" fill="none" stroke="#8a8a8a" stroke-width="0.45"/>
<circle cx="90.6" cy="201.4" r="0.55" fill="none" stroke="#8a8a8a" stroke-width="0.45"/>
<circle cx="118.1" cy="204.8" r="0.55" fill="none" stroke="#8a8a8a" stroke-width="0.45"/>
<circle cx="133.9" cy="202.6" r="0.55" fill="none" stroke="#8a8a8a" stroke-width="0.45"/>
<circle cx="117.3" cy="204" r="0.55" fill="none" stroke="#8a8a8a" stroke-width="0.45"/>
<circle cx="120.8" cy="209.8" r="0.55" fill="none" stroke="#8a8a8a" stroke-width="0.45"/>
<line x1="106.00" y1="205.80" x2="132.50" y2="205.80" stroke="#777" stroke-width="1.0" />
<circle cx="120.7" cy="205.8" r="2.6" fill="#777"/>
<circle cx="137.9" cy="225.6" r="0.55" fill="none" stroke="#f4884a" stroke-width="0.45"/>
<circle cx="125.1" cy="233.2" r="0.55" fill="none" stroke="#f4884a" stroke-width="0.45"/>
<circle cx="136.2" cy="227.6" r="0.55" fill="none" stroke="#f4884a" stroke-width="0.45"/>
<circle cx="130.7" cy="230.4" r="0.55" fill="none" stroke="#f4884a" stroke-width="0.45"/>
<circle cx="134.6" cy="233.2" r="0.55" fill="none" stroke="#f4884a" stroke-width="0.45"/>
<circle cx="130" cy="227.5" r="0.55" fill="none" stroke="#f4884a" stroke-width="0.45"/>
<circle cx="137.9" cy="226" r="0.55" fill="none" stroke="#f4884a" stroke-width="0.45"/>
<circle cx="161.7" cy="230.7" r="0.55" fill="none" stroke="#f4884a" stroke-width="0.45"/>
<circle cx="143.5" cy="227.1" r="0.55" fill="none" stroke="#f4884a" stroke-width="0.45"/>
<circle cx="153.9" cy="228" r="0.55" fill="none" stroke="#f4884a" stroke-width="0.45"/>
<circle cx="151" cy="228.5" r="0.55" fill="none" stroke="#f4884a" stroke-width="0.45"/>
<circle cx="133.6" cy="230.2" r="0.55" fill="none" stroke="#f4884a" stroke-width="0.45"/>
<line x1="131.60" y1="229.10" x2="141.40" y2="229.10" stroke="#f08a4b" stroke-width="1.0" />
<circle cx="136.5" cy="229.1" r="2.6" fill="#f08a4b"/>
<circle cx="117.8" cy="251.5" r="0.55" fill="none" stroke="#8a8a8a" stroke-width="0.45"/>
<circle cx="130.1" cy="250.5" r="0.55" fill="none" stroke="#8a8a8a" stroke-width="0.45"/>
<circle cx="136.1" cy="248.3" r="0.55" fill="none" stroke="#8a8a8a" stroke-width="0.45"/>
<circle cx="159.9" cy="255.3" r="0.55" fill="none" stroke="#8a8a8a" stroke-width="0.45"/>
<circle cx="144.1" cy="248.2" r="0.55" fill="none" stroke="#8a8a8a" stroke-width="0.45"/>
<circle cx="109.2" cy="252.5" r="0.55" fill="none" stroke="#8a8a8a" stroke-width="0.45"/>
<circle cx="142.4" cy="254.3" r="0.55" fill="none" stroke="#8a8a8a" stroke-width="0.45"/>
<circle cx="125.5" cy="250.2" r="0.55" fill="none" stroke="#8a8a8a" stroke-width="0.45"/>
<circle cx="141.1" cy="248.9" r="0.55" fill="none" stroke="#8a8a8a" stroke-width="0.45"/>
<circle cx="120.8" cy="250.8" r="0.55" fill="none" stroke="#8a8a8a" stroke-width="0.45"/>
<circle cx="85.2" cy="251.3" r="0.55" fill="none" stroke="#8a8a8a" stroke-width="0.45"/>
<circle cx="130.1" cy="249.2" r="0.55" fill="none" stroke="#8a8a8a" stroke-width="0.45"/>
<circle cx="128" cy="252.8" r="0.55" fill="none" stroke="#8a8a8a" stroke-width="0.45"/>
<circle cx="89.3" cy="248.4" r="0.55" fill="none" stroke="#8a8a8a" stroke-width="0.45"/>
<circle cx="126.4" cy="253" r="0.55" fill="none" stroke="#8a8a8a" stroke-width="0.45"/>
<circle cx="135.8" cy="250" r="0.55" fill="none" stroke="#8a8a8a" stroke-width="0.45"/>
<circle cx="130.4" cy="256.3" r="0.55" fill="none" stroke="#8a8a8a" stroke-width="0.45"/>
<circle cx="88.8" cy="256" r="0.55" fill="none" stroke="#8a8a8a" stroke-width="0.45"/>
<circle cx="142.1" cy="248.7" r="0.55" fill="none" stroke="#8a8a8a" stroke-width="0.45"/>
<circle cx="122.3" cy="256.1" r="0.55" fill="none" stroke="#8a8a8a" stroke-width="0.45"/>
<circle cx="119.2" cy="249.7" r="0.55" fill="none" stroke="#8a8a8a" stroke-width="0.45"/>
<circle cx="91.1" cy="248.5" r="0.55" fill="none" stroke="#8a8a8a" stroke-width="0.45"/>
<circle cx="129" cy="253.6" r="0.55" fill="none" stroke="#8a8a8a" stroke-width="0.45"/>
<circle cx="98.5" cy="252.2" r="0.55" fill="none" stroke="#8a8a8a" stroke-width="0.45"/>
<circle cx="124.6" cy="250.4" r="0.55" fill="none" stroke="#8a8a8a" stroke-width="0.45"/>
<circle cx="105.1" cy="251.2" r="0.55" fill="none" stroke="#8a8a8a" stroke-width="0.45"/>
<circle cx="112.7" cy="256" r="0.55" fill="none" stroke="#8a8a8a" stroke-width="0.45"/>
<circle cx="142.6" cy="248.6" r="0.55" fill="none" stroke="#8a8a8a" stroke-width="0.45"/>
<circle cx="138.3" cy="254.1" r="0.55" fill="none" stroke="#8a8a8a" stroke-width="0.45"/>
<circle cx="128.2" cy="249.7" r="0.55" fill="none" stroke="#8a8a8a" stroke-width="0.45"/>
<line x1="103.60" y1="252.50" x2="138.90" y2="252.50" stroke="#777" stroke-width="1.0" />
<circle cx="117.8" cy="252.5" r="2.6" fill="#777"/>
<circle cx="116.5" cy="271.6" r="0.55" fill="none" stroke="#8a8a8a" stroke-width="0.45"/>
<circle cx="122.3" cy="275.8" r="0.55" fill="none" stroke="#8a8a8a" stroke-width="0.45"/>
<circle cx="107.9" cy="272.7" r="0.55" fill="none" stroke="#8a8a8a" stroke-width="0.45"/>
<circle cx="97.3" cy="272.2" r="0.55" fill="none" stroke="#8a8a8a" stroke-width="0.45"/>
<circle cx="134" cy="275" r="0.55" fill="none" stroke="#8a8a8a" stroke-width="0.45"/>
<circle cx="109.2" cy="277.5" r="0.55" fill="none" stroke="#8a8a8a" stroke-width="0.45"/>
<circle cx="114.6" cy="272" r="0.55" fill="none" stroke="#8a8a8a" stroke-width="0.45"/>
<circle cx="99" cy="278.7" r="0.55" fill="none" stroke="#8a8a8a" stroke-width="0.45"/>
<circle cx="118.1" cy="274.5" r="0.55" fill="none" stroke="#8a8a8a" stroke-width="0.45"/>
<circle cx="121.3" cy="276.1" r="0.55" fill="none" stroke="#8a8a8a" stroke-width="0.45"/>
<circle cx="110.7" cy="277.7" r="0.55" fill="none" stroke="#8a8a8a" stroke-width="0.45"/>
<circle cx="110.4" cy="275.7" r="0.55" fill="none" stroke="#8a8a8a" stroke-width="0.45"/>
<circle cx="132.5" cy="278.6" r="0.55" fill="none" stroke="#8a8a8a" stroke-width="0.45"/>
<circle cx="142" cy="279.5" r="0.55" fill="none" stroke="#8a8a8a" stroke-width="0.45"/>
<circle cx="112.6" cy="278.3" r="0.55" fill="none" stroke="#8a8a8a" stroke-width="0.45"/>
<circle cx="107.6" cy="279.4" r="0.55" fill="none" stroke="#8a8a8a" stroke-width="0.45"/>
<circle cx="85" cy="280" r="0.55" fill="none" stroke="#8a8a8a" stroke-width="0.45"/>
<circle cx="110.3" cy="274.8" r="0.55" fill="none" stroke="#8a8a8a" stroke-width="0.45"/>
<circle cx="150" cy="278.4" r="0.55" fill="none" stroke="#8a8a8a" stroke-width="0.45"/>
<circle cx="104.5" cy="271.4" r="0.55" fill="none" stroke="#8a8a8a" stroke-width="0.45"/>
<circle cx="104.7" cy="276.8" r="0.55" fill="none" stroke="#8a8a8a" stroke-width="0.45"/>
<circle cx="133.7" cy="278.1" r="0.55" fill="none" stroke="#8a8a8a" stroke-width="0.45"/>
<circle cx="111.7" cy="279.7" r="0.55" fill="none" stroke="#8a8a8a" stroke-width="0.45"/>
<circle cx="110" cy="276.1" r="0.55" fill="none" stroke="#8a8a8a" stroke-width="0.45"/>
<circle cx="124.6" cy="280.3" r="0.55" fill="none" stroke="#8a8a8a" stroke-width="0.45"/>
<circle cx="110.2" cy="276.3" r="0.55" fill="none" stroke="#8a8a8a" stroke-width="0.45"/>
<circle cx="121" cy="279.2" r="0.55" fill="none" stroke="#8a8a8a" stroke-width="0.45"/>
<circle cx="92.8" cy="274.6" r="0.55" fill="none" stroke="#8a8a8a" stroke-width="0.45"/>
<circle cx="130.4" cy="272.9" r="0.55" fill="none" stroke="#8a8a8a" stroke-width="0.45"/>
<circle cx="124.7" cy="276.2" r="0.55" fill="none" stroke="#8a8a8a" stroke-width="0.45"/>
<circle cx="122.7" cy="272.5" r="0.55" fill="none" stroke="#8a8a8a" stroke-width="0.45"/>
<circle cx="104" cy="271.5" r="0.55" fill="none" stroke="#8a8a8a" stroke-width="0.45"/>
<circle cx="99.6" cy="271.5" r="0.55" fill="none" stroke="#8a8a8a" stroke-width="0.45"/>
<circle cx="126.3" cy="277.3" r="0.55" fill="none" stroke="#8a8a8a" stroke-width="0.45"/>
<circle cx="118.8" cy="279.6" r="0.55" fill="none" stroke="#8a8a8a" stroke-width="0.45"/>
<circle cx="124" cy="276" r="0.55" fill="none" stroke="#8a8a8a" stroke-width="0.45"/>
<circle cx="131.3" cy="272.4" r="0.55" fill="none" stroke="#8a8a8a" stroke-width="0.45"/>
<circle cx="106.1" cy="273.5" r="0.55" fill="none" stroke="#8a8a8a" stroke-width="0.45"/>
<circle cx="98" cy="278.2" r="0.55" fill="none" stroke="#8a8a8a" stroke-width="0.45"/>
<circle cx="126.9" cy="278.1" r="0.55" fill="none" stroke="#8a8a8a" stroke-width="0.45"/>
<circle cx="110.4" cy="275.2" r="0.55" fill="none" stroke="#8a8a8a" stroke-width="0.45"/>
<circle cx="107.8" cy="274.7" r="0.55" fill="none" stroke="#8a8a8a" stroke-width="0.45"/>
<circle cx="105.3" cy="276.1" r="0.55" fill="none" stroke="#8a8a8a" stroke-width="0.45"/>
<circle cx="117.9" cy="275.4" r="0.55" fill="none" stroke="#8a8a8a" stroke-width="0.45"/>
<circle cx="144.3" cy="276.6" r="0.55" fill="none" stroke="#8a8a8a" stroke-width="0.45"/>
<circle cx="123.3" cy="278.5" r="0.55" fill="none" stroke="#8a8a8a" stroke-width="0.45"/>
<circle cx="115" cy="280.2" r="0.55" fill="none" stroke="#8a8a8a" stroke-width="0.45"/>
<circle cx="92.9" cy="274.7" r="0.55" fill="none" stroke="#8a8a8a" stroke-width="0.45"/>
<circle cx="116.1" cy="277.3" r="0.55" fill="none" stroke="#8a8a8a" stroke-width="0.45"/>
<circle cx="117.9" cy="276.5" r="0.55" fill="none" stroke="#8a8a8a" stroke-width="0.45"/>
<circle cx="70.8" cy="273.1" r="0.55" fill="none" stroke="#8a8a8a" stroke-width="0.45"/>
<circle cx="93" cy="273.3" r="0.55" fill="none" stroke="#8a8a8a" stroke-width="0.45"/>
<circle cx="114.4" cy="275.6" r="0.55" fill="none" stroke="#8a8a8a" stroke-width="0.45"/>
<circle cx="89.8" cy="271.8" r="0.55" fill="none" stroke="#8a8a8a" stroke-width="0.45"/>
<circle cx="97.8" cy="275.8" r="0.55" fill="none" stroke="#8a8a8a" stroke-width="0.45"/>
<circle cx="137.5" cy="275.5" r="0.55" fill="none" stroke="#8a8a8a" stroke-width="0.45"/>
<circle cx="100.9" cy="276.7" r="0.55" fill="none" stroke="#8a8a8a" stroke-width="0.45"/>
<circle cx="130.6" cy="277.5" r="0.55" fill="none" stroke="#8a8a8a" stroke-width="0.45"/>
<circle cx="133.7" cy="274.7" r="0.55" fill="none" stroke="#8a8a8a" stroke-width="0.45"/>
<circle cx="98.4" cy="273.6" r="0.55" fill="none" stroke="#8a8a8a" stroke-width="0.45"/>
<line x1="100.00" y1="275.80" x2="126.30" y2="275.80" stroke="#777" stroke-width="1.0" />
<circle cx="115.1" cy="275.8" r="2.6" fill="#777"/>
<circle cx="125.1" cy="303.1" r="0.55" fill="none" stroke="#8a8a8a" stroke-width="0.45"/>
<circle cx="93.7" cy="296.5" r="0.55" fill="none" stroke="#8a8a8a" stroke-width="0.45"/>
<circle cx="138" cy="295.4" r="0.55" fill="none" stroke="#8a8a8a" stroke-width="0.45"/>
<circle cx="94" cy="297.5" r="0.55" fill="none" stroke="#8a8a8a" stroke-width="0.45"/>
<circle cx="114.2" cy="302.2" r="0.55" fill="none" stroke="#8a8a8a" stroke-width="0.45"/>
<circle cx="113.5" cy="297.1" r="0.55" fill="none" stroke="#8a8a8a" stroke-width="0.45"/>
<circle cx="114.6" cy="296.7" r="0.55" fill="none" stroke="#8a8a8a" stroke-width="0.45"/>
<circle cx="108.4" cy="296.6" r="0.55" fill="none" stroke="#8a8a8a" stroke-width="0.45"/>
<circle cx="96.1" cy="296.7" r="0.55" fill="none" stroke="#8a8a8a" stroke-width="0.45"/>
<circle cx="120.2" cy="300.9" r="0.55" fill="none" stroke="#8a8a8a" stroke-width="0.45"/>
<circle cx="108.7" cy="298" r="0.55" fill="none" stroke="#8a8a8a" stroke-width="0.45"/>
<circle cx="138.5" cy="296.4" r="0.55" fill="none" stroke="#8a8a8a" stroke-width="0.45"/>
<circle cx="123.1" cy="301" r="0.55" fill="none" stroke="#8a8a8a" stroke-width="0.45"/>
<circle cx="123.8" cy="298.4" r="0.55" fill="none" stroke="#8a8a8a" stroke-width="0.45"/>
<circle cx="141.9" cy="300.6" r="0.55" fill="none" stroke="#8a8a8a" stroke-width="0.45"/>
<circle cx="141.4" cy="294.9" r="0.55" fill="none" stroke="#8a8a8a" stroke-width="0.45"/>
<circle cx="116.6" cy="298.7" r="0.55" fill="none" stroke="#8a8a8a" stroke-width="0.45"/>
<circle cx="99.9" cy="299.2" r="0.55" fill="none" stroke="#8a8a8a" stroke-width="0.45"/>
<circle cx="133.9" cy="300.4" r="0.55" fill="none" stroke="#8a8a8a" stroke-width="0.45"/>
<circle cx="116.4" cy="300.4" r="0.55" fill="none" stroke="#8a8a8a" stroke-width="0.45"/>
<circle cx="110.6" cy="301.5" r="0.55" fill="none" stroke="#8a8a8a" stroke-width="0.45"/>
<circle cx="130.1" cy="300.4" r="0.55" fill="none" stroke="#8a8a8a" stroke-width="0.45"/>
<circle cx="102.4" cy="296.7" r="0.55" fill="none" stroke="#8a8a8a" stroke-width="0.45"/>
<circle cx="124.6" cy="301.8" r="0.55" fill="none" stroke="#8a8a8a" stroke-width="0.45"/>
<circle cx="141.2" cy="298.8" r="0.55" fill="none" stroke="#8a8a8a" stroke-width="0.45"/>
<circle cx="122.5" cy="296.7" r="0.55" fill="none" stroke="#8a8a8a" stroke-width="0.45"/>
<circle cx="102.8" cy="295.5" r="0.55" fill="none" stroke="#8a8a8a" stroke-width="0.45"/>
<circle cx="109.5" cy="299.1" r="0.55" fill="none" stroke="#8a8a8a" stroke-width="0.45"/>
<circle cx="133.5" cy="297.6" r="0.55" fill="none" stroke="#8a8a8a" stroke-width="0.45"/>
<circle cx="142.9" cy="297.7" r="0.55" fill="none" stroke="#8a8a8a" stroke-width="0.45"/>
<circle cx="120.8" cy="296.4" r="0.55" fill="none" stroke="#8a8a8a" stroke-width="0.45"/>
<circle cx="124.4" cy="296.1" r="0.55" fill="none" stroke="#8a8a8a" stroke-width="0.45"/>
<circle cx="99.1" cy="296.7" r="0.55" fill="none" stroke="#8a8a8a" stroke-width="0.45"/>
<circle cx="99.3" cy="295.7" r="0.55" fill="none" stroke="#8a8a8a" stroke-width="0.45"/>
<circle cx="112.5" cy="298.3" r="0.55" fill="none" stroke="#8a8a8a" stroke-width="0.45"/>
<circle cx="118.2" cy="301.5" r="0.55" fill="none" stroke="#8a8a8a" stroke-width="0.45"/>
<circle cx="126.5" cy="299.5" r="0.55" fill="none" stroke="#8a8a8a" stroke-width="0.45"/>
<circle cx="142.1" cy="295.5" r="0.55" fill="none" stroke="#8a8a8a" stroke-width="0.45"/>
<circle cx="120.8" cy="295.6" r="0.55" fill="none" stroke="#8a8a8a" stroke-width="0.45"/>
<circle cx="140.1" cy="296.5" r="0.55" fill="none" stroke="#8a8a8a" stroke-width="0.45"/>
<circle cx="95.3" cy="299.4" r="0.55" fill="none" stroke="#8a8a8a" stroke-width="0.45"/>
<circle cx="107" cy="300.7" r="0.55" fill="none" stroke="#8a8a8a" stroke-width="0.45"/>
<circle cx="132.5" cy="297.6" r="0.55" fill="none" stroke="#8a8a8a" stroke-width="0.45"/>
<circle cx="120.5" cy="302.9" r="0.55" fill="none" stroke="#8a8a8a" stroke-width="0.45"/>
<circle cx="103.4" cy="295" r="0.55" fill="none" stroke="#8a8a8a" stroke-width="0.45"/>
<circle cx="140.3" cy="299.2" r="0.55" fill="none" stroke="#8a8a8a" stroke-width="0.45"/>
<circle cx="139.8" cy="299.9" r="0.55" fill="none" stroke="#8a8a8a" stroke-width="0.45"/>
<circle cx="103.6" cy="296.3" r="0.55" fill="none" stroke="#8a8a8a" stroke-width="0.45"/>
<circle cx="125.3" cy="303.4" r="0.55" fill="none" stroke="#8a8a8a" stroke-width="0.45"/>
<circle cx="117.1" cy="301.7" r="0.55" fill="none" stroke="#8a8a8a" stroke-width="0.45"/>
<circle cx="116.3" cy="296.2" r="0.55" fill="none" stroke="#8a8a8a" stroke-width="0.45"/>
<circle cx="101.7" cy="297.8" r="0.55" fill="none" stroke="#8a8a8a" stroke-width="0.45"/>
<circle cx="108.5" cy="298.2" r="0.55" fill="none" stroke="#8a8a8a" stroke-width="0.45"/>
<circle cx="101" cy="301.9" r="0.55" fill="none" stroke="#8a8a8a" stroke-width="0.45"/>
<circle cx="131.5" cy="295.5" r="0.55" fill="none" stroke="#8a8a8a" stroke-width="0.45"/>
<circle cx="123.9" cy="297.6" r="0.55" fill="none" stroke="#8a8a8a" stroke-width="0.45"/>
<circle cx="126.5" cy="296" r="0.55" fill="none" stroke="#8a8a8a" stroke-width="0.45"/>
<circle cx="95.6" cy="297.5" r="0.55" fill="none" stroke="#8a8a8a" stroke-width="0.45"/>
<circle cx="136.6" cy="298.7" r="0.55" fill="none" stroke="#8a8a8a" stroke-width="0.45"/>
<circle cx="134.1" cy="296.8" r="0.55" fill="none" stroke="#8a8a8a" stroke-width="0.45"/>
<line x1="104.40" y1="299.20" x2="138.90" y2="299.20" stroke="#777" stroke-width="1.0" />
<circle cx="117.8" cy="299.2" r="2.6" fill="#777"/>
<text x="176.60" y="198.15" font-size="8.2" text-anchor="middle" ><tspan font-style="italic">p</tspan></text>
<rect x="173.10" y="206.10" width="1.70" height="21.50" fill="#999" />
<rect x="173.10" y="230.60" width="5.70" height="22.10" fill="#999" />
<rect x="173.10" y="252.70" width="3.70" height="22.80" fill="#999" />
<rect x="173.10" y="275.50" width="1.70" height="22.50" fill="#999" />
<text x="177.20" y="208.12" font-size="7.0" >**</text>
<text x="178.80" y="277.52" font-size="7.0" >**</text>
<text x="179.90" y="249.41" font-size="7.8" transform="rotate(44 179.90 246.60)" >0.09</text>
<text x="175.80" y="295.81" font-size="7.8" transform="rotate(40 175.80 293.00)" >0.07</text>
<text x="203.10" y="197.68" font-size="8.0" text-anchor="middle" >Gene #</text>
<text x="210.90" y="208.46" font-size="7.4" text-anchor="end" >42×3</text>
<text x="210.90" y="231.76" font-size="7.4" text-anchor="end" >4×3</text>
<text x="210.90" y="255.16" font-size="7.4" text-anchor="end" >10×3</text>
<text x="210.90" y="278.46" font-size="7.4" text-anchor="end" >20×3</text>
<text x="210.90" y="301.86" font-size="7.4" text-anchor="end" >20×3</text>
<text x="222.50" y="186.50" font-size="12.5" font-weight="bold" >e</text>
<text x="227.00" y="208.88" font-size="8.0" text-anchor="middle" >I</text>
<text x="227.00" y="232.18" font-size="8.0" text-anchor="middle" >II</text>
<text x="227.00" y="255.78" font-size="8.0" text-anchor="middle" >III</text>
<text x="227.00" y="278.68" font-size="8.0" text-anchor="middle" >IV</text>
<text x="227.00" y="301.78" font-size="8.0" text-anchor="middle" >V</text>
<line x1="227.80" y1="310.10" x2="343.00" y2="310.10" stroke="#231f20" stroke-width="0.8" />
<line x1="241.80" y1="310.10" x2="241.80" y2="312.60" stroke="#231f20" stroke-width="0.7" />
<text x="241.80" y="323.35" font-size="8.2" text-anchor="middle" >0</text>
<line x1="270.55" y1="310.10" x2="270.55" y2="312.60" stroke="#231f20" stroke-width="0.7" />
<text x="270.55" y="323.35" font-size="8.2" text-anchor="middle" >1</text>
<line x1="299.30" y1="310.10" x2="299.30" y2="312.60" stroke="#231f20" stroke-width="0.7" />
<text x="299.30" y="323.35" font-size="8.2" text-anchor="middle" >2</text>
<line x1="328.05" y1="310.10" x2="328.05" y2="312.60" stroke="#231f20" stroke-width="0.7" />
<text x="328.05" y="323.35" font-size="8.2" text-anchor="middle" >3</text>
<text x="285.30" y="333.82" font-size="9.5" text-anchor="middle" >Protein log<tspan font-size="6.4" dy="2.4">2</tspan><tspan dy="-2.4">FC</tspan></text>
<text x="285.30" y="344.62" font-size="9.5" text-anchor="middle" >8d vs 0d</text>
<circle cx="270.8" cy="209.1" r="0.55" fill="none" stroke="#8a8a8a" stroke-width="0.45"/>
<circle cx="277.6" cy="204.2" r="0.55" fill="none" stroke="#8a8a8a" stroke-width="0.45"/>
<circle cx="271.4" cy="209.9" r="0.55" fill="none" stroke="#8a8a8a" stroke-width="0.45"/>
<circle cx="266.4" cy="203.4" r="0.55" fill="none" stroke="#8a8a8a" stroke-width="0.45"/>
<circle cx="275.6" cy="206.2" r="0.55" fill="none" stroke="#8a8a8a" stroke-width="0.45"/>
<circle cx="272.3" cy="210.4" r="0.55" fill="none" stroke="#8a8a8a" stroke-width="0.45"/>
<circle cx="272.9" cy="210.2" r="0.55" fill="none" stroke="#8a8a8a" stroke-width="0.45"/>
<circle cx="281.7" cy="207.4" r="0.55" fill="none" stroke="#8a8a8a" stroke-width="0.45"/>
<circle cx="280.9" cy="206.2" r="0.55" fill="none" stroke="#8a8a8a" stroke-width="0.45"/>
<circle cx="291.8" cy="202.2" r="0.55" fill="none" stroke="#8a8a8a" stroke-width="0.45"/>
<circle cx="270.9" cy="205.5" r="0.55" fill="none" stroke="#8a8a8a" stroke-width="0.45"/>
<circle cx="273.4" cy="209.3" r="0.55" fill="none" stroke="#8a8a8a" stroke-width="0.45"/>
<circle cx="295.1" cy="207.8" r="0.55" fill="none" stroke="#8a8a8a" stroke-width="0.45"/>
<circle cx="278" cy="202.8" r="0.55" fill="none" stroke="#8a8a8a" stroke-width="0.45"/>
<circle cx="309.9" cy="204.3" r="0.55" fill="none" stroke="#8a8a8a" stroke-width="0.45"/>
<circle cx="293.2" cy="203.6" r="0.55" fill="none" stroke="#8a8a8a" stroke-width="0.45"/>
<circle cx="296.9" cy="202.8" r="0.55" fill="none" stroke="#8a8a8a" stroke-width="0.45"/>
<circle cx="273.5" cy="204.6" r="0.55" fill="none" stroke="#8a8a8a" stroke-width="0.45"/>
<circle cx="284" cy="201.8" r="0.55" fill="none" stroke="#8a8a8a" stroke-width="0.45"/>
<circle cx="291.6" cy="206.4" r="0.55" fill="none" stroke="#8a8a8a" stroke-width="0.45"/>
<circle cx="280.2" cy="203.4" r="0.55" fill="none" stroke="#8a8a8a" stroke-width="0.45"/>
<circle cx="293" cy="202.7" r="0.55" fill="none" stroke="#8a8a8a" stroke-width="0.45"/>
<circle cx="303.5" cy="208.4" r="0.55" fill="none" stroke="#8a8a8a" stroke-width="0.45"/>
<circle cx="287.8" cy="206.7" r="0.55" fill="none" stroke="#8a8a8a" stroke-width="0.45"/>
<circle cx="287.6" cy="202.8" r="0.55" fill="none" stroke="#8a8a8a" stroke-width="0.45"/>
<circle cx="287.6" cy="204.5" r="0.55" fill="none" stroke="#8a8a8a" stroke-width="0.45"/>
<circle cx="291.1" cy="203.5" r="0.55" fill="none" stroke="#8a8a8a" stroke-width="0.45"/>
<circle cx="286.4" cy="203.4" r="0.55" fill="none" stroke="#8a8a8a" stroke-width="0.45"/>
<circle cx="277.3" cy="206" r="0.55" fill="none" stroke="#8a8a8a" stroke-width="0.45"/>
<circle cx="274.5" cy="204.9" r="0.55" fill="none" stroke="#8a8a8a" stroke-width="0.45"/>
<circle cx="266.6" cy="204.5" r="0.55" fill="none" stroke="#8a8a8a" stroke-width="0.45"/>
<circle cx="279.3" cy="202.3" r="0.55" fill="none" stroke="#8a8a8a" stroke-width="0.45"/>
<circle cx="273.9" cy="208.7" r="0.55" fill="none" stroke="#8a8a8a" stroke-width="0.45"/>
<circle cx="284.8" cy="202.7" r="0.55" fill="none" stroke="#8a8a8a" stroke-width="0.45"/>
<circle cx="284.8" cy="206.6" r="0.55" fill="none" stroke="#8a8a8a" stroke-width="0.45"/>
<circle cx="282.4" cy="205.7" r="0.55" fill="none" stroke="#8a8a8a" stroke-width="0.45"/>
<circle cx="275.2" cy="208" r="0.55" fill="none" stroke="#8a8a8a" stroke-width="0.45"/>
<circle cx="302.8" cy="203.2" r="0.55" fill="none" stroke="#8a8a8a" stroke-width="0.45"/>
<circle cx="269.8" cy="202" r="0.55" fill="none" stroke="#8a8a8a" stroke-width="0.45"/>
<circle cx="284" cy="202.5" r="0.55" fill="none" stroke="#8a8a8a" stroke-width="0.45"/>
<circle cx="270.6" cy="205.9" r="0.55" fill="none" stroke="#8a8a8a" stroke-width="0.45"/>
<circle cx="274" cy="205.5" r="0.55" fill="none" stroke="#8a8a8a" stroke-width="0.45"/>
<circle cx="275.8" cy="209.6" r="0.55" fill="none" stroke="#8a8a8a" stroke-width="0.45"/>
<circle cx="283.3" cy="210.4" r="0.55" fill="none" stroke="#8a8a8a" stroke-width="0.45"/>
<circle cx="281.6" cy="205.3" r="0.55" fill="none" stroke="#8a8a8a" stroke-width="0.45"/>
<circle cx="283.8" cy="208.9" r="0.55" fill="none" stroke="#8a8a8a" stroke-width="0.45"/>
<circle cx="281.5" cy="203.4" r="0.55" fill="none" stroke="#8a8a8a" stroke-width="0.45"/>
<circle cx="287.8" cy="208.1" r="0.55" fill="none" stroke="#8a8a8a" stroke-width="0.45"/>
<circle cx="277.7" cy="207.3" r="0.55" fill="none" stroke="#8a8a8a" stroke-width="0.45"/>
<circle cx="277.9" cy="208.5" r="0.55" fill="none" stroke="#8a8a8a" stroke-width="0.45"/>
<circle cx="302" cy="205.6" r="0.55" fill="none" stroke="#8a8a8a" stroke-width="0.45"/>
<circle cx="279.6" cy="209" r="0.55" fill="none" stroke="#8a8a8a" stroke-width="0.45"/>
<circle cx="301.6" cy="208.5" r="0.55" fill="none" stroke="#8a8a8a" stroke-width="0.45"/>
<circle cx="274.5" cy="207" r="0.55" fill="none" stroke="#8a8a8a" stroke-width="0.45"/>
<circle cx="264.2" cy="207.3" r="0.55" fill="none" stroke="#8a8a8a" stroke-width="0.45"/>
<circle cx="282.2" cy="208.2" r="0.55" fill="none" stroke="#8a8a8a" stroke-width="0.45"/>
<circle cx="284.2" cy="204.1" r="0.55" fill="none" stroke="#8a8a8a" stroke-width="0.45"/>
<circle cx="288" cy="207" r="0.55" fill="none" stroke="#8a8a8a" stroke-width="0.45"/>
<circle cx="277.6" cy="203.4" r="0.55" fill="none" stroke="#8a8a8a" stroke-width="0.45"/>
<circle cx="280.7" cy="210.3" r="0.55" fill="none" stroke="#8a8a8a" stroke-width="0.45"/>
<circle cx="304.2" cy="208.6" r="0.55" fill="none" stroke="#8a8a8a" stroke-width="0.45"/>
<circle cx="293.5" cy="206.9" r="0.55" fill="none" stroke="#8a8a8a" stroke-width="0.45"/>
<circle cx="298.7" cy="201.8" r="0.55" fill="none" stroke="#8a8a8a" stroke-width="0.45"/>
<circle cx="283.2" cy="210.2" r="0.55" fill="none" stroke="#8a8a8a" stroke-width="0.45"/>
<circle cx="264.5" cy="209" r="0.55" fill="none" stroke="#8a8a8a" stroke-width="0.45"/>
<circle cx="295.1" cy="202.9" r="0.55" fill="none" stroke="#8a8a8a" stroke-width="0.45"/>
<circle cx="285.6" cy="208.7" r="0.55" fill="none" stroke="#8a8a8a" stroke-width="0.45"/>
<circle cx="284.1" cy="208.8" r="0.55" fill="none" stroke="#8a8a8a" stroke-width="0.45"/>
<circle cx="284.3" cy="205" r="0.55" fill="none" stroke="#8a8a8a" stroke-width="0.45"/>
<circle cx="288.4" cy="208.9" r="0.55" fill="none" stroke="#8a8a8a" stroke-width="0.45"/>
<circle cx="282.4" cy="210.4" r="0.55" fill="none" stroke="#8a8a8a" stroke-width="0.45"/>
<circle cx="263.5" cy="208.5" r="0.55" fill="none" stroke="#8a8a8a" stroke-width="0.45"/>
<circle cx="284.5" cy="201.8" r="0.55" fill="none" stroke="#8a8a8a" stroke-width="0.45"/>
<circle cx="282" cy="209.5" r="0.55" fill="none" stroke="#8a8a8a" stroke-width="0.45"/>
<circle cx="277.1" cy="202.9" r="0.55" fill="none" stroke="#8a8a8a" stroke-width="0.45"/>
<circle cx="277.6" cy="204.7" r="0.55" fill="none" stroke="#8a8a8a" stroke-width="0.45"/>
<circle cx="277.4" cy="205.7" r="0.55" fill="none" stroke="#8a8a8a" stroke-width="0.45"/>
<circle cx="293.5" cy="203.5" r="0.55" fill="none" stroke="#8a8a8a" stroke-width="0.45"/>
<circle cx="289.5" cy="202.9" r="0.55" fill="none" stroke="#8a8a8a" stroke-width="0.45"/>
<circle cx="286.9" cy="202.6" r="0.55" fill="none" stroke="#8a8a8a" stroke-width="0.45"/>
<circle cx="279.1" cy="208.9" r="0.55" fill="none" stroke="#8a8a8a" stroke-width="0.45"/>
<circle cx="286.3" cy="206.6" r="0.55" fill="none" stroke="#8a8a8a" stroke-width="0.45"/>
<circle cx="269.8" cy="203.8" r="0.55" fill="none" stroke="#8a8a8a" stroke-width="0.45"/>
<circle cx="287.1" cy="201.9" r="0.55" fill="none" stroke="#8a8a8a" stroke-width="0.45"/>
<circle cx="291.6" cy="205" r="0.55" fill="none" stroke="#8a8a8a" stroke-width="0.45"/>
<circle cx="287.9" cy="204" r="0.55" fill="none" stroke="#8a8a8a" stroke-width="0.45"/>
<circle cx="277" cy="201.8" r="0.55" fill="none" stroke="#8a8a8a" stroke-width="0.45"/>
<circle cx="301.4" cy="205.7" r="0.55" fill="none" stroke="#8a8a8a" stroke-width="0.45"/>
<circle cx="277.6" cy="208.2" r="0.55" fill="none" stroke="#8a8a8a" stroke-width="0.45"/>
<circle cx="289.1" cy="203.7" r="0.55" fill="none" stroke="#8a8a8a" stroke-width="0.45"/>
<circle cx="289.3" cy="210.5" r="0.55" fill="none" stroke="#8a8a8a" stroke-width="0.45"/>
<circle cx="285.1" cy="204.8" r="0.55" fill="none" stroke="#8a8a8a" stroke-width="0.45"/>
<circle cx="303.3" cy="207.5" r="0.55" fill="none" stroke="#8a8a8a" stroke-width="0.45"/>
<circle cx="301.4" cy="210.3" r="0.55" fill="none" stroke="#8a8a8a" stroke-width="0.45"/>
<circle cx="274.7" cy="202.1" r="0.55" fill="none" stroke="#8a8a8a" stroke-width="0.45"/>
<circle cx="299.5" cy="203.8" r="0.55" fill="none" stroke="#8a8a8a" stroke-width="0.45"/>
<circle cx="286.9" cy="208.8" r="0.55" fill="none" stroke="#8a8a8a" stroke-width="0.45"/>
<circle cx="272" cy="205.2" r="0.55" fill="none" stroke="#8a8a8a" stroke-width="0.45"/>
<circle cx="286.5" cy="207.3" r="0.55" fill="none" stroke="#8a8a8a" stroke-width="0.45"/>
<circle cx="280.8" cy="203.4" r="0.55" fill="none" stroke="#8a8a8a" stroke-width="0.45"/>
<circle cx="290.1" cy="205.6" r="0.55" fill="none" stroke="#8a8a8a" stroke-width="0.45"/>
<circle cx="303.3" cy="209" r="0.55" fill="none" stroke="#8a8a8a" stroke-width="0.45"/>
<line x1="277.20" y1="206.20" x2="291.60" y2="206.20" stroke="#777" stroke-width="1.0" />
<circle cx="283.6" cy="206.2" r="2.6" fill="#777"/>
<circle cx="302.8" cy="232.9" r="0.55" fill="none" stroke="#f4884a" stroke-width="0.45"/>
<circle cx="299.1" cy="230.7" r="0.55" fill="none" stroke="#f4884a" stroke-width="0.45"/>
<circle cx="298.8" cy="233.3" r="0.55" fill="none" stroke="#f4884a" stroke-width="0.45"/>
<circle cx="317.8" cy="228.3" r="0.55" fill="none" stroke="#f4884a" stroke-width="0.45"/>
<circle cx="287.7" cy="225.6" r="0.55" fill="none" stroke="#f4884a" stroke-width="0.45"/>
<circle cx="311.8" cy="226.7" r="0.55" fill="none" stroke="#f4884a" stroke-width="0.45"/>
<circle cx="297.5" cy="225" r="0.55" fill="none" stroke="#f4884a" stroke-width="0.45"/>
<circle cx="321.4" cy="229" r="0.55" fill="none" stroke="#f4884a" stroke-width="0.45"/>
<circle cx="328.9" cy="226.3" r="0.55" fill="none" stroke="#f4884a" stroke-width="0.45"/>
<circle cx="277.3" cy="225.6" r="0.55" fill="none" stroke="#f4884a" stroke-width="0.45"/>
<circle cx="327.2" cy="225.9" r="0.55" fill="none" stroke="#f4884a" stroke-width="0.45"/>
<line x1="288.50" y1="229.20" x2="322.20" y2="229.20" stroke="#f08a4b" stroke-width="1.0" />
<circle cx="310.3" cy="229.2" r="2.6" fill="#f08a4b"/>
<circle cx="272.3" cy="256.1" r="0.55" fill="none" stroke="#8a8a8a" stroke-width="0.45"/>
<circle cx="298.1" cy="252.9" r="0.55" fill="none" stroke="#8a8a8a" stroke-width="0.45"/>
<circle cx="326.2" cy="256.7" r="0.55" fill="none" stroke="#8a8a8a" stroke-width="0.45"/>
<circle cx="317.8" cy="255.9" r="0.55" fill="none" stroke="#8a8a8a" stroke-width="0.45"/>
<circle cx="288.8" cy="253.1" r="0.55" fill="none" stroke="#8a8a8a" stroke-width="0.45"/>
<circle cx="299.6" cy="254.9" r="0.55" fill="none" stroke="#8a8a8a" stroke-width="0.45"/>
<circle cx="318.6" cy="252.4" r="0.55" fill="none" stroke="#8a8a8a" stroke-width="0.45"/>
<circle cx="301.7" cy="250.6" r="0.55" fill="none" stroke="#8a8a8a" stroke-width="0.45"/>
<circle cx="285.3" cy="250.3" r="0.55" fill="none" stroke="#8a8a8a" stroke-width="0.45"/>
<circle cx="297.9" cy="251.9" r="0.55" fill="none" stroke="#8a8a8a" stroke-width="0.45"/>
<circle cx="311.2" cy="250.1" r="0.55" fill="none" stroke="#8a8a8a" stroke-width="0.45"/>
<circle cx="297.1" cy="250.5" r="0.55" fill="none" stroke="#8a8a8a" stroke-width="0.45"/>
<circle cx="309.8" cy="255.2" r="0.55" fill="none" stroke="#8a8a8a" stroke-width="0.45"/>
<circle cx="293.1" cy="256.2" r="0.55" fill="none" stroke="#8a8a8a" stroke-width="0.45"/>
<circle cx="320.3" cy="249.6" r="0.55" fill="none" stroke="#8a8a8a" stroke-width="0.45"/>
<circle cx="284.5" cy="251.9" r="0.55" fill="none" stroke="#8a8a8a" stroke-width="0.45"/>
<circle cx="307" cy="253.2" r="0.55" fill="none" stroke="#8a8a8a" stroke-width="0.45"/>
<circle cx="292.9" cy="255.6" r="0.55" fill="none" stroke="#8a8a8a" stroke-width="0.45"/>
<circle cx="314.2" cy="248.9" r="0.55" fill="none" stroke="#8a8a8a" stroke-width="0.45"/>
<circle cx="297" cy="248.1" r="0.55" fill="none" stroke="#8a8a8a" stroke-width="0.45"/>
<circle cx="295.1" cy="250.3" r="0.55" fill="none" stroke="#8a8a8a" stroke-width="0.45"/>
<circle cx="318.4" cy="255.2" r="0.55" fill="none" stroke="#8a8a8a" stroke-width="0.45"/>
<circle cx="290.8" cy="255.2" r="0.55" fill="none" stroke="#8a8a8a" stroke-width="0.45"/>
<circle cx="286.5" cy="250.8" r="0.55" fill="none" stroke="#8a8a8a" stroke-width="0.45"/>
<circle cx="294.6" cy="250.4" r="0.55" fill="none" stroke="#8a8a8a" stroke-width="0.45"/>
<circle cx="291.8" cy="248.8" r="0.55" fill="none" stroke="#8a8a8a" stroke-width="0.45"/>
<circle cx="309.5" cy="248.1" r="0.55" fill="none" stroke="#8a8a8a" stroke-width="0.45"/>
<line x1="296.50" y1="252.30" x2="312.50" y2="252.30" stroke="#777" stroke-width="1.0" />
<circle cx="302.3" cy="252.3" r="2.6" fill="#777"/>
<circle cx="234.8" cy="277.6" r="0.55" fill="none" stroke="#8a8a8a" stroke-width="0.45"/>
<circle cx="283.6" cy="274" r="0.55" fill="none" stroke="#8a8a8a" stroke-width="0.45"/>
<circle cx="274.6" cy="279.3" r="0.55" fill="none" stroke="#8a8a8a" stroke-width="0.45"/>
<circle cx="250.7" cy="274.4" r="0.55" fill="none" stroke="#8a8a8a" stroke-width="0.45"/>
<circle cx="276" cy="273.5" r="0.55" fill="none" stroke="#8a8a8a" stroke-width="0.45"/>
<circle cx="268.4" cy="271.3" r="0.55" fill="none" stroke="#8a8a8a" stroke-width="0.45"/>
<circle cx="273.9" cy="276.2" r="0.55" fill="none" stroke="#8a8a8a" stroke-width="0.45"/>
<circle cx="266.5" cy="273.5" r="0.55" fill="none" stroke="#8a8a8a" stroke-width="0.45"/>
<circle cx="244.4" cy="280.1" r="0.55" fill="none" stroke="#8a8a8a" stroke-width="0.45"/>
<circle cx="283.2" cy="274.2" r="0.55" fill="none" stroke="#8a8a8a" stroke-width="0.45"/>
<circle cx="276.3" cy="272.8" r="0.55" fill="none" stroke="#8a8a8a" stroke-width="0.45"/>
<circle cx="292.8" cy="272.4" r="0.55" fill="none" stroke="#8a8a8a" stroke-width="0.45"/>
<circle cx="262.1" cy="272.8" r="0.55" fill="none" stroke="#8a8a8a" stroke-width="0.45"/>
<circle cx="273.9" cy="273.9" r="0.55" fill="none" stroke="#8a8a8a" stroke-width="0.45"/>
<circle cx="253.8" cy="273.9" r="0.55" fill="none" stroke="#8a8a8a" stroke-width="0.45"/>
<circle cx="258.5" cy="274" r="0.55" fill="none" stroke="#8a8a8a" stroke-width="0.45"/>
<circle cx="287.2" cy="276.5" r="0.55" fill="none" stroke="#8a8a8a" stroke-width="0.45"/>
<circle cx="286.5" cy="276.5" r="0.55" fill="none" stroke="#8a8a8a" stroke-width="0.45"/>
<circle cx="275.9" cy="274.1" r="0.55" fill="none" stroke="#8a8a8a" stroke-width="0.45"/>
<circle cx="292.9" cy="277.1" r="0.55" fill="none" stroke="#8a8a8a" stroke-width="0.45"/>
<circle cx="241" cy="274.9" r="0.55" fill="none" stroke="#8a8a8a" stroke-width="0.45"/>
<circle cx="279.5" cy="273.8" r="0.55" fill="none" stroke="#8a8a8a" stroke-width="0.45"/>
<circle cx="287.6" cy="272.7" r="0.55" fill="none" stroke="#8a8a8a" stroke-width="0.45"/>
<circle cx="257.7" cy="277" r="0.55" fill="none" stroke="#8a8a8a" stroke-width="0.45"/>
<circle cx="266" cy="278" r="0.55" fill="none" stroke="#8a8a8a" stroke-width="0.45"/>
<circle cx="290.8" cy="272.9" r="0.55" fill="none" stroke="#8a8a8a" stroke-width="0.45"/>
<circle cx="269.9" cy="274.2" r="0.55" fill="none" stroke="#8a8a8a" stroke-width="0.45"/>
<circle cx="261.2" cy="274" r="0.55" fill="none" stroke="#8a8a8a" stroke-width="0.45"/>
<circle cx="268.6" cy="279.7" r="0.55" fill="none" stroke="#8a8a8a" stroke-width="0.45"/>
<circle cx="253.4" cy="272.8" r="0.55" fill="none" stroke="#8a8a8a" stroke-width="0.45"/>
<circle cx="264.8" cy="276.2" r="0.55" fill="none" stroke="#8a8a8a" stroke-width="0.45"/>
<circle cx="262.5" cy="277.9" r="0.55" fill="none" stroke="#8a8a8a" stroke-width="0.45"/>
<circle cx="291.5" cy="276.1" r="0.55" fill="none" stroke="#8a8a8a" stroke-width="0.45"/>
<circle cx="254.1" cy="274.8" r="0.55" fill="none" stroke="#8a8a8a" stroke-width="0.45"/>
<circle cx="252.4" cy="276.7" r="0.55" fill="none" stroke="#8a8a8a" stroke-width="0.45"/>
<circle cx="251.3" cy="277.6" r="0.55" fill="none" stroke="#8a8a8a" stroke-width="0.45"/>
<circle cx="267.1" cy="276.8" r="0.55" fill="none" stroke="#8a8a8a" stroke-width="0.45"/>
<circle cx="230.6" cy="279.1" r="0.55" fill="none" stroke="#8a8a8a" stroke-width="0.45"/>
<line x1="262.80" y1="275.70" x2="282.00" y2="275.70" stroke="#777" stroke-width="1.0" />
<circle cx="268.2" cy="275.7" r="2.6" fill="#777"/>
<circle cx="291.9" cy="301.6" r="0.55" fill="none" stroke="#8a8a8a" stroke-width="0.45"/>
<circle cx="283.6" cy="297.7" r="0.55" fill="none" stroke="#8a8a8a" stroke-width="0.45"/>
<circle cx="301.2" cy="302.5" r="0.55" fill="none" stroke="#8a8a8a" stroke-width="0.45"/>
<circle cx="276.1" cy="302.6" r="0.55" fill="none" stroke="#8a8a8a" stroke-width="0.45"/>
<circle cx="288.7" cy="297" r="0.55" fill="none" stroke="#8a8a8a" stroke-width="0.45"/>
<circle cx="282.5" cy="300.2" r="0.55" fill="none" stroke="#8a8a8a" stroke-width="0.45"/>
<circle cx="299" cy="296.3" r="0.55" fill="none" stroke="#8a8a8a" stroke-width="0.45"/>
<circle cx="287.1" cy="301.2" r="0.55" fill="none" stroke="#8a8a8a" stroke-width="0.45"/>
<circle cx="297.6" cy="295.7" r="0.55" fill="none" stroke="#8a8a8a" stroke-width="0.45"/>
<circle cx="289.1" cy="295.4" r="0.55" fill="none" stroke="#8a8a8a" stroke-width="0.45"/>
<circle cx="276.3" cy="296.6" r="0.55" fill="none" stroke="#8a8a8a" stroke-width="0.45"/>
<circle cx="287" cy="301.5" r="0.55" fill="none" stroke="#8a8a8a" stroke-width="0.45"/>
<circle cx="298.3" cy="299.3" r="0.55" fill="none" stroke="#8a8a8a" stroke-width="0.45"/>
<circle cx="294.2" cy="301.2" r="0.55" fill="none" stroke="#8a8a8a" stroke-width="0.45"/>
<circle cx="278.7" cy="297.6" r="0.55" fill="none" stroke="#8a8a8a" stroke-width="0.45"/>
<circle cx="292.9" cy="297.8" r="0.55" fill="none" stroke="#8a8a8a" stroke-width="0.45"/>
<circle cx="291.8" cy="296.2" r="0.55" fill="none" stroke="#8a8a8a" stroke-width="0.45"/>
<circle cx="292.3" cy="297.6" r="0.55" fill="none" stroke="#8a8a8a" stroke-width="0.45"/>
<circle cx="289.1" cy="296.6" r="0.55" fill="none" stroke="#8a8a8a" stroke-width="0.45"/>
<circle cx="287.4" cy="303.3" r="0.55" fill="none" stroke="#8a8a8a" stroke-width="0.45"/>
<circle cx="287" cy="301.4" r="0.55" fill="none" stroke="#8a8a8a" stroke-width="0.45"/>
<circle cx="284.9" cy="300.8" r="0.55" fill="none" stroke="#8a8a8a" stroke-width="0.45"/>
<circle cx="297.1" cy="299.9" r="0.55" fill="none" stroke="#8a8a8a" stroke-width="0.45"/>
<circle cx="281.9" cy="295.3" r="0.55" fill="none" stroke="#8a8a8a" stroke-width="0.45"/>
<circle cx="284.3" cy="296.7" r="0.55" fill="none" stroke="#8a8a8a" stroke-width="0.45"/>
<circle cx="296.3" cy="297.7" r="0.55" fill="none" stroke="#8a8a8a" stroke-width="0.45"/>
<circle cx="297.2" cy="295.4" r="0.55" fill="none" stroke="#8a8a8a" stroke-width="0.45"/>
<circle cx="288.2" cy="297.4" r="0.55" fill="none" stroke="#8a8a8a" stroke-width="0.45"/>
<circle cx="293.4" cy="302.6" r="0.55" fill="none" stroke="#8a8a8a" stroke-width="0.45"/>
<circle cx="294.1" cy="299.3" r="0.55" fill="none" stroke="#8a8a8a" stroke-width="0.45"/>
<circle cx="303.3" cy="296" r="0.55" fill="none" stroke="#8a8a8a" stroke-width="0.45"/>
<circle cx="294.2" cy="298.7" r="0.55" fill="none" stroke="#8a8a8a" stroke-width="0.45"/>
<circle cx="315.8" cy="298" r="0.55" fill="none" stroke="#8a8a8a" stroke-width="0.45"/>
<circle cx="284" cy="301.4" r="0.55" fill="none" stroke="#8a8a8a" stroke-width="0.45"/>
<circle cx="288.7" cy="298" r="0.55" fill="none" stroke="#8a8a8a" stroke-width="0.45"/>
<circle cx="292.6" cy="301.7" r="0.55" fill="none" stroke="#8a8a8a" stroke-width="0.45"/>
<circle cx="294.9" cy="303.3" r="0.55" fill="none" stroke="#8a8a8a" stroke-width="0.45"/>
<circle cx="278.2" cy="297.8" r="0.55" fill="none" stroke="#8a8a8a" stroke-width="0.45"/>
<circle cx="287.5" cy="302.7" r="0.55" fill="none" stroke="#8a8a8a" stroke-width="0.45"/>
<circle cx="276.5" cy="302.2" r="0.55" fill="none" stroke="#8a8a8a" stroke-width="0.45"/>
<circle cx="298.1" cy="297.8" r="0.55" fill="none" stroke="#8a8a8a" stroke-width="0.45"/>
<circle cx="286.5" cy="300" r="0.55" fill="none" stroke="#8a8a8a" stroke-width="0.45"/>
<circle cx="298" cy="297.7" r="0.55" fill="none" stroke="#8a8a8a" stroke-width="0.45"/>
<circle cx="297.7" cy="296.3" r="0.55" fill="none" stroke="#8a8a8a" stroke-width="0.45"/>
<circle cx="297.6" cy="297.2" r="0.55" fill="none" stroke="#8a8a8a" stroke-width="0.45"/>
<circle cx="304.4" cy="294.9" r="0.55" fill="none" stroke="#8a8a8a" stroke-width="0.45"/>
<circle cx="298.9" cy="296.4" r="0.55" fill="none" stroke="#8a8a8a" stroke-width="0.45"/>
<circle cx="271.6" cy="300.6" r="0.55" fill="none" stroke="#8a8a8a" stroke-width="0.45"/>
<circle cx="297.9" cy="295.9" r="0.55" fill="none" stroke="#8a8a8a" stroke-width="0.45"/>
<circle cx="295.6" cy="300.2" r="0.55" fill="none" stroke="#8a8a8a" stroke-width="0.45"/>
<circle cx="276.8" cy="300.3" r="0.55" fill="none" stroke="#8a8a8a" stroke-width="0.45"/>
<line x1="286.80" y1="298.90" x2="298.00" y2="298.90" stroke="#777" stroke-width="1.0" />
<circle cx="292.4" cy="298.9" r="2.6" fill="#777"/>
<text x="344.50" y="197.95" font-size="8.2" text-anchor="middle" ><tspan font-style="italic">p</tspan></text>
<line x1="342.60" y1="206.10" x2="342.60" y2="227.60" stroke="#333" stroke-width="0.7" />
<line x1="342.60" y1="230.60" x2="342.60" y2="298.40" stroke="#333" stroke-width="0.7" />
<line x1="344.20" y1="230.60" x2="344.20" y2="275.50" stroke="#333" stroke-width="0.7" />
<line x1="345.80" y1="230.60" x2="345.80" y2="252.70" stroke="#333" stroke-width="0.7" />
<text x="346.20" y="208.12" font-size="7.0" >**</text>
<text x="347.70" y="277.52" font-size="7.0" >***</text>
<text x="346.20" y="300.12" font-size="7.0" >*</text>
<text x="347.80" y="249.21" font-size="7.8" transform="rotate(44 347.80 246.40)" >0.80</text>
<text x="371.50" y="197.88" font-size="8.0" text-anchor="middle" >Gene #</text>
<text x="380.30" y="208.86" font-size="7.4" text-anchor="end" >34×3</text>
<text x="380.30" y="231.86" font-size="7.4" text-anchor="end" >4×3</text>
<text x="380.30" y="254.96" font-size="7.4" text-anchor="end" >9×3</text>
<text x="380.30" y="278.36" font-size="7.4" text-anchor="end" >13×3</text>
<text x="380.30" y="301.56" font-size="7.4" text-anchor="end" >17×3</text>
<text x="389.50" y="186.50" font-size="12.5" font-weight="bold" >f</text>
<line x1="424.60" y1="192.20" x2="424.60" y2="310.10" stroke="#231f20" stroke-width="0.8" />
<line x1="424.60" y1="310.10" x2="468.20" y2="310.10" stroke="#231f20" stroke-width="0.8" />
<line x1="421.40" y1="310.10" x2="424.60" y2="310.10" stroke="#231f20" stroke-width="0.7" />
<text x="421.20" y="313.05" font-size="8.2" text-anchor="end" >0</text>
<line x1="421.40" y1="270.80" x2="424.60" y2="270.80" stroke="#231f20" stroke-width="0.7" />
<text x="421.20" y="273.75" font-size="8.2" text-anchor="end" >5</text>
<line x1="421.40" y1="231.50" x2="424.60" y2="231.50" stroke="#231f20" stroke-width="0.7" />
<text x="421.20" y="234.45" font-size="8.2" text-anchor="end" >10</text>
<line x1="421.40" y1="192.20" x2="424.60" y2="192.20" stroke="#231f20" stroke-width="0.7" />
<text x="421.20" y="195.15" font-size="8.2" text-anchor="end" >15</text>
<rect x="428.00" y="260.19" width="11.60" height="49.91" fill="#d9d9d9" stroke="#444" stroke-width="0.6" />
<line x1="433.80" y1="255.87" x2="433.80" y2="264.51" stroke="#444" stroke-width="0.6" />
<line x1="431.80" y1="255.87" x2="435.80" y2="255.87" stroke="#444" stroke-width="0.6" />
<circle cx="433.2" cy="255.9" r="1.1" fill="none" stroke="#333" stroke-width="0.5"/>
<circle cx="434.4" cy="261.4" r="1.1" fill="none" stroke="#333" stroke-width="0.5"/>
<rect x="441.90" y="248.79" width="10.90" height="61.31" fill="#fdc986" stroke="#444" stroke-width="0.6" />
<line x1="447.35" y1="244.08" x2="447.35" y2="253.51" stroke="#444" stroke-width="0.6" />
<line x1="445.35" y1="244.08" x2="449.35" y2="244.08" stroke="#444" stroke-width="0.6" />
<circle cx="446.8" cy="245.6" r="1.1" fill="none" stroke="#333" stroke-width="0.5"/>
<circle cx="448" cy="251.9" r="1.1" fill="none" stroke="#333" stroke-width="0.5"/>
<circle cx="446.8" cy="248" r="1.1" fill="none" stroke="#333" stroke-width="0.5"/>
<rect x="455.50" y="209.49" width="11.50" height="100.61" fill="#e8954a" stroke="#444" stroke-width="0.6" />
<line x1="461.25" y1="199.27" x2="461.25" y2="220.50" stroke="#444" stroke-width="0.6" />
<line x1="459.25" y1="199.27" x2="463.25" y2="199.27" stroke="#444" stroke-width="0.6" />
<circle cx="460.6" cy="203.2" r="1.1" fill="none" stroke="#333" stroke-width="0.5"/>
<circle cx="461.9" cy="218.9" r="1.1" fill="none" stroke="#333" stroke-width="0.5"/>
<circle cx="460.6" cy="206.3" r="1.1" fill="none" stroke="#333" stroke-width="0.5"/>
<text x="434.00" y="320.95" font-size="8.2" text-anchor="middle" >0d</text>
<text x="447.30" y="320.95" font-size="8.2" text-anchor="middle" >4d</text>
<text x="461.20" y="320.95" font-size="8.2" text-anchor="middle" >8d</text>
<line x1="433.80" y1="195.60" x2="461.10" y2="195.60" stroke="#888" stroke-width="0.8" />
<line x1="433.80" y1="205.80" x2="447.90" y2="205.80" stroke="#231f20" stroke-width="0.8" />
<text x="447.50" y="197.55" font-size="8.2" text-anchor="middle" >*</text>
<text x="440.80" y="207.55" font-size="8.2" text-anchor="middle" >*</text>
<text x="393.30" y="254.55" font-size="9.3" text-anchor="middle" transform="rotate(-90 393.30 251.20)" >Complex II : OXPHOS</text>
<text x="403.90" y="254.55" font-size="9.3" text-anchor="middle" transform="rotate(-90 403.90 251.20)" >Protein expression (%)</text>
<text x="472.50" y="187.00" font-size="12.5" font-weight="bold" >g</text>
<line x1="500.70" y1="184.00" x2="638.50" y2="184.00" stroke="#d0d0d0" stroke-width="0.7" />
<line x1="641.00" y1="184.00" x2="671.00" y2="184.00" stroke="#d0d0d0" stroke-width="0.7" />
<line x1="500.70" y1="270.00" x2="638.50" y2="270.00" stroke="#d0d0d0" stroke-width="0.7" />
<line x1="641.00" y1="270.00" x2="671.00" y2="270.00" stroke="#d0d0d0" stroke-width="0.7" />
<line x1="641.00" y1="313.60" x2="671.00" y2="313.60" stroke="#d0d0d0" stroke-width="0.7" />
<path d="M506.40,219.20 C506.75,215.98 508.00,211.70 509.60,208.50 C511.20,205.30 512.97,202.13 516.00,200.00 C519.03,197.87 523.33,196.70 527.80,195.70 C532.27,194.70 538.17,194.00 542.80,194.00 C547.43,194.00 552.03,195.07 555.60,195.70 C559.17,196.33 560.63,196.92 564.20,197.80 C567.77,198.68 572.73,199.93 577.00,201.00 C581.27,202.07 585.52,202.95 589.80,204.20 C594.08,205.45 598.42,206.72 602.70,208.50 C606.98,210.28 611.23,212.75 615.50,214.90 C619.77,217.05 624.73,218.90 628.30,221.40 C631.87,223.90 635.28,227.42 636.90,229.90 C638.52,232.38 639.07,234.70 638.00,236.30 C636.93,237.90 633.53,238.43 630.50,239.50 C627.47,240.57 623.37,241.08 619.80,242.70 C616.23,244.32 613.03,247.05 609.10,249.20 C605.17,251.35 600.83,254.00 596.20,255.60 C591.57,257.20 585.57,258.08 581.30,258.80 C577.03,259.52 574.53,260.43 570.60,259.90 C566.67,259.37 562.33,257.38 557.70,255.60 C553.07,253.82 548.13,251.35 542.80,249.20 C537.47,247.05 530.70,245.20 525.70,242.70 C520.70,240.20 515.83,236.68 512.80,234.20 C509.77,231.72 508.57,230.30 507.50,227.80 C506.43,225.30 506.05,222.42 506.40,219.20Z" fill="#e3e3e3"/>
<path d="M520.00,216.00 C521.33,213.33 524.33,210.00 528.00,208.00 C531.67,206.00 537.00,204.50 542.00,204.00 C547.00,203.50 552.50,204.33 558.00,205.00 C563.50,205.67 569.33,206.50 575.00,208.00 C580.67,209.50 587.83,211.67 592.00,214.00 C596.17,216.33 598.67,219.00 600.00,222.00 C601.33,225.00 601.67,229.00 600.00,232.00 C598.33,235.00 594.17,237.83 590.00,240.00 C585.83,242.17 580.33,244.17 575.00,245.00 C569.67,245.83 563.83,245.83 558.00,245.00 C552.17,244.17 545.33,242.17 540.00,240.00 C534.67,237.83 529.33,234.67 526.00,232.00 C522.67,229.33 521.00,226.67 520.00,224.00 C519.00,221.33 518.67,218.67 520.00,216.00Z" fill="#d6d6d6" filter="url(#blur1)"/>
<path d="M535.00,220.00 C535.83,217.17 541.17,213.50 545.00,212.00 C548.83,210.50 553.50,210.67 558.00,211.00 C562.50,211.33 568.00,212.33 572.00,214.00 C576.00,215.67 580.67,218.33 582.00,221.00 C583.33,223.67 582.33,227.67 580.00,230.00 C577.67,232.33 572.67,234.33 568.00,235.00 C563.33,235.67 556.67,235.00 552.00,234.00 C547.33,233.00 542.83,231.33 540.00,229.00 C537.17,226.67 534.17,222.83 535.00,220.00Z" fill="#c8c8c8" filter="url(#blur1)"/>
<path d="M548.00,221.00 C547.83,218.83 552.33,216.67 555.00,216.00 C557.67,215.33 561.50,216.00 564.00,217.00 C566.50,218.00 569.67,220.17 570.00,222.00 C570.33,223.83 568.33,226.83 566.00,228.00 C563.67,229.17 559.00,230.17 556.00,229.00 C553.00,227.83 548.17,223.17 548.00,221.00Z" fill="#b8b8b8" filter="url(#blur1)"/>
<line x1="500.70" y1="183.50" x2="500.70" y2="291.50" stroke="#231f20" stroke-width="0.8" />
<line x1="500.70" y1="291.50" x2="638.50" y2="291.50" stroke="#231f20" stroke-width="0.8" />
<line x1="500.70" y1="227.50" x2="638.50" y2="227.50" stroke="#444" stroke-width="0.85" />
<line x1="564.50" y1="184.00" x2="564.50" y2="291.50" stroke="#444" stroke-width="0.85" />
<line x1="641.00" y1="227.50" x2="671.00" y2="227.50" stroke="#444" stroke-width="0.85" />
<line x1="496.70" y1="184.00" x2="500.70" y2="184.00" stroke="#231f20" stroke-width="0.7" />
<text x="495.10" y="187.02" font-size="8.4" text-anchor="end" >2</text>
<line x1="496.70" y1="205.50" x2="500.70" y2="205.50" stroke="#231f20" stroke-width="0.7" />
<text x="495.10" y="208.52" font-size="8.4" text-anchor="end" >1</text>
<line x1="496.70" y1="227.00" x2="500.70" y2="227.00" stroke="#231f20" stroke-width="0.7" />
<text x="495.10" y="230.02" font-size="8.4" text-anchor="end" >0</text>
<line x1="496.70" y1="248.50" x2="500.70" y2="248.50" stroke="#231f20" stroke-width="0.7" />
<text x="495.10" y="251.52" font-size="8.4" text-anchor="end" >−1</text>
<line x1="496.70" y1="270.00" x2="500.70" y2="270.00" stroke="#231f20" stroke-width="0.7" />
<text x="495.10" y="273.02" font-size="8.4" text-anchor="end" >−2</text>
<line x1="496.70" y1="291.50" x2="500.70" y2="291.50" stroke="#231f20" stroke-width="0.7" />
<text x="495.10" y="294.52" font-size="8.4" text-anchor="end" >−3</text>
<line x1="518.64" y1="291.50" x2="518.64" y2="294.00" stroke="#231f20" stroke-width="0.7" />
<text x="518.64" y="304.95" font-size="8.2" text-anchor="middle" >−4</text>
<line x1="541.52" y1="291.50" x2="541.52" y2="294.00" stroke="#231f20" stroke-width="0.7" />
<text x="541.52" y="304.95" font-size="8.2" text-anchor="middle" >−2</text>
<line x1="564.40" y1="291.50" x2="564.40" y2="294.00" stroke="#231f20" stroke-width="0.7" />
<text x="564.40" y="304.95" font-size="8.2" text-anchor="middle" >0</text>
<line x1="587.28" y1="291.50" x2="587.28" y2="294.00" stroke="#231f20" stroke-width="0.7" />
<text x="587.28" y="304.95" font-size="8.2" text-anchor="middle" >2</text>
<line x1="610.16" y1="291.50" x2="610.16" y2="294.00" stroke="#231f20" stroke-width="0.7" />
<text x="610.16" y="304.95" font-size="8.2" text-anchor="middle" >4</text>
<line x1="633.04" y1="291.50" x2="633.04" y2="294.00" stroke="#231f20" stroke-width="0.7" />
<text x="633.04" y="304.95" font-size="8.2" text-anchor="middle" >6</text>
<text x="570.00" y="314.85" font-size="9.3" text-anchor="middle" >RNA log<tspan font-size="6.2" dy="2.4">2</tspan><tspan dy="-2.4">FC</tspan></text>
<text x="480.30" y="241.15" font-size="9.3" text-anchor="middle" transform="rotate(-90 480.30 237.80)" >RD log<tspan font-size="6.2" dy="2.4">2</tspan><tspan dy="-2.4">FC</tspan></text>
<text x="506.50" y="286.66" font-size="8.5" >8d vs 0d</text>
<path d="M521.40,217.10 C521.62,215.80 525.30,214.27 527.80,213.20 C530.30,212.13 533.37,211.83 536.40,210.70 C539.43,209.57 542.80,207.83 546.00,206.40 C549.20,204.97 551.87,203.00 555.60,202.10 C559.33,201.20 563.42,201.07 568.40,201.00 C573.38,200.93 579.78,200.98 585.50,201.70 C591.22,202.42 597.70,203.80 602.70,205.30 C607.70,206.80 611.95,208.73 615.50,210.70 C619.05,212.67 621.50,214.78 624.00,217.10 C626.50,219.42 628.72,222.28 630.50,224.60 C632.28,226.92 633.98,228.93 634.70,231.00 C635.42,233.07 635.50,235.58 634.80,237.00 C634.10,238.42 633.00,238.72 630.50,239.50 C628.00,240.28 623.02,240.80 619.80,241.70 C616.58,242.60 614.05,243.65 611.20,244.90 C608.35,246.15 604.93,247.52 602.70,249.20 C600.47,250.88 598.52,253.12 597.80,255.00 C597.08,256.88 598.78,259.15 598.40,260.50 C598.02,261.85 596.65,263.20 595.50,263.10 C594.35,263.00 593.17,260.88 591.50,259.90 C589.83,258.92 588.28,257.97 585.50,257.20 C582.72,256.43 578.35,256.00 574.80,255.30 C571.25,254.60 567.05,254.08 564.20,253.00 C561.35,251.92 559.85,250.52 557.70,248.80 C555.55,247.08 553.43,244.78 551.30,242.70 C549.17,240.62 547.38,238.08 544.90,236.30 C542.42,234.52 539.25,233.25 536.40,232.00 C533.55,230.75 529.67,229.97 527.80,228.80 C525.93,227.63 525.42,226.30 525.20,225.00 C524.98,223.70 527.13,222.32 526.50,221.00 C525.87,219.68 521.18,218.40 521.40,217.10Z" fill="none" stroke="#2ab0d6" stroke-width="1.0" />
<path d="M553.00,226.50 C561.40,211.20 578.20,209.50 588.00,209.50 C603.40,209.50 609.00,218.85 609.00,227.35 C609.00,236.70 597.80,243.50 583.80,243.50 C569.80,243.50 560.00,238.40 553.00,226.50Z" fill="none" stroke="#2ab0d6" stroke-width="1.0" />
<path d="M561.00,226.00 C567.60,214.12 580.80,212.80 588.50,212.80 C600.60,212.80 605.00,220.06 605.00,226.66 C605.00,233.92 596.20,239.20 585.20,239.20 C574.20,239.20 566.50,235.24 561.00,226.00Z" fill="none" stroke="#2ab0d6" stroke-width="1.0" />
<path d="M568.00,225.50 C572.95,216.68 582.85,215.70 588.62,215.70 C597.70,215.70 601.00,221.09 601.00,225.99 C601.00,231.38 594.40,235.30 586.15,235.30 C577.90,235.30 572.12,232.36 568.00,225.50Z" fill="none" stroke="#2ab0d6" stroke-width="1.0" />
<path d="M574.50,225.00 C577.80,219.33 584.40,218.70 588.25,218.70 C594.30,218.70 596.50,222.16 596.50,225.31 C596.50,228.78 592.10,231.30 586.60,231.30 C581.10,231.30 577.25,229.41 574.50,225.00Z" fill="none" stroke="#2ab0d6" stroke-width="1.0" />
<circle cx="570.6" cy="212.8" r="1.45" fill="#5fae5a" stroke="#2d5e2a" stroke-width="0.4"/>
<circle cx="594.1" cy="210.2" r="1.45" fill="#5fae5a" stroke="#2d5e2a" stroke-width="0.4"/>
<circle cx="562" cy="243.2" r="1.45" fill="#5fae5a" stroke="#2d5e2a" stroke-width="0.4"/>
<circle cx="618.7" cy="236.3" r="1.45" fill="#5fae5a" stroke="#2d5e2a" stroke-width="0.4"/>
<circle cx="628.3" cy="250.7" r="1.45" fill="#5fae5a" stroke="#2d5e2a" stroke-width="0.4"/>
<circle cx="596.2" cy="261.6" r="1.45" fill="#5fae5a" stroke="#2d5e2a" stroke-width="0.4"/>
<circle cx="592" cy="255.6" r="1.45" fill="#5fae5a" stroke="#2d5e2a" stroke-width="0.4"/>
<circle cx="580.2" cy="247" r="1.45" fill="#5fae5a" stroke="#2d5e2a" stroke-width="0.4"/>
<circle cx="576" cy="217" r="1.45" fill="#5fae5a" stroke="#2d5e2a" stroke-width="0.4"/>
<circle cx="579" cy="219" r="1.45" fill="#5fae5a" stroke="#2d5e2a" stroke-width="0.4"/>
<circle cx="589" cy="217" r="1.45" fill="#5fae5a" stroke="#2d5e2a" stroke-width="0.4"/>
<circle cx="596" cy="218" r="1.45" fill="#5fae5a" stroke="#2d5e2a" stroke-width="0.4"/>
<circle cx="601" cy="220" r="1.45" fill="#5fae5a" stroke="#2d5e2a" stroke-width="0.4"/>
<circle cx="606" cy="227" r="1.45" fill="#5fae5a" stroke="#2d5e2a" stroke-width="0.4"/>
<circle cx="608" cy="232" r="1.45" fill="#5fae5a" stroke="#2d5e2a" stroke-width="0.4"/>
<circle cx="604" cy="244" r="1.45" fill="#5fae5a" stroke="#2d5e2a" stroke-width="0.4"/>
<circle cx="598" cy="246" r="1.45" fill="#5fae5a" stroke="#2d5e2a" stroke-width="0.4"/>
<circle cx="586" cy="246" r="1.45" fill="#5fae5a" stroke="#2d5e2a" stroke-width="0.4"/>
<circle cx="583" cy="244" r="1.45" fill="#5fae5a" stroke="#2d5e2a" stroke-width="0.4"/>
<circle cx="586" cy="236" r="1.45" fill="#5fae5a" stroke="#2d5e2a" stroke-width="0.4"/>
<circle cx="590" cy="229" r="1.45" fill="#5fae5a" stroke="#2d5e2a" stroke-width="0.4"/>
<circle cx="594" cy="221" r="1.45" fill="#5fae5a" stroke="#2d5e2a" stroke-width="0.4"/>
<circle cx="592.2" cy="237.4" r="1.45" fill="#5fae5a" stroke="#2d5e2a" stroke-width="0.4"/>
<circle cx="600.2" cy="229.9" r="1.45" fill="#5fae5a" stroke="#2d5e2a" stroke-width="0.4"/>
<circle cx="598.2" cy="234.6" r="1.45" fill="#5fae5a" stroke="#2d5e2a" stroke-width="0.4"/>
<circle cx="598.5" cy="233.6" r="1.45" fill="#5fae5a" stroke="#2d5e2a" stroke-width="0.4"/>
<circle cx="601.7" cy="239.5" r="1.45" fill="#5fae5a" stroke="#2d5e2a" stroke-width="0.4"/>
<circle cx="606.4" cy="232.3" r="1.45" fill="#5fae5a" stroke="#2d5e2a" stroke-width="0.4"/>
<circle cx="594" cy="237.6" r="1.45" fill="#5fae5a" stroke="#2d5e2a" stroke-width="0.4"/>
<circle cx="596.2" cy="227.6" r="1.45" fill="#5fae5a" stroke="#2d5e2a" stroke-width="0.4"/>
<circle cx="607.4" cy="238.6" r="1.45" fill="#5fae5a" stroke="#2d5e2a" stroke-width="0.4"/>
<circle cx="596" cy="230.9" r="1.45" fill="#5fae5a" stroke="#2d5e2a" stroke-width="0.4"/>
<circle cx="600.2" cy="234.2" r="1.45" fill="#5fae5a" stroke="#2d5e2a" stroke-width="0.4"/>
<circle cx="600.5" cy="232.2" r="1.45" fill="#5fae5a" stroke="#2d5e2a" stroke-width="0.4"/>
<circle cx="587.7" cy="220.8" r="1.45" fill="#5fae5a" stroke="#2d5e2a" stroke-width="0.4"/>
<circle cx="603.3" cy="234.4" r="1.45" fill="#5fae5a" stroke="#2d5e2a" stroke-width="0.4"/>
<circle cx="585.9" cy="235.1" r="1.45" fill="#5fae5a" stroke="#2d5e2a" stroke-width="0.4"/>
<circle cx="599.6" cy="237.7" r="1.45" fill="#5fae5a" stroke="#2d5e2a" stroke-width="0.4"/>
<circle cx="598" cy="235.1" r="1.45" fill="#5fae5a" stroke="#2d5e2a" stroke-width="0.4"/>
<circle cx="593.3" cy="222.4" r="1.45" fill="#5fae5a" stroke="#2d5e2a" stroke-width="0.4"/>
<circle cx="596.6" cy="233.7" r="1.45" fill="#5fae5a" stroke="#2d5e2a" stroke-width="0.4"/>
<circle cx="596" cy="222.7" r="1.45" fill="#5fae5a" stroke="#2d5e2a" stroke-width="0.4"/>
<circle cx="595.2" cy="228.2" r="1.45" fill="#5fae5a" stroke="#2d5e2a" stroke-width="0.4"/>
<circle cx="601.8" cy="225" r="1.45" fill="#5fae5a" stroke="#2d5e2a" stroke-width="0.4"/>
<circle cx="592.2" cy="228.7" r="1.45" fill="#5fae5a" stroke="#2d5e2a" stroke-width="0.4"/>
<circle cx="598.6" cy="240.1" r="1.45" fill="#5fae5a" stroke="#2d5e2a" stroke-width="0.4"/>
<circle cx="600.3" cy="223.5" r="1.45" fill="#5fae5a" stroke="#2d5e2a" stroke-width="0.4"/>
<circle cx="592.2" cy="242.9" r="1.45" fill="#5fae5a" stroke="#2d5e2a" stroke-width="0.4"/>
<circle cx="598.9" cy="231.4" r="1.45" fill="#5fae5a" stroke="#2d5e2a" stroke-width="0.4"/>
<circle cx="600.2" cy="236.9" r="1.45" fill="#5fae5a" stroke="#2d5e2a" stroke-width="0.4"/>
<circle cx="607.2" cy="234" r="1.45" fill="#5fae5a" stroke="#2d5e2a" stroke-width="0.4"/>
<circle cx="593.8" cy="226.5" r="1.45" fill="#5fae5a" stroke="#2d5e2a" stroke-width="0.4"/>
<circle cx="603.2" cy="232.8" r="1.45" fill="#5fae5a" stroke="#2d5e2a" stroke-width="0.4"/>
<circle cx="598.8" cy="236" r="1.45" fill="#5fae5a" stroke="#2d5e2a" stroke-width="0.4"/>
<circle cx="592.4" cy="243.5" r="1.45" fill="#5fae5a" stroke="#2d5e2a" stroke-width="0.4"/>
<circle cx="596.5" cy="231.6" r="1.45" fill="#5fae5a" stroke="#2d5e2a" stroke-width="0.4"/>
<circle cx="596.4" cy="233.8" r="1.45" fill="#5fae5a" stroke="#2d5e2a" stroke-width="0.4"/>
<circle cx="596" cy="230.7" r="1.45" fill="#5fae5a" stroke="#2d5e2a" stroke-width="0.4"/>
<circle cx="601.4" cy="241.4" r="1.45" fill="#5fae5a" stroke="#2d5e2a" stroke-width="0.4"/>
<circle cx="601.9" cy="225.2" r="1.45" fill="#5fae5a" stroke="#2d5e2a" stroke-width="0.4"/>
<circle cx="595.9" cy="242" r="1.45" fill="#5fae5a" stroke="#2d5e2a" stroke-width="0.4"/>
<circle cx="597.9" cy="233.7" r="1.45" fill="#5fae5a" stroke="#2d5e2a" stroke-width="0.4"/>
<circle cx="596.7" cy="242.8" r="1.45" fill="#5fae5a" stroke="#2d5e2a" stroke-width="0.4"/>
<circle cx="595.5" cy="230" r="1.45" fill="#5fae5a" stroke="#2d5e2a" stroke-width="0.4"/>
<circle cx="603.6" cy="222.7" r="1.45" fill="#5fae5a" stroke="#2d5e2a" stroke-width="0.4"/>
<circle cx="595.4" cy="249.3" r="1.45" fill="#5fae5a" stroke="#2d5e2a" stroke-width="0.4"/>
<circle cx="597.8" cy="235.4" r="1.45" fill="#5fae5a" stroke="#2d5e2a" stroke-width="0.4"/>
<circle cx="587" cy="232" r="1.45" fill="#5fae5a" stroke="#2d5e2a" stroke-width="0.4"/>
<circle cx="592.4" cy="228.2" r="1.45" fill="#5fae5a" stroke="#2d5e2a" stroke-width="0.4"/>
<circle cx="593.5" cy="233.4" r="1.45" fill="#5fae5a" stroke="#2d5e2a" stroke-width="0.4"/>
<circle cx="596.3" cy="239.3" r="1.45" fill="#5fae5a" stroke="#2d5e2a" stroke-width="0.4"/>
<circle cx="585.4" cy="228.5" r="1.45" fill="#5fae5a" stroke="#2d5e2a" stroke-width="0.4"/>
<circle cx="601.8" cy="235.2" r="1.45" fill="#5fae5a" stroke="#2d5e2a" stroke-width="0.4"/>
<circle cx="605.5" cy="229.7" r="1.45" fill="#5fae5a" stroke="#2d5e2a" stroke-width="0.4"/>
<circle cx="603.3" cy="236.2" r="1.45" fill="#5fae5a" stroke="#2d5e2a" stroke-width="0.4"/>
<circle cx="590.9" cy="221.4" r="1.45" fill="#5fae5a" stroke="#2d5e2a" stroke-width="0.4"/>
<circle cx="608.2" cy="240.1" r="1.45" fill="#5fae5a" stroke="#2d5e2a" stroke-width="0.4"/>
<circle cx="598.6" cy="227.8" r="1.45" fill="#5fae5a" stroke="#2d5e2a" stroke-width="0.4"/>
<circle cx="587.9" cy="230.5" r="1.45" fill="#5fae5a" stroke="#2d5e2a" stroke-width="0.4"/>
<circle cx="598.4" cy="243.1" r="1.45" fill="#5fae5a" stroke="#2d5e2a" stroke-width="0.4"/>
<circle cx="597.3" cy="223.1" r="1.5" fill="#f39a56" stroke="#a35a20" stroke-width="0.4"/>
<circle cx="597" cy="224.8" r="1.5" fill="#f39a56" stroke="#a35a20" stroke-width="0.4"/>
<circle cx="589.4" cy="227.8" r="1.5" fill="#f39a56" stroke="#a35a20" stroke-width="0.4"/>
<circle cx="602.7" cy="238.5" r="1.5" fill="#f39a56" stroke="#a35a20" stroke-width="0.4"/>
<circle cx="587.7" cy="233.8" r="1.5" fill="#d0145f" stroke="#7a0a38" stroke-width="0.4"/>
<circle cx="582.3" cy="238.9" r="1.5" fill="#d0145f" stroke="#7a0a38" stroke-width="0.4"/>
<circle cx="589.4" cy="241" r="1.5" fill="#d0145f" stroke="#7a0a38" stroke-width="0.4"/>
<circle cx="594.1" cy="242.3" r="1.5" fill="#d0145f" stroke="#7a0a38" stroke-width="0.4"/>
<circle cx="591.5" cy="246" r="1.5" fill="#d0145f" stroke="#7a0a38" stroke-width="0.4"/>
<circle cx="580.2" cy="254.5" r="1.5" fill="#d0145f" stroke="#7a0a38" stroke-width="0.4"/>
<circle cx="589.8" cy="255.6" r="1.5" fill="#d0145f" stroke="#7a0a38" stroke-width="0.4"/>
<circle cx="602.2" cy="264.1" r="1.5" fill="#d0145f" stroke="#7a0a38" stroke-width="0.4"/>
<circle cx="598.4" cy="274.8" r="1.5" fill="#d0145f" stroke="#7a0a38" stroke-width="0.4"/>
<circle cx="599.4" cy="277.6" r="1.5" fill="#d0145f" stroke="#7a0a38" stroke-width="0.4"/>
<circle cx="598.8" cy="276" r="1.5" fill="#d0145f" stroke="#7a0a38" stroke-width="0.4"/>
<circle cx="604.8" cy="289.8" r="1.5" fill="#d0145f" stroke="#7a0a38" stroke-width="0.4"/>
<line x1="671.00" y1="184.00" x2="671.00" y2="335.40" stroke="#231f20" stroke-width="0.8" />
<line x1="640.50" y1="335.40" x2="671.00" y2="335.40" stroke="#231f20" stroke-width="0.8" />
<line x1="671.00" y1="184.00" x2="673.80" y2="184.00" stroke="#231f20" stroke-width="0.7" />
<text x="675.20" y="187.02" font-size="8.4" >2</text>
<line x1="671.00" y1="205.50" x2="673.80" y2="205.50" stroke="#231f20" stroke-width="0.7" />
<text x="675.20" y="208.52" font-size="8.4" >1</text>
<line x1="671.00" y1="227.00" x2="673.80" y2="227.00" stroke="#231f20" stroke-width="0.7" />
<text x="675.20" y="230.02" font-size="8.4" >0</text>
<line x1="671.00" y1="248.50" x2="673.80" y2="248.50" stroke="#231f20" stroke-width="0.7" />
<text x="675.20" y="251.52" font-size="8.4" >−1</text>
<line x1="671.00" y1="270.00" x2="673.80" y2="270.00" stroke="#231f20" stroke-width="0.7" />
<text x="675.20" y="273.02" font-size="8.4" >−2</text>
<line x1="671.00" y1="291.50" x2="673.80" y2="291.50" stroke="#231f20" stroke-width="0.7" />
<text x="675.20" y="294.52" font-size="8.4" >−3</text>
<line x1="671.00" y1="313.60" x2="673.80" y2="313.60" stroke="#231f20" stroke-width="0.7" />
<text x="675.20" y="316.62" font-size="8.4" >−4</text>
<line x1="671.00" y1="335.40" x2="673.80" y2="335.40" stroke="#231f20" stroke-width="0.7" />
<text x="675.20" y="338.42" font-size="8.4" >−5</text>
<path d="M644.7 240.5h0M646.6 234.9h0M645.3 231.8h0M644.8 235.2h0M643.8 243.5h0M647.7 233.8h0M647.4 242h0M644.9 225.8h0M646.8 220.9h0M646.8 235h0M643.6 214.1h0M645.7 236.7h0" stroke="#f4a070" stroke-width="0.9" stroke-linecap="round"/>
<path d="M656.3 262.8h0M656.2 233h0M655.6 245h0M653 221.2h0M655.5 251.4h0M657.5 248.5h0M656.5 249.9h0M655.1 237.7h0M658.8 248.3h0M654.2 223.5h0M657.6 234.3h0M654.6 241.9h0M652.8 225.1h0M656.8 226.3h0M657 230.1h0M657.3 245.6h0M658.9 231.7h0M654.5 246.5h0M655.3 226.8h0M656.6 221.9h0M659.5 227.6h0M657.5 226.6h0M654.2 240.3h0M655.3 224.2h0M653.4 210.4h0M654.3 245.9h0M654.6 246.3h0M655.8 233.7h0M658.8 239.5h0M657.5 227.3h0M656.4 257.8h0M656.4 233.3h0M653.8 226.4h0M657.9 227.4h0M655.7 247.3h0M656.6 244.3h0M656.4 244.7h0M654.2 229.6h0M654.7 257.2h0M657.6 229.3h0M656.9 249.8h0M655.8 225.4h0M656.5 240.5h0M657.2 238.7h0M653 237.7h0M654.6 248.6h0M657.2 247h0M657.7 243.4h0M655.1 237.5h0M656.6 239.8h0M655.7 232.2h0M654.4 242.7h0M653.8 251.7h0M658.5 242.5h0M656.5 244.5h0M658.4 229.6h0M657.5 236h0M657.4 243.8h0M653.2 222.2h0M657.1 231.7h0M655.4 239.8h0M654 239.1h0M655.9 224.8h0M655.5 251.6h0M653.1 245.7h0M653.7 228h0M657.6 226.4h0M654.4 248.7h0M657.1 265.3h0M654.8 264.3h0M654.8 242.8h0M657.3 247.5h0M654.9 239.9h0M654.2 239.5h0M652.2 246.9h0M655.4 234.2h0M657.1 226.3h0M655.9 238.4h0M654.3 230.5h0M653.4 230.2h0M654.2 235.7h0M657.7 249.9h0M656.3 239h0M654.4 237.3h0M658.8 221.6h0M654.6 245.6h0M655.9 256.4h0M654.8 234.5h0M657.2 243h0M654.6 232.1h0M652.2 238.3h0M656.5 238.1h0M659.4 213h0M653.2 237.8h0M655 246h0M652.9 222.2h0M655.3 237.2h0M658.8 230.7h0M653.3 245.5h0M652.9 235.6h0M654.7 227.2h0M654.8 228.1h0M658.9 242.6h0M655.1 236.5h0M658.4 244.3h0M652.8 256.8h0M655.7 250.3h0M654.4 222.8h0M654.7 232.5h0M656 231.3h0M654.9 245.1h0M659.4 237.4h0M655.4 230.7h0M657.2 253.8h0M653.6 222.2h0M657.3 240h0M653.4 230.4h0M657.1 249.4h0M656.5 236.1h0M656.3 232.5h0M656.9 238.9h0M656.5 232.9h0M657.7 233.8h0M654.7 242.2h0M656.1 235.2h0M655.6 236.1h0M655.7 223.9h0M652.3 222.4h0M657.4 240.8h0M654.4 242.2h0M655.2 238.5h0M656.8 217h0M653.7 232.4h0M656.8 249.2h0M656.5 225h0M656.6 243.5h0M656.7 237.7h0M654.7 231.3h0M655.4 228.2h0M654 250.2h0M656.3 239.7h0M658.2 236h0M655.3 219.7h0M654.4 242.1h0M655.5 231.1h0M656.3 214.9h0M653.9 224.4h0M654.4 233.1h0M654.5 232.4h0M654.6 232.6h0M657.7 221.6h0M654.6 220.5h0M659 246.3h0M656.6 246.5h0M655.3 235.8h0M654.7 247h0M653.8 217.9h0M655.6 254.5h0M654.5 224.8h0M656.2 258.7h0M652.9 234.2h0M654.5 238.6h0M657.1 245.2h0M656.6 223h0M656.2 240.5h0M656.8 222.4h0M657.5 221.7h0M654.1 243.3h0M651.2 227.1h0M654.9 222.5h0M651.7 224.4h0M655.5 234.9h0M653.6 231h0M655.6 250.9h0M656.6 240.8h0M653.4 250.7h0M657.9 248.1h0M654.6 245.1h0M658.1 243.8h0M651.9 224.9h0M658.9 254.8h0M659.5 243.7h0M654.1 230.1h0M656 236h0M658.6 242.2h0M656.5 221.5h0M653.5 223.4h0M658.1 244.5h0M656.4 243h0M653.7 235.6h0M656.7 238.4h0M655.1 251.6h0M653.3 215.2h0M656.7 240.4h0M654.5 221.9h0M656.5 229.2h0M657.6 224.4h0M654.8 235.3h0M656.7 247.1h0M654.9 242.3h0M655 244.4h0M656.2 236.1h0M657.2 232.5h0M656.2 231.3h0M655.7 249.1h0M655.2 241.9h0M653.8 249.9h0M656.5 232.2h0M654.1 233.2h0M656.8 246.9h0M653.9 233.5h0M656.1 229.6h0M655.6 233.9h0M656.7 223.2h0M653.6 236h0M653.5 239.4h0M657.7 235.6h0M655.8 244.6h0M656.3 248.1h0M658.3 256.5h0M656.8 214.2h0M653.2 252.6h0M658.7 229.6h0M655.5 256.7h0M655.3 226.3h0M654.7 243.8h0M652.5 241.4h0M651.6 211.2h0M657.7 246.7h0M655.8 237.2h0M652.9 251.9h0M654.3 223.3h0M657.9 225.1h0M656.5 205.7h0M655.2 237.8h0M654.7 236.8h0M654.5 221.3h0M658.4 225.4h0M654.6 250.5h0M655.2 231h0M653.1 238.8h0M657.9 241h0M655.6 247.6h0M655.9 222.3h0M657.6 241.2h0M657.9 230.4h0M656.8 245.4h0M655.2 241.5h0M654.6 247.5h0M656.2 247.6h0M653.9 231.7h0M659.6 257h0M654.3 236.8h0M655.5 243.8h0M656.2 238.8h0M652.6 221.4h0M658.7 231.2h0M653.5 245.8h0M658.2 228.8h0M655.9 236.3h0M655.9 215.6h0M656.2 249.3h0M657.7 240.9h0M656 216.5h0M655.3 228.2h0M655.4 229.3h0M656.5 217.6h0M655.5 235.4h0M656.5 237.7h0M655.5 222.9h0M653.2 216.3h0M657 255.8h0M655 235.1h0M655.6 229.4h0M657.3 232.5h0M655.5 228.1h0M656.8 233.8h0M657.1 237h0M655.1 246.1h0M654.8 226h0M653.9 233.2h0M656.3 237.6h0M656.9 250.4h0M657.2 251.7h0M656.1 239h0M654.3 223.3h0M655.8 236.8h0M654.9 229.9h0M655.2 217h0M652.3 255.2h0M655.1 237.3h0M655.6 225.6h0M658 224.3h0M659.2 238.1h0M658.7 233.9h0M656.7 238h0M655.7 228.5h0M652.7 224h0M656 240.4h0M657.8 222.3h0M657.7 249.5h0M655 223.4h0M658.4 260.4h0M653.6 227.9h0M657.1 259.7h0M656.3 232.2h0M655 229.4h0M656.6 238h0M654.6 229.5h0M656.1 251.1h0M654.7 229.8h0M655.7 240.7h0M656.3 239h0M655.9 236.3h0M656.8 242.1h0M659.7 231.4h0M654.2 239.8h0M657.6 220.6h0M654.7 235.4h0M656.2 221.3h0M653.8 238.9h0M656.8 244.9h0M657.2 229.1h0M656.1 238h0M655.7 223.9h0M657.6 224.1h0M654.7 249.5h0M657.1 209h0M656.1 242.1h0M653.8 235h0M655.9 233h0M656.6 232h0M658.6 239.2h0M656.1 233.9h0M656.1 222.9h0M655.6 207.2h0M658 243.9h0M656.8 226.8h0M655.2 229.4h0M654.4 227.7h0M656.3 227.2h0M655.4 220.9h0M654.9 237.8h0M655.4 225.6h0M656.9 234.6h0M656.4 226.5h0M656.2 236.8h0M656 228.1h0M655 218.2h0M655.1 233.8h0M657.2 241.2h0M654.7 252.4h0M657.9 221.5h0M656.3 247.4h0M655.1 245.1h0M655.3 247.2h0M654.9 236.3h0M657.3 237.8h0M657.4 245.1h0M658.5 215.9h0M656.5 259.4h0M653.8 232.2h0M654.6 247.3h0M654.9 220.4h0M655.4 231.9h0M658.2 224.1h0M657.2 216.8h0M657.2 246.9h0M658.8 231h0M656.9 223.2h0M658.4 241.2h0M656.4 232.1h0M657.6 238.5h0M656.3 258h0M654.6 240h0M655.1 246.4h0M656.1 247h0M654.8 221.1h0M654.1 243.9h0M655.2 256h0M650.1 265.5h0M656.2 237h0M653.2 232.4h0M654.4 248.3h0M655.8 282.9h0M655.9 297.4h0M654.5 309.8h0M655.2 226.5h0M656.4 210.9h0M654.2 304.1h0M655.6 216.3h0M652.5 217.5h0M656.1 219.2h0M659.2 287.5h0M654 274.1h0M656.6 292.8h0M657.1 295.7h0M654.4 301.4h0M657.6 232.9h0M658.7 220.9h0M651.2 247.4h0M654.4 276.2h0M653.8 285.1h0M655.4 257.7h0M655.3 225.2h0M655.3 303.7h0M654.7 264.3h0M655.4 252.8h0M654.3 209.1h0M652.8 218.5h0M655.5 254.3h0M656.2 281.7h0M656.7 286.2h0M656.7 226.6h0M652.2 260.2h0M655.1 224h0M653.1 292.7h0M658.1 265h0M653 241.6h0M656.1 245h0" stroke="#8ee07e" stroke-width="1" stroke-linecap="round" stroke-opacity="0.85"/>
<path d="M664 246.1h0M661.3 294.1h0M663.2 274.6h0M664.4 277.1h0M663.8 309.9h0M664.3 243.2h0M660.9 278.6h0M661.5 240.4h0M661.7 246h0M662.2 247.8h0M663.3 243.9h0M664.7 239.8h0M662.5 242.3h0M666.2 253.9h0M668.2 240.7h0M664.4 235.4h0M664.7 275.7h0M663.5 226.5h0M660.1 251.1h0M665 220.8h0M666 245.7h0M664.1 289.3h0M665.3 252h0M660.8 195.7h0M665.5 301.2h0M663.7 224.8h0M663.4 225h0M663.7 264.7h0M666.1 257.8h0M665.7 283.7h0M663.3 227.3h0M663.5 252.1h0M664.8 236.3h0M662.7 278.6h0M664.9 226.1h0M664.8 275h0M661.3 264.7h0M664.9 267.2h0M660.7 232h0M665.8 218.2h0" stroke="#f28ac0" stroke-width="1" stroke-linecap="round" stroke-opacity="0.9"/>
<line x1="641.50" y1="227.00" x2="651.50" y2="227.00" stroke="#f39a56" stroke-width="1.0" />
<path d="M646.7,224.60 L649.1,227.00 L646.7,229.40 L644.3,227.00Z" fill="#f39a56"/>
<line x1="655.60" y1="229.50" x2="655.60" y2="243.80" stroke="#3d8b3d" stroke-width="1.0" />
<circle cx="655.6" cy="235.5" r="1.8" fill="#3d8b3d"/>
<line x1="664.30" y1="237.80" x2="664.30" y2="267.90" stroke="#d0145f" stroke-width="1.1" />
<circle cx="664.3" cy="252.4" r="2" fill="#d0145f"/>
<text x="647.30" y="340.82" font-size="7.0" transform="rotate(90 647.30 338.30)" >4×3</text>
<text x="655.90" y="340.82" font-size="7.0" transform="rotate(90 655.90 338.30)" >80×3</text>
<text x="665.00" y="340.82" font-size="7.0" transform="rotate(90 665.00 338.30)" >12×3</text>
<text x="656.00" y="363.48" font-size="8.0" text-anchor="middle" >Gene #</text>
<rect x="481.70" y="327.50" width="8.00" height="8.00" fill="#c8c8c8" />
<text x="492.50" y="334.45" font-size="8.2" >All genes</text>
<rect x="482.20" y="340.50" width="7.40" height="7.40" fill="none" stroke="#2ab0d6" stroke-width="1.0" />
<text x="492.50" y="347.15" font-size="8.2" >All MitoCarta</text>
<circle cx="547.7" cy="328.4" r="1.7" fill="#f39a56" stroke="#a35a20" stroke-width="0.4"/>
<text x="551.80" y="331.35" font-size="8.2" >Complex II</text>
<circle cx="547.7" cy="337.6" r="1.7" fill="#5fae5a" stroke="#2d5e2a" stroke-width="0.4"/>
<text x="551.80" y="340.55" font-size="8.2" >nDNA</text>
<circle cx="547.7" cy="347" r="1.7" fill="#d0145f" stroke="#7a0a38" stroke-width="0.4"/>
<text x="551.80" y="349.95" font-size="8.2" >mtDNA</text>
<line x1="582.30" y1="334.50" x2="582.30" y2="350.80" stroke="#777" stroke-width="0.6" />
<text x="585.40" y="341.15" font-size="8.2" >Complex</text>
<text x="585.40" y="349.95" font-size="8.2" >I, III, IV and V</text>
<text x="0.50" y="377.50" font-size="12.5" font-weight="bold" >h</text>
<line x1="30.40" y1="381.00" x2="30.40" y2="496.00" stroke="#231f20" stroke-width="0.8" />
<line x1="30.40" y1="496.00" x2="108.60" y2="496.00" stroke="#231f20" stroke-width="0.8" />
<line x1="26.40" y1="388.60" x2="30.40" y2="388.60" stroke="#231f20" stroke-width="0.7" />
<text x="22.20" y="391.62" font-size="8.4" text-anchor="end" >4</text>
<line x1="26.40" y1="408.20" x2="30.40" y2="408.20" stroke="#231f20" stroke-width="0.7" />
<text x="22.20" y="411.22" font-size="8.4" text-anchor="end" >3</text>
<line x1="26.40" y1="427.80" x2="30.40" y2="427.80" stroke="#231f20" stroke-width="0.7" />
<text x="22.20" y="430.82" font-size="8.4" text-anchor="end" >2</text>
<line x1="26.40" y1="447.40" x2="30.40" y2="447.40" stroke="#231f20" stroke-width="0.7" />
<text x="22.20" y="450.42" font-size="8.4" text-anchor="end" >1</text>
<line x1="26.40" y1="467.00" x2="30.40" y2="467.00" stroke="#231f20" stroke-width="0.7" />
<text x="22.20" y="470.02" font-size="8.4" text-anchor="end" >0</text>
<line x1="26.40" y1="486.60" x2="30.40" y2="486.60" stroke="#231f20" stroke-width="0.7" />
<text x="22.20" y="489.62" font-size="8.4" text-anchor="end" >−1</text>
<text x="7.40" y="440.85" font-size="9.3" text-anchor="middle" transform="rotate(-90 7.40 437.50)" >Protein log<tspan font-size="6.2" dy="2.4">2</tspan><tspan dy="-2.4">FC</tspan></text>
<line x1="36.95" y1="438.40" x2="36.95" y2="444.40" stroke="#888" stroke-width="0.6" />
<line x1="36.95" y1="449.90" x2="36.95" y2="456.10" stroke="#888" stroke-width="0.6" />
<line x1="34.95" y1="438.40" x2="38.95" y2="438.40" stroke="#888" stroke-width="0.6" />
<line x1="34.95" y1="456.10" x2="38.95" y2="456.10" stroke="#888" stroke-width="0.6" />
<rect x="33.30" y="444.40" width="7.30" height="5.50" fill="#3a9bd5" stroke="#1f5f8f" stroke-width="0.6" />
<line x1="33.30" y1="446.70" x2="40.60" y2="446.70" stroke="#1f5f8f" stroke-width="0.7" />
<path d="M34.7 463.1h0M38.5 457.3h0M35.7 454.1h0M36 436.4h0M38 443.6h0M37.2 427.5h0M38.4 441.2h0M36.5 452.2h0M37.8 436.5h0M34 444.8h0M37.4 448.6h0M39.1 459.1h0M37 452.4h0M38.5 449h0M36.4 451.6h0M35.7 459.5h0M39.7 448.9h0M35.7 443.9h0M36.7 443.8h0M39.1 451.1h0M36.6 448.9h0M35.7 456.8h0M36.4 455.3h0M36.8 455.8h0M39 444.2h0M39.5 444.9h0M38.2 446.8h0M35.7 461.3h0M36.4 446.7h0M36.6 450.3h0M37.3 438.4h0M34.5 447.9h0M36.8 448.7h0M34.9 456.9h0M38.9 443.6h0M36.4 446.1h0M38.3 440h0M34 437h0M38.3 443h0M37.1 449.3h0M39.8 453.7h0M35.1 437.9h0M39.8 453.4h0M38.1 447.3h0M38.2 456.8h0M33.8 436.7h0M40.1 450.9h0M35.4 437.5h0M36.8 443.4h0M34.5 442.2h0M35 441h0M37 450.8h0M38.3 443.4h0M36.8 449.7h0M39.8 460.9h0M36.1 449.4h0M35.5 454.9h0M36.3 439.9h0M39.3 450.8h0M38.6 446h0M36.5 449.5h0M38.4 459.9h0M37.9 449.2h0M39.1 449.7h0M36.1 441.6h0M37.3 425.6h0M38.4 436.1h0M37 453.1h0" stroke="#3a9bd5" stroke-width="0.9" stroke-linecap="round" stroke-opacity="0.7"/>
<line x1="46.40" y1="438.90" x2="46.40" y2="445.60" stroke="#888" stroke-width="0.6" />
<line x1="46.40" y1="455.40" x2="46.40" y2="462.10" stroke="#888" stroke-width="0.6" />
<line x1="44.40" y1="438.90" x2="48.40" y2="438.90" stroke="#888" stroke-width="0.6" />
<line x1="44.40" y1="462.10" x2="48.40" y2="462.10" stroke="#888" stroke-width="0.6" />
<rect x="42.90" y="445.60" width="7.00" height="9.80" fill="#5fdede" stroke="#2a8a8a" stroke-width="0.6" />
<line x1="42.90" y1="451.10" x2="49.90" y2="451.10" stroke="#2a8a8a" stroke-width="0.7" />
<path d="M47.6 456.9h0M43.3 454.1h0M47.8 435.8h0M44.9 460h0M47.1 457.2h0M45 458.2h0M47.4 448.1h0M46.2 447.8h0M43.3 449.8h0" stroke="#49c9c9" stroke-width="0.9" stroke-linecap="round" stroke-opacity="0.7"/>
<line x1="55.80" y1="441.00" x2="55.80" y2="448.20" stroke="#888" stroke-width="0.6" />
<line x1="55.80" y1="459.20" x2="55.80" y2="463.00" stroke="#888" stroke-width="0.6" />
<line x1="53.80" y1="441.00" x2="57.80" y2="441.00" stroke="#888" stroke-width="0.6" />
<line x1="53.80" y1="463.00" x2="57.80" y2="463.00" stroke="#888" stroke-width="0.6" />
<rect x="52.20" y="448.20" width="7.20" height="11.00" fill="#5fdede" stroke="#2a8a8a" stroke-width="0.6" />
<line x1="52.20" y1="456.30" x2="59.40" y2="456.30" stroke="#2a8a8a" stroke-width="0.7" />
<path d="M56.4 464h0M57 451.3h0M57.1 469.5h0M53.1 457.8h0M58.9 468.9h0" stroke="#49c9c9" stroke-width="0.9" stroke-linecap="round" stroke-opacity="0.7"/>
<line x1="65.05" y1="436.90" x2="65.05" y2="454.00" stroke="#888" stroke-width="0.6" />
<line x1="65.05" y1="470.20" x2="65.05" y2="473.10" stroke="#888" stroke-width="0.6" />
<line x1="63.05" y1="436.90" x2="67.05" y2="436.90" stroke="#888" stroke-width="0.6" />
<line x1="63.05" y1="473.10" x2="67.05" y2="473.10" stroke="#888" stroke-width="0.6" />
<rect x="61.40" y="454.00" width="7.30" height="16.20" fill="#5fdede" stroke="#2a8a8a" stroke-width="0.6" />
<line x1="61.40" y1="460.00" x2="68.70" y2="460.00" stroke="#2a8a8a" stroke-width="0.7" />
<path d="M62.4 448.8h0M63.5 481.5h0M62.4 450.7h0M65.4 460h0M67 457.9h0M64.5 452.8h0M62.6 469.2h0M67.1 477.5h0M68.2 468.5h0M67.1 470.8h0M63.7 468.8h0M67.3 465.6h0" stroke="#49c9c9" stroke-width="0.9" stroke-linecap="round" stroke-opacity="0.7"/>
<line x1="74.05" y1="432.60" x2="74.05" y2="441.80" stroke="#888" stroke-width="0.6" />
<line x1="74.05" y1="451.40" x2="74.05" y2="452.50" stroke="#888" stroke-width="0.6" />
<line x1="72.05" y1="432.60" x2="76.05" y2="432.60" stroke="#888" stroke-width="0.6" />
<line x1="72.05" y1="452.50" x2="76.05" y2="452.50" stroke="#888" stroke-width="0.6" />
<rect x="70.40" y="441.80" width="7.30" height="9.60" fill="#5fdede" stroke="#2a8a8a" stroke-width="0.6" />
<line x1="70.40" y1="446.20" x2="77.70" y2="446.20" stroke="#2a8a8a" stroke-width="0.7" />
<path d="M74.8 428.5h0M71.8 444.6h0M73 431.6h0M75.8 445.7h0M77.1 437.9h0M75.5 445h0M76.8 436.5h0M75.9 448.6h0M76.3 448h0M72.6 442h0M77.1 439.5h0M75.1 440.4h0M75.5 450h0M71.5 442.2h0M74.2 442.7h0M77.2 454h0M76 444.1h0M75.7 443.9h0" stroke="#49c9c9" stroke-width="0.9" stroke-linecap="round" stroke-opacity="0.7"/>
<line x1="83.50" y1="395.40" x2="83.50" y2="429.00" stroke="#888" stroke-width="0.6" />
<line x1="83.50" y1="452.60" x2="83.50" y2="488.20" stroke="#888" stroke-width="0.6" />
<line x1="81.50" y1="395.40" x2="85.50" y2="395.40" stroke="#888" stroke-width="0.6" />
<line x1="81.50" y1="488.20" x2="85.50" y2="488.20" stroke="#888" stroke-width="0.6" />
<rect x="79.40" y="429.00" width="8.20" height="23.60" fill="#c9c9c9" stroke="#777" stroke-width="0.6" />
<line x1="79.40" y1="441.60" x2="87.60" y2="441.60" stroke="#777" stroke-width="0.7" />
<path d="M85.3 462h0M83.6 402.1h0M82.7 437.6h0M82.9 435.3h0M81.6 440.2h0M81.8 434.1h0M86.7 447.3h0M82.4 461.1h0M85.1 444h0M82.8 442.3h0M86.5 455h0M82.3 439.6h0M82.9 484.2h0M80.9 434.6h0M84.4 422.6h0M81.2 423.5h0M82.3 450h0M80.8 426.1h0M81.2 461.2h0M82.3 443.5h0M83.2 438.3h0M81.7 409.3h0M86.6 427.8h0M85.2 427.4h0M85.2 450.2h0M83 429.1h0M83.6 440.6h0M84.5 450.2h0M84.1 440.5h0M83.7 449.3h0M81.4 434.3h0M86.5 403.5h0M81.8 433.1h0M85.2 471h0M85.9 427.1h0M85.2 459.3h0M82.9 443.3h0M81.9 398.8h0M82 452.6h0M86.6 418.8h0M83.3 467.5h0M85.4 419.9h0M85.5 428.3h0M84.2 450.1h0M83.6 440.4h0M83 433.3h0M83.2 476h0M83.4 450h0M81.1 417.6h0M81.6 428.4h0M81.4 462.8h0M84.7 456.3h0M86.6 448.8h0M83.6 410.5h0M84.2 416.7h0M83.6 434.9h0M85.2 439.1h0M82.5 470.1h0M81.9 461.1h0M82.4 455.4h0M86.4 464.7h0M84 417.2h0M84.3 438.6h0M83.8 426.7h0M84.4 449h0M81.5 466.4h0M86 443.8h0M82.1 425.9h0M82.3 464.5h0M81.3 420.3h0M84.2 422.6h0M83.5 440.1h0M83.8 456.1h0M84.7 444h0M81.6 440.9h0M85.1 464.6h0M81.2 429.8h0M86.6 429h0M81.3 451.8h0M82.1 462.6h0M83.6 455.8h0M81 475.9h0M81.9 465.6h0M85.3 446.9h0M81.4 419.2h0M81.7 423h0M83.3 454.1h0M81 419.4h0M81.4 445.5h0M82.5 448h0M81.4 445.6h0M86.5 472.7h0M80.5 431.9h0M84.9 453.6h0M80.6 411.3h0M84.4 495.4h0M84.8 429.8h0M80.9 451.8h0M84.2 475.4h0M83.2 453.2h0M84.5 430.1h0M85.4 453.2h0M86.4 441.9h0M80.6 448.1h0M85.1 449h0M85.2 445.7h0M83.9 440.2h0M83.4 444.5h0M81.7 469.2h0M81 442.8h0M82.7 455.4h0M83.5 437.7h0M86.3 433.5h0M85.3 432.6h0M85.7 444.2h0M85.9 467.9h0M84.9 462.5h0M84.8 470.2h0M81.2 429.9h0M82.6 470.9h0M83.7 419.5h0M82.4 438.1h0M81.6 428.5h0M81 451.9h0M86 429h0M80.3 440h0M83 428.1h0M83.3 449h0M80.3 432.7h0M85.2 426h0M81.5 459.5h0M80.4 433.1h0M85.2 457.4h0M82.9 441.1h0M86 431.3h0M81.6 456.9h0M81.8 417h0M83.6 411.5h0M85.5 434.2h0M86.3 446.6h0M83.6 437.4h0M84.8 420.6h0M83.7 428.1h0M82.4 412.1h0M82.3 436.6h0M84 484.2h0M85.3 455.8h0M81.6 428.2h0M86.2 413.4h0M85.6 439.8h0M86.4 479.9h0M86.1 468.7h0M81.7 436h0M83.2 410.6h0M82.1 426.4h0M81.5 428.2h0M82.2 422.1h0M81.5 416h0M82 481.9h0M81.4 444.8h0M85.4 426.2h0M81.2 429.9h0M82.7 409.5h0M82 459.1h0M83.8 455.3h0M81.7 444.8h0M86.4 448.2h0M82.7 443.9h0M80.8 453.9h0M86.3 443.5h0M82.8 430.1h0M82.3 452.8h0M81.6 446.4h0M83.4 468h0M83.6 426.9h0M84.8 452.6h0M81.6 419.3h0M86 453.1h0M86 432.6h0M83 458.1h0M80.8 445.9h0M85.3 419.8h0M81.2 428.4h0M82.5 456.8h0M83.3 446.9h0M80.8 413.5h0M81.6 414.6h0M84.3 473.6h0M86.5 426.7h0M81.7 462.3h0M81.5 449.2h0M81.4 414.3h0M82.9 464h0M81.5 459.2h0M85.4 449.2h0M85.3 436h0M85.9 427.6h0M82.9 404.4h0M84.3 412.7h0M85.2 419.9h0M81.8 432h0M83.7 430.3h0M81.7 447.4h0M81.9 415.3h0M80.6 410.5h0M85.1 450h0M86.1 439.3h0M83 416.9h0M82.5 455.9h0M83.2 418.9h0M83.4 434.9h0M82.5 493.2h0M84.2 476.2h0M83.5 446.5h0M81.8 438.7h0M85.9 431.8h0M82.8 403.2h0M85.8 452h0M86.2 465.5h0M86.4 437.9h0M85.4 434.1h0M82.3 454.6h0M81.3 439.4h0M84 455h0M82 463h0M80.8 434.3h0M84 424.1h0M81.5 438.2h0M86 422.9h0M84 413.8h0M85.4 445.7h0M83.6 426.1h0M85.4 398.1h0M83.6 433.9h0M82.4 463.3h0M81.8 453.5h0M80.8 420.7h0M82.6 438.9h0M84.3 441.8h0M81.5 424.5h0M81.5 418.2h0M86.5 452.5h0M83.4 444h0M82.3 457.4h0M82.7 412.5h0M86.1 456.1h0M85.8 395.8h0M83.5 463.8h0M80.5 456.4h0" stroke="#bbbbbb" stroke-width="0.9" stroke-linecap="round" stroke-opacity="0.7"/>
<line x1="92.75" y1="390.90" x2="92.75" y2="407.70" stroke="#888" stroke-width="0.6" />
<line x1="92.75" y1="426.40" x2="92.75" y2="446.50" stroke="#888" stroke-width="0.6" />
<line x1="90.75" y1="390.90" x2="94.75" y2="390.90" stroke="#888" stroke-width="0.6" />
<line x1="90.75" y1="446.50" x2="94.75" y2="446.50" stroke="#888" stroke-width="0.6" />
<rect x="89.00" y="407.70" width="7.50" height="18.70" fill="#e6a8f2" stroke="#8a4a8f" stroke-width="0.6" />
<line x1="89.00" y1="412.40" x2="96.50" y2="412.40" stroke="#8a4a8f" stroke-width="0.7" />
<path d="M94.1 448.5h0M93.7 412.1h0M90.9 443.1h0M90.2 424.1h0M92.6 419.5h0M95 421.4h0M94.6 425.2h0M89.9 411h0M94.7 413.5h0M92.6 411.2h0M92.3 433.4h0M91.8 416.8h0M93.9 437.8h0M94.2 400.4h0M95.7 417h0M91.2 408.4h0M93.2 403.6h0M91.4 417h0" stroke="#c870d8" stroke-width="0.9" stroke-linecap="round" stroke-opacity="0.7"/>
<line x1="102.15" y1="384.40" x2="102.15" y2="398.00" stroke="#888" stroke-width="0.6" />
<line x1="102.15" y1="425.50" x2="102.15" y2="464.50" stroke="#888" stroke-width="0.6" />
<line x1="100.15" y1="384.40" x2="104.15" y2="384.40" stroke="#888" stroke-width="0.6" />
<line x1="100.15" y1="464.50" x2="104.15" y2="464.50" stroke="#888" stroke-width="0.6" />
<rect x="98.30" y="398.00" width="7.70" height="27.50" fill="#fdc98b" stroke="#a06a30" stroke-width="0.6" />
<line x1="98.30" y1="407.50" x2="106.00" y2="407.50" stroke="#a06a30" stroke-width="0.7" />
<path d="M102.6 388.5h0M99.8 417.8h0M101.2 414.2h0M104.8 418.6h0M102.9 443.9h0M104.5 412.1h0M99.3 431.9h0M100.8 428.9h0M105.2 413.6h0M102.7 411.7h0M105 422.6h0M100.3 401h0M103.2 383.6h0M99.7 431.6h0M100.8 423.5h0M102 425.9h0M102.1 414h0M102.9 461.8h0M102 424.9h0M99.6 404.6h0M99.2 423.1h0M100.5 419.5h0M105.2 391.8h0M102.3 424.6h0M99.3 383h0M101.1 447.5h0M99 384.9h0M101.5 393h0M103.1 414.4h0M99.3 411.3h0M100.3 395.4h0" stroke="#f0a050" stroke-width="0.9" stroke-linecap="round" stroke-opacity="0.7"/>
<rect x="112.20" y="383.30" width="7.00" height="7.00" fill="#3fa4dc" stroke="#555" stroke-width="0.5" />
<text x="114.10" y="396.58" font-size="8.0" transform="rotate(78 114.10 393.70)" >Mito. ribosome</text>
<rect x="121.25" y="383.30" width="7.00" height="7.00" fill="#5ad8d8" stroke="#555" stroke-width="0.5" />
<text x="123.15" y="396.58" font-size="8.0" transform="rotate(78 123.15 393.70)" >Mito. ribosome assembly</text>
<rect x="130.30" y="383.30" width="7.00" height="7.00" fill="#5ad8d8" stroke="#555" stroke-width="0.5" />
<text x="132.20" y="396.58" font-size="8.0" transform="rotate(78 132.20 393.70)" >mt-rRNA modifications</text>
<rect x="139.35" y="383.30" width="7.00" height="7.00" fill="#5ad8d8" stroke="#555" stroke-width="0.5" />
<text x="141.25" y="396.58" font-size="8.0" transform="rotate(78 141.25 393.70)" >mt-tRNA modifications</text>
<rect x="148.40" y="383.30" width="7.00" height="7.00" fill="#5ad8d8" stroke="#555" stroke-width="0.5" />
<text x="150.30" y="396.58" font-size="8.0" transform="rotate(78 150.30 393.70)" >mt-tRNA synthetases</text>
<rect x="157.45" y="383.30" width="7.00" height="7.00" fill="#d0d0d0" stroke="#555" stroke-width="0.5" />
<text x="159.35" y="396.58" font-size="8.0" transform="rotate(78 159.35 393.70)" >All MitoCarta</text>
<rect x="166.50" y="383.30" width="7.00" height="7.00" fill="#e4b2f2" stroke="#555" stroke-width="0.5" />
<text x="168.40" y="396.58" font-size="8.0" transform="rotate(78 168.40 393.70)" >TCA cycle</text>
<rect x="175.55" y="383.30" width="7.00" height="7.00" fill="#fdd59c" stroke="#555" stroke-width="0.5" />
<text x="177.45" y="396.58" font-size="8.0" transform="rotate(78 177.45 393.70)" >Fatty acid oxidation</text>
<text x="0.00" y="506.08" font-size="8.0" >Gene # :</text>
<text x="36.00" y="502.46" font-size="7.4" transform="rotate(72 36.00 499.80)" >70</text>
<text x="45.30" y="502.46" font-size="7.4" transform="rotate(72 45.30 499.80)" >10</text>
<text x="54.80" y="502.46" font-size="7.4" transform="rotate(72 54.80 499.80)" >5</text>
<text x="64.00" y="502.46" font-size="7.4" transform="rotate(72 64.00 499.80)" >12</text>
<text x="73.00" y="502.46" font-size="7.4" transform="rotate(72 73.00 499.80)" >19</text>
<text x="82.40" y="502.46" font-size="7.4" transform="rotate(72 82.40 499.80)" >758</text>
<text x="91.80" y="502.46" font-size="7.4" transform="rotate(72 91.80 499.80)" >18</text>
<text x="100.90" y="502.46" font-size="7.4" transform="rotate(72 100.90 499.80)" >34</text>
<line x1="36.90" y1="371.20" x2="81.90" y2="371.20" stroke="#231f20" stroke-width="0.8" />
<line x1="84.30" y1="371.20" x2="102.00" y2="371.20" stroke="#231f20" stroke-width="0.8" />
<line x1="46.30" y1="378.10" x2="81.90" y2="378.10" stroke="#231f20" stroke-width="0.8" />
<line x1="84.30" y1="378.10" x2="92.80" y2="378.10" stroke="#231f20" stroke-width="0.8" />
<line x1="55.40" y1="385.20" x2="80.30" y2="385.20" stroke="#231f20" stroke-width="0.8" />
<line x1="65.00" y1="392.40" x2="80.30" y2="392.40" stroke="#231f20" stroke-width="0.8" />
<line x1="74.20" y1="399.30" x2="78.70" y2="399.30" stroke="#231f20" stroke-width="0.8" />
<text x="37.50" y="377.81" font-size="7.8" text-anchor="middle" >***</text>
<text x="46.60" y="384.21" font-size="7.8" text-anchor="middle" >*</text>
<text x="92.60" y="384.21" font-size="7.8" text-anchor="middle" >***</text>
<text x="65.00" y="398.01" font-size="7.8" text-anchor="middle" >***</text>
<text x="101.80" y="377.81" font-size="7.8" text-anchor="middle" >***</text>
<text x="55.60" y="392.26" font-size="7.1" text-anchor="middle" >0.08</text>
<text x="73.40" y="405.96" font-size="7.1" text-anchor="middle" >0.01</text>
<text x="107.50" y="376.02" font-size="8.4" ><tspan font-style="italic">p</tspan>-value</text>
<text x="200.30" y="377.50" font-size="12.5" font-weight="bold" >i</text>
<text x="239.40" y="382.11" font-size="9.2" text-anchor="middle" >Complex</text>
<text x="239.40" y="391.51" font-size="9.2" text-anchor="middle" >I, III, IV, and V</text>
<text x="313.40" y="387.11" font-size="9.2" text-anchor="middle" >Complex II</text>
<path d="M203.00,406.10 C208.50,406.10 207.50,410.30 213.00,410.30" fill="none" stroke="#222" stroke-width="0.85" />
<path d="M203.00,410.30 C208.50,410.30 207.50,406.10 213.00,406.10" fill="none" stroke="#222" stroke-width="0.85" />
<path d="M226.00,406.10 C232.60,406.10 231.40,410.30 238.00,410.30" fill="none" stroke="#222" stroke-width="0.85" />
<path d="M226.00,410.30 C232.60,410.30 231.40,406.10 238.00,406.10" fill="none" stroke="#222" stroke-width="0.85" />
<path d="M241.50,406.10 C247.28,406.10 246.22,410.30 252.00,410.30" fill="none" stroke="#222" stroke-width="0.85" />
<path d="M241.50,410.30 C247.28,410.30 246.22,406.10 252.00,406.10" fill="none" stroke="#222" stroke-width="0.85" />
<path d="M265.00,406.10 C271.71,406.10 270.49,410.30 277.20,410.30" fill="none" stroke="#222" stroke-width="0.85" />
<path d="M265.00,410.30 C271.71,410.30 270.49,406.10 277.20,406.10" fill="none" stroke="#222" stroke-width="0.85" />
<path d="M287.90,405.50 C291.40,405.50 290.76,409.70 294.27,409.70 C297.77,409.70 297.13,405.50 300.63,405.50 C304.13,405.50 303.50,409.70 307.00,409.70" fill="none" stroke="#222" stroke-width="0.85" />
<path d="M287.90,409.70 C291.40,409.70 290.76,405.50 294.27,405.50 C297.77,405.50 297.13,409.70 300.63,409.70 C304.13,409.70 303.50,405.50 307.00,405.50" fill="none" stroke="#222" stroke-width="0.85" />
<path d="M320.00,405.50 C323.43,405.50 322.81,409.70 326.23,409.70 C329.66,409.70 329.04,405.50 332.47,405.50 C335.89,405.50 335.27,409.70 338.70,409.70" fill="none" stroke="#222" stroke-width="0.85" />
<path d="M320.00,409.70 C323.43,409.70 322.81,405.50 326.23,405.50 C329.66,405.50 329.04,409.70 332.47,409.70 C335.89,409.70 335.27,405.50 338.70,405.50" fill="none" stroke="#222" stroke-width="0.85" />
<path d="M212.60,411.00 C211.80,405.30 215.90,402.40 219.90,402.40 C224.40,402.40 226.60,405.60 226.40,408.30 C226.20,411.30 222.90,413.10 218.90,413.10 C215.90,413.10 213.60,412.60 212.60,411.00Z" fill="url(#gBlue)" stroke="#666" stroke-width="0.35"/>
<path d="M251.60,411.00 C250.80,405.30 254.90,402.40 258.90,402.40 C263.40,402.40 265.60,405.60 265.40,408.30 C265.20,411.30 261.90,413.10 257.90,413.10 C254.90,413.10 252.60,412.60 251.60,411.00Z" fill="url(#gOr)" stroke="#666" stroke-width="0.35"/>
<path d="M306.70,410.80 C305.90,405.10 310.00,402.20 314.00,402.20 C318.50,402.20 320.70,405.40 320.50,408.10 C320.30,411.10 317.00,412.90 313.00,412.90 C310.00,412.90 307.70,412.40 306.70,410.80Z" fill="url(#gOr)" stroke="#666" stroke-width="0.35"/>
<path d="M213.2,411.8 C209.7,412.8 207.0,416.4 203.0,418.4" fill="none" stroke="#222" stroke-width="0.85" />
<path d="M252.2,411.8 C248.7,412.8 246.1,416.8 242.1,418.8" fill="none" stroke="#222" stroke-width="0.85" />
<path d="M307.5,411.6 C304.0,412.6 301.0,416.4 297.0,418.4" fill="none" stroke="#222" stroke-width="0.85" />
<text x="216.00" y="427.32" font-size="8.1" >Transcription</text>
<line x1="267.40" y1="429.50" x2="267.40" y2="422.90" stroke="#d7262b" stroke-width="1.3" />
<path d="M265.20,423.70 L267.40,420.40 L269.60,423.70Z" fill="#d7262b"/>
<line x1="272.20" y1="429.50" x2="272.20" y2="422.90" stroke="#d7262b" stroke-width="1.3" />
<path d="M270.00,423.70 L272.20,420.40 L274.40,423.70Z" fill="#d7262b"/>
<text x="290.00" y="427.32" font-size="8.1" >Transcription</text>
<line x1="341.40" y1="429.50" x2="341.40" y2="422.90" stroke="#d7262b" stroke-width="1.3" />
<path d="M339.20,423.70 L341.40,420.40 L343.60,423.70Z" fill="#d7262b"/>
<line x1="346.20" y1="429.50" x2="346.20" y2="422.90" stroke="#d7262b" stroke-width="1.3" />
<path d="M344.00,423.70 L346.20,420.40 L348.40,423.70Z" fill="#d7262b"/>
<path d="M213.10,448.50 C221.60,449.50 227.60,452.50 234.60,451.50 C241.60,450.50 245.60,448.70 254.60,448.70" fill="none" stroke="#222" stroke-width="0.9" />
<path d="M226.90,452.50 C226.00,445.50 229.60,442.20 233.60,442.20 C237.60,442.20 241.20,445.50 240.30,452.50Z" fill="url(#gBlue)" stroke="#777" stroke-width="0.35"/>
<ellipse cx="233.90" cy="453.20" rx="6.3" ry="1.7" fill="#7cc4ee" stroke="#777" stroke-width="0.3"/>
<path d="M233.10,442.20 C230.60,439.70 231.60,437.70 233.60,437.20 C236.10,436.70 235.60,434.70 234.40,433.70" fill="none" stroke="#e0408a" stroke-width="0.85" />
<text x="253.90" y="450.72" font-size="5.6" >AAA</text>
<text x="210.60" y="464.52" font-size="8.1" >Mito. translation</text>
<line x1="272.60" y1="458.20" x2="272.60" y2="463.70" stroke="#2a6fb7" stroke-width="1.3" />
<path d="M270.40,462.90 L272.60,466.20 L274.80,462.90Z" fill="#2a6fb7"/>
<path d="M215.10,485.30 C219.10,488.30 223.60,491.30 229.60,490.30 C237.60,489.30 245.60,487.30 254.10,487.30" fill="none" stroke="#222" stroke-width="0.9" />
<circle cx="215.1" cy="485.3" r="1.2" fill="#111"/>
<circle cx="235.60" cy="484.30" r="6.6" fill="url(#gOr)" stroke="#777" stroke-width="0.35"/>
<ellipse cx="235.90" cy="490.10" rx="5.2" ry="1.6" fill="#f2c08a" stroke="#777" stroke-width="0.3"/>
<path d="M235.10,477.70 C232.60,475.20 233.60,473.20 235.60,472.70 C238.10,472.20 237.60,470.20 236.40,469.20" fill="none" stroke="#72d46a" stroke-width="0.85" />
<text x="255.90" y="488.52" font-size="5.6" >AAA</text>
<text x="208.90" y="500.72" font-size="8.1" >Cyto. translation</text>
<line x1="272.60" y1="493.80" x2="272.60" y2="499.30" stroke="#2a6fb7" stroke-width="1.3" />
<path d="M270.40,498.50 L272.60,501.80 L274.80,498.50Z" fill="#2a6fb7"/>
<path d="M289.10,485.30 C293.10,488.30 297.60,491.30 303.60,490.30 C311.60,489.30 319.60,487.30 328.10,487.30" fill="none" stroke="#222" stroke-width="0.9" />
<circle cx="289.1" cy="485.3" r="1.2" fill="#111"/>
<circle cx="309.60" cy="484.30" r="6.6" fill="url(#gOr)" stroke="#777" stroke-width="0.35"/>
<ellipse cx="309.90" cy="490.10" rx="5.2" ry="1.6" fill="#f2c08a" stroke="#777" stroke-width="0.3"/>
<path d="M309.10,477.70 C306.60,475.20 307.60,473.20 309.60,472.70 C312.10,472.20 311.60,470.20 310.40,469.20" fill="none" stroke="#72d46a" stroke-width="0.85" />
<text x="329.90" y="488.52" font-size="5.6" >AAA</text>
<text x="283.80" y="500.72" font-size="8.1" >Cyto. translation —</text>
<text x="366.40" y="391.50" font-size="6.4" text-anchor="middle" >I</text>
<text x="366.40" y="451.20" font-size="6.4" text-anchor="middle" >I</text>
<text x="380.40" y="391.50" font-size="6.4" text-anchor="middle" >II</text>
<text x="380.40" y="451.20" font-size="6.4" text-anchor="middle" >II</text>
<text x="392.30" y="391.50" font-size="6.4" text-anchor="middle" >III</text>
<text x="392.30" y="451.20" font-size="6.4" text-anchor="middle" >III</text>
<text x="405.80" y="391.50" font-size="6.4" text-anchor="middle" >IV</text>
<text x="405.80" y="451.20" font-size="6.4" text-anchor="middle" >IV</text>
<text x="418.40" y="391.50" font-size="6.4" text-anchor="middle" >V</text>
<text x="418.40" y="451.20" font-size="6.4" text-anchor="middle" >V</text>
<rect x="359.30" y="400.70" width="7.6" height="7.8" rx="3" fill="#dcdcdc" stroke="#555" stroke-width="0.5"/>
<rect x="359.60" y="392.70" width="15" height="8.6" rx="2.2" fill="#dcdcdc" stroke="#555" stroke-width="0.5"/>
<circle cx="370.50" cy="397.00" r="3.6" fill="none" stroke="#555" stroke-width="0.4"/>
<circle cx="366.90" cy="397.00" r="3.0" fill="none" stroke="#555" stroke-width="0.4"/>
<rect x="361.10" y="394.50" width="4.2" height="5.2" fill="none" stroke="#555" stroke-width="0.4"/>
<path d="M378.60,392.90 h4.0 v7.6 c1.8,0.8 2.3,2.2 2.3,3.6 a3.8 3.6 0 0 1 -8.6 0 c0,-1.4 0.5,-2.8 2.3,-3.6Z" fill="#dcdcdc" stroke="#555" stroke-width="0.5"/>
<path d="M388.50,392.90 h8.2 v7.0 c0.6,1 0.8,2.2 0.5,3.4 c-0.6,1.8 -2.6,2.0 -4.6,2.0 c-2.0,0 -4.0,-0.2 -4.6,-2.0 c-0.3,-1.2 -0.1,-2.4 0.5,-3.4Z" fill="#dcdcdc" stroke="#555" stroke-width="0.5"/>
<line x1="391.10" y1="393.70" x2="391.10" y2="399.70" stroke="#555" stroke-width="0.4" />
<line x1="392.60" y1="393.70" x2="392.60" y2="399.70" stroke="#555" stroke-width="0.4" />
<line x1="394.10" y1="393.70" x2="394.10" y2="399.70" stroke="#555" stroke-width="0.4" />
<ellipse cx="405.90" cy="397.30" rx="4.8" ry="4.1" fill="#dcdcdc" stroke="#555" stroke-width="0.5"/>
<ellipse cx="405.50" cy="397.70" rx="2.6" ry="2.6" fill="none" stroke="#555" stroke-width="0.4"/>
<circle cx="418.50" cy="404.90" r="4.0" fill="#dcdcdc" stroke="#555" stroke-width="0.5"/>
<rect x="414.50" y="393.20" width="7.0" height="7.4" fill="#dcdcdc" stroke="#555" stroke-width="0.5"/>
<line x1="416.50" y1="393.70" x2="416.50" y2="401.20" stroke="#555" stroke-width="0.4" />
<circle cx="417.50" cy="401.30" r="1.8" fill="none" stroke="#555" stroke-width="0.4"/>
<rect x="359.30" y="460.40" width="7.6" height="7.8" rx="3" fill="#f9c4aa" stroke="#555" stroke-width="0.5"/>
<rect x="359.60" y="452.40" width="15" height="8.6" rx="2.2" fill="#f9c4aa" stroke="#555" stroke-width="0.5"/>
<circle cx="370.50" cy="456.70" r="3.6" fill="none" stroke="#555" stroke-width="0.4"/>
<circle cx="366.90" cy="456.70" r="3.0" fill="none" stroke="#555" stroke-width="0.4"/>
<rect x="361.10" y="454.20" width="4.2" height="5.2" fill="none" stroke="#555" stroke-width="0.4"/>
<path d="M378.60,452.60 h4.0 v7.6 c1.8,0.8 2.3,2.2 2.3,3.6 a3.8 3.6 0 0 1 -8.6 0 c0,-1.4 0.5,-2.8 2.3,-3.6Z" fill="#e0604e" stroke="#555" stroke-width="0.5"/>
<path d="M388.50,452.60 h8.2 v7.0 c0.6,1 0.8,2.2 0.5,3.4 c-0.6,1.8 -2.6,2.0 -4.6,2.0 c-2.0,0 -4.0,-0.2 -4.6,-2.0 c-0.3,-1.2 -0.1,-2.4 0.5,-3.4Z" fill="#f9c4aa" stroke="#555" stroke-width="0.5"/>
<line x1="391.10" y1="453.40" x2="391.10" y2="459.40" stroke="#555" stroke-width="0.4" />
<line x1="392.60" y1="453.40" x2="392.60" y2="459.40" stroke="#555" stroke-width="0.4" />
<line x1="394.10" y1="453.40" x2="394.10" y2="459.40" stroke="#555" stroke-width="0.4" />
<ellipse cx="405.90" cy="457.00" rx="4.8" ry="4.1" fill="#f9c4aa" stroke="#555" stroke-width="0.5"/>
<ellipse cx="405.50" cy="457.40" rx="2.6" ry="2.6" fill="none" stroke="#555" stroke-width="0.4"/>
<circle cx="418.50" cy="464.60" r="4.0" fill="#f9c4aa" stroke="#555" stroke-width="0.5"/>
<rect x="414.50" y="452.90" width="7.0" height="7.4" fill="#f9c4aa" stroke="#555" stroke-width="0.5"/>
<line x1="416.50" y1="453.40" x2="416.50" y2="460.90" stroke="#555" stroke-width="0.4" />
<circle cx="417.50" cy="461.00" r="1.8" fill="none" stroke="#555" stroke-width="0.4"/>
<line x1="390.90" y1="415.00" x2="390.90" y2="420.30" stroke="#222" stroke-width="0.8" />
<rect x="359.80" y="420.30" width="62.20" height="11.20" fill="#fdc98a" stroke="#333" stroke-width="0.6" rx="1.5"/>
<text x="390.90" y="429.32" font-size="9.5" text-anchor="middle" >Differentiation</text>
<line x1="390.90" y1="431.50" x2="390.90" y2="437.30" stroke="#222" stroke-width="1.3" />
<path d="M388.70,436.50 L390.90,439.80 L393.10,436.50Z" fill="#222"/>
<circle cx="362.9" cy="479.3" r="1.8" fill="#e2604f" stroke="#555" stroke-width="0.4"/>
<text x="367.00" y="482.22" font-size="8.1" >Large increase</text>
<circle cx="362.9" cy="488.6" r="1.8" fill="#fac3a8" stroke="#555" stroke-width="0.4"/>
<text x="367.00" y="491.52" font-size="8.1" >Small increase</text>
<text x="434.00" y="377.50" font-size="12.5" font-weight="bold" >j</text>
<text x="501.60" y="383.63" font-size="8.7" text-anchor="end" >Differentiation</text>
<text x="501.60" y="395.53" font-size="8.7" text-anchor="end" >Exposure</text>
<text x="501.60" y="406.93" font-size="8.7" text-anchor="end" >Chloramphenicol</text>
<text x="558.50" y="383.40" font-size="8.6" text-anchor="middle" >4d</text>
<line x1="510.00" y1="386.30" x2="606.20" y2="386.30" stroke="#231f20" stroke-width="0.8" />
<text x="532.00" y="395.90" font-size="8.6" text-anchor="middle" >30 s</text>
<text x="585.60" y="395.90" font-size="8.6" text-anchor="middle" >180 s</text>
<line x1="510.00" y1="398.20" x2="553.50" y2="398.20" stroke="#231f20" stroke-width="0.8" />
<line x1="563.80" y1="398.20" x2="606.20" y2="398.20" stroke="#231f20" stroke-width="0.8" />
<text x="519.60" y="406.31" font-size="7.8" text-anchor="middle" >-</text>
<text x="543.70" y="406.31" font-size="7.8" text-anchor="middle" >+</text>
<text x="572.80" y="406.31" font-size="7.8" text-anchor="middle" >-</text>
<text x="596.20" y="406.31" font-size="7.8" text-anchor="middle" >+</text>
<clipPath id="cpb1"><rect x="506.8" y="409.2" width="50.6" height="70.8"/></clipPath>
<clipPath id="cpb2"><rect x="560.0" y="409.2" width="50.6" height="70.8"/></clipPath>
<rect x="506.80" y="409.20" width="50.60" height="70.80" fill="#fbfbfb" />
<rect x="560.00" y="409.20" width="50.60" height="70.80" fill="#f2f2f2" />
<g clip-path="url(#cpb1)">
<rect x="508" y="435.5" width="22" height="4" fill="#e6e6e6" filter="url(#blur1)"/>
<rect x="510" y="471.5" width="18" height="1.5" fill="#e4e4e4" filter="url(#blur1)"/>
<rect x="509.00" y="415.20" width="21.50" height="6.00" rx="3.00" fill="#080808" fill-opacity="1.00" filter="url(#blur08)"/>
<rect x="533.20" y="415.90" width="23.60" height="5.00" rx="2.50" fill="#080808" fill-opacity="1.00" filter="url(#blur08)"/>
<rect x="508.00" y="426.70" width="23.00" height="7.20" rx="3.60" fill="#080808" fill-opacity="1.00" filter="url(#blur08)"/>
<rect x="533.00" y="427.30" width="23.50" height="5.20" rx="2.60" fill="#080808" fill-opacity="1.00" filter="url(#blur08)"/>
<rect x="508.00" y="454.00" width="21.00" height="5.60" rx="2.80" fill="#080808" fill-opacity="1.00" filter="url(#blur08)"/>
<rect x="533.50" y="453.90" width="23.00" height="5.20" rx="2.60" fill="#080808" fill-opacity="1.00" filter="url(#blur08)"/>
</g>
<g clip-path="url(#cpb2)">
<rect x="561" y="436.5" width="23" height="4.5" fill="#666" filter="url(#blur1)"/>
<rect x="587" y="437" width="21" height="3" fill="#ddd" filter="url(#blur1)"/>
<rect x="560.50" y="414.30" width="24.00" height="9.40" rx="4.70" fill="#080808" fill-opacity="1.00" filter="url(#blur08)"/>
<rect x="585.00" y="415.00" width="25.00" height="8.00" rx="4.00" fill="#080808" fill-opacity="1.00" filter="url(#blur08)"/>
<rect x="560.50" y="425.60" width="24.00" height="10.40" rx="5.20" fill="#080808" fill-opacity="1.00" filter="url(#blur08)"/>
<rect x="585.00" y="426.40" width="25.00" height="8.60" rx="4.30" fill="#080808" fill-opacity="1.00" filter="url(#blur08)"/>
<rect x="560.50" y="452.10" width="24.00" height="9.40" rx="4.70" fill="#080808" fill-opacity="1.00" filter="url(#blur08)"/>
<rect x="585.00" y="452.20" width="25.00" height="8.80" rx="4.40" fill="#080808" fill-opacity="1.00" filter="url(#blur08)"/>
<rect x="563" y="470.6" width="20" height="2.2" fill="#aaa" filter="url(#blur1)"/>
<rect x="590" y="470.8" width="16" height="1.5" fill="#ddd" filter="url(#blur1)"/>
</g>
<rect x="506.80" y="409.20" width="50.60" height="70.80" fill="none" stroke="#333" stroke-width="0.7" />
<rect x="560.00" y="409.20" width="50.60" height="70.80" fill="none" stroke="#333" stroke-width="0.7" />
<text x="501.60" y="422.85" font-size="8.2" text-anchor="end" >C V ATP5A</text>
<text x="501.60" y="433.75" font-size="8.2" text-anchor="end" >C III UQCRC2</text>
<text x="501.60" y="443.55" font-size="8.2" text-anchor="end" >C IV MTCO1</text>
<text x="501.60" y="459.65" font-size="8.2" text-anchor="end" >C II SDHB</text>
<text x="501.60" y="474.15" font-size="8.2" text-anchor="end" >C I NDUFB8</text>
<text x="501.60" y="497.55" font-size="8.2" text-anchor="end" >HSP90</text>
<rect x="506.80" y="485.30" width="50.60" height="17.00" fill="#fbfbfb" stroke="#333" stroke-width="0.7" />
<rect x="509.50" y="493.05" width="20.50" height="3.90" rx="1.95" fill="#080808" fill-opacity="1.00" filter="url(#blur08)"/>
<rect x="533.00" y="493.05" width="22.00" height="3.90" rx="1.95" fill="#080808" fill-opacity="1.00" filter="url(#blur08)"/>
<line x1="559.00" y1="494.60" x2="561.60" y2="494.60" stroke="#333" stroke-width="0.7" />
<text x="562.00" y="497.16" font-size="7.1" >100</text>
<text x="612.00" y="414.28" font-size="6.6" >kDa</text>
<line x1="612.30" y1="419.30" x2="615.00" y2="419.30" stroke="#333" stroke-width="0.7" />
<text x="615.60" y="421.86" font-size="7.1" >55</text>
<line x1="612.30" y1="429.80" x2="615.00" y2="429.80" stroke="#333" stroke-width="0.7" />
<text x="615.60" y="432.36" font-size="7.1" >40</text>
<line x1="612.30" y1="443.80" x2="615.00" y2="443.80" stroke="#333" stroke-width="0.7" />
<text x="615.60" y="446.36" font-size="7.1" >35</text>
<line x1="612.30" y1="456.50" x2="615.00" y2="456.50" stroke="#333" stroke-width="0.7" />
<text x="615.60" y="459.06" font-size="7.1" >25</text>
<line x1="612.30" y1="476.80" x2="615.00" y2="476.80" stroke="#333" stroke-width="0.7" />
<text x="615.60" y="479.36" font-size="7.1" >15</text>
<text x="632.20" y="407.21" font-size="7.8" text-anchor="middle" >-</text>
<text x="643.40" y="407.21" font-size="7.8" text-anchor="middle" >+</text>
<rect x="628.40" y="456.50" width="8.70" height="43.70" fill="#fdc986" stroke="#444" stroke-width="0.6" />
<rect x="639.60" y="426.30" width="8.30" height="73.90" fill="#fdc986" stroke="#444" stroke-width="0.6" />
<line x1="650.10" y1="414.00" x2="650.10" y2="500.20" stroke="#231f20" stroke-width="0.8" />
<line x1="627.00" y1="500.20" x2="650.10" y2="500.20" stroke="#231f20" stroke-width="0.8" />
<rect x="626.00" y="489.20" width="26.00" height="3.60" fill="#fff" />
<line x1="628.40" y1="489.20" x2="637.10" y2="489.20" stroke="#555" stroke-width="0.5" />
<line x1="628.40" y1="492.80" x2="637.10" y2="492.80" stroke="#555" stroke-width="0.5" />
<line x1="639.60" y1="489.20" x2="647.90" y2="489.20" stroke="#555" stroke-width="0.5" />
<line x1="639.60" y1="492.80" x2="647.90" y2="492.80" stroke="#555" stroke-width="0.5" />
<line x1="650.10" y1="419.20" x2="652.60" y2="419.20" stroke="#231f20" stroke-width="0.7" />
<text x="653.60" y="422.15" font-size="8.2" >40</text>
<line x1="650.10" y1="446.90" x2="652.60" y2="446.90" stroke="#231f20" stroke-width="0.7" />
<text x="653.60" y="449.85" font-size="8.2" >35</text>
<line x1="650.10" y1="474.40" x2="652.60" y2="474.40" stroke="#231f20" stroke-width="0.7" />
<text x="653.60" y="477.35" font-size="8.2" >30</text>
<line x1="650.10" y1="500.20" x2="652.60" y2="500.20" stroke="#231f20" stroke-width="0.7" />
<text x="653.60" y="503.15" font-size="8.2" >0</text>
<circle cx="632.6" cy="439.3" r="1.2" fill="#fdc986" stroke="#7a4a1a" stroke-width="0.6"/>
<circle cx="632.6" cy="444.2" r="1.2" fill="#fdc986" stroke="#7a4a1a" stroke-width="0.6"/>
<circle cx="630" cy="457.2" r="1.2" fill="#fdc986" stroke="#7a4a1a" stroke-width="0.6"/>
<circle cx="632.6" cy="457.2" r="1.2" fill="#fdc986" stroke="#7a4a1a" stroke-width="0.6"/>
<circle cx="635.2" cy="457.2" r="1.2" fill="#fdc986" stroke="#7a4a1a" stroke-width="0.6"/>
<circle cx="632.6" cy="485.6" r="1.2" fill="#fdc986" stroke="#7a4a1a" stroke-width="0.6"/>
<circle cx="643.4" cy="417" r="1.2" fill="#fdc986" stroke="#7a4a1a" stroke-width="0.6"/>
<circle cx="643.4" cy="420" r="1.2" fill="#fdc986" stroke="#7a4a1a" stroke-width="0.6"/>
<circle cx="643.4" cy="426.8" r="1.2" fill="#fdc986" stroke="#7a4a1a" stroke-width="0.6"/>
<circle cx="641.8" cy="429.7" r="1.2" fill="#fdc986" stroke="#7a4a1a" stroke-width="0.6"/>
<circle cx="645" cy="429.7" r="1.2" fill="#fdc986" stroke="#7a4a1a" stroke-width="0.6"/>
<circle cx="642" cy="435.3" r="1.2" fill="#fdc986" stroke="#7a4a1a" stroke-width="0.6"/>
<circle cx="645" cy="436.2" r="1.2" fill="#fdc986" stroke="#7a4a1a" stroke-width="0.6"/>
<line x1="633.50" y1="413.60" x2="642.90" y2="413.60" stroke="#231f20" stroke-width="0.8" />
<text x="637.80" y="414.41" font-size="7.8" text-anchor="middle" >**</text>
<text x="681.40" y="459.85" font-size="9.3" text-anchor="middle" transform="rotate(90 681.40 456.50)" >Relative band intensity</text>
<text x="671.40" y="459.85" font-size="9.3" text-anchor="middle" transform="rotate(90 671.40 456.50)" >(SDHB / all bands, %)</text>
</svg>
</body></html>
